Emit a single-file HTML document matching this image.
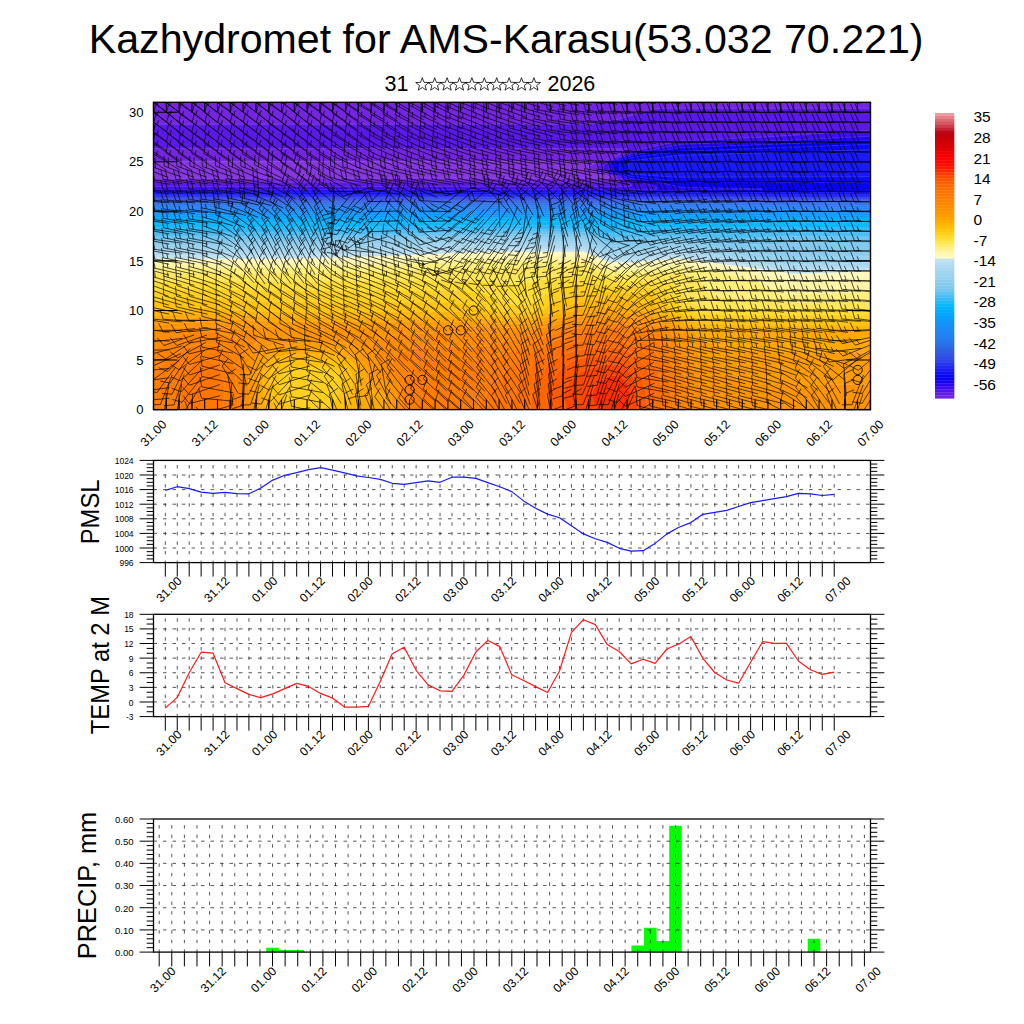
<!DOCTYPE html><html><head><meta charset="utf-8"><style>html,body{margin:0;padding:0;background:#fff;width:1024px;height:1024px;overflow:hidden}svg{display:block}</style></head><body>
<svg width="1024" height="1024" viewBox="0 0 1024 1024">
<rect width="1024" height="1024" fill="#fff"/>
<text x="88.8" y="52.8" font-family="Liberation Sans, sans-serif" font-size="41.5" fill="#000" textLength="834.7" lengthAdjust="spacingAndGlyphs">Kazhydromet for AMS-Karasu(53.032 70.221)</text>
<text x="384.6" y="91.2" font-family="Liberation Sans, sans-serif" font-size="21.5" fill="#000">31</text>
<text x="547.5" y="91.2" font-family="Liberation Sans, sans-serif" font-size="21.5" fill="#000">2026</text>
<polygon points="422.3,77.7 424.0,82.3 428.9,82.5 425.1,85.5 426.4,90.2 422.3,87.5 418.2,90.2 419.5,85.5 415.7,82.5 420.6,82.3" fill="none" stroke="#000" stroke-width="0.8"/>
<polygon points="434.7,77.7 436.4,82.3 441.3,82.5 437.5,85.5 438.8,90.2 434.7,87.5 430.6,90.2 431.9,85.5 428.1,82.5 433.0,82.3" fill="none" stroke="#000" stroke-width="0.8"/>
<polygon points="447.1,77.7 448.8,82.3 453.7,82.5 449.9,85.5 451.2,90.2 447.1,87.5 443.0,90.2 444.3,85.5 440.5,82.5 445.4,82.3" fill="none" stroke="#000" stroke-width="0.8"/>
<polygon points="459.5,77.7 461.2,82.3 466.1,82.5 462.3,85.5 463.6,90.2 459.5,87.5 455.4,90.2 456.7,85.5 452.9,82.5 457.8,82.3" fill="none" stroke="#000" stroke-width="0.8"/>
<polygon points="471.9,77.7 473.6,82.3 478.5,82.5 474.7,85.5 476.0,90.2 471.9,87.5 467.8,90.2 469.1,85.5 465.3,82.5 470.2,82.3" fill="none" stroke="#000" stroke-width="0.8"/>
<polygon points="484.3,77.7 486.0,82.3 490.9,82.5 487.1,85.5 488.4,90.2 484.3,87.5 480.2,90.2 481.5,85.5 477.7,82.5 482.6,82.3" fill="none" stroke="#000" stroke-width="0.8"/>
<polygon points="496.7,77.7 498.4,82.3 503.3,82.5 499.5,85.5 500.8,90.2 496.7,87.5 492.6,90.2 493.9,85.5 490.1,82.5 495.0,82.3" fill="none" stroke="#000" stroke-width="0.8"/>
<polygon points="509.1,77.7 510.8,82.3 515.7,82.5 511.9,85.5 513.2,90.2 509.1,87.5 505.0,90.2 506.3,85.5 502.5,82.5 507.4,82.3" fill="none" stroke="#000" stroke-width="0.8"/>
<polygon points="521.5,77.7 523.2,82.3 528.1,82.5 524.3,85.5 525.6,90.2 521.5,87.5 517.4,90.2 518.7,85.5 514.9,82.5 519.8,82.3" fill="none" stroke="#000" stroke-width="0.8"/>
<polygon points="533.9,77.7 535.6,82.3 540.5,82.5 536.7,85.5 538.0,90.2 533.9,87.5 529.8,90.2 531.1,85.5 527.3,82.5 532.2,82.3" fill="none" stroke="#000" stroke-width="0.8"/>
<svg x="153.5" y="102.3" width="717.0" height="307.3" viewBox="0 0 1434 615" preserveAspectRatio="none"><rect width="1434" height="615" fill="#8a3ae0"/><path fill="#8737e0" fill-rule="evenodd" stroke="#fff" stroke-opacity="0.22" stroke-width="1.2" d="M0 0 0 614 1433 614 1433 0z"/><path fill="#7425e1" fill-rule="evenodd" stroke="#fff" stroke-opacity="0.22" stroke-width="1.2" d="M0 0 0 118 887 118 887 120 870 128 869 131 908 147 911 150 908 152 0 152 0 614 1433 614 1433 0z"/><path fill="#5b19e7" fill-rule="evenodd" stroke="#fff" stroke-opacity="0.22" stroke-width="1.2" d="M1433 12 1013 12 984 18 919 37 875 44 0 44 0 92 949 93 935 103 887 127 889 135 921 149 932 158 931 160 0 160 0 614 1433 614z"/><path fill="#3e0eed" fill-rule="evenodd" stroke="#fff" stroke-opacity="0.22" stroke-width="1.2" d="M1433 56 1234 69 1058 77 997 89 949 101 924 112 899 126 900 135 902 137 945 157 957 166 951 169 0 169 0 614 1433 614z"/><path fill="#2306f2" fill-rule="evenodd" stroke="#fff" stroke-opacity="0.22" stroke-width="1.2" d="M1433 68 1227 78 1058 84 956 103 932 112 911 123 911 137 921 143 950 155 1000 167 1007 171 1005 175 0 175 0 614 1433 614z"/><path fill="#0801f7" fill-rule="evenodd" stroke="#fff" stroke-opacity="0.22" stroke-width="1.2" d="M1433 77 1052 91 960 106 938 113 921 123 921 136 924 140 934 145 954 152 1011 160 1055 170 1217 173 1217 175 1095 175 1029 178 0 178 0 614 1433 614z"/><path fill="#0a0af8" fill-rule="evenodd" stroke="#fff" stroke-opacity="0.22" stroke-width="1.2" d="M1433 180 0 181 0 614 1433 614zM1433 84 1049 98 960 110 948 113 933 121 933 139 939 143 954 148 1049 159 1433 161z"/><path fill="#191af7" fill-rule="evenodd" stroke="#fff" stroke-opacity="0.22" stroke-width="1.2" d="M0 184 0 614 1433 614 1433 184zM1433 95 1050 106 953 117 949 119 949 140 959 144 1045 150 1433 149z"/><path fill="#232df1" fill-rule="evenodd" stroke="#fff" stroke-opacity="0.22" stroke-width="1.2" d="M0 187 0 614 1433 614 1433 188z"/><path fill="#2c41ea" fill-rule="evenodd" stroke="#fff" stroke-opacity="0.22" stroke-width="1.2" d="M0 190 0 614 1433 614 1433 191z"/><path fill="#304fe6" fill-rule="evenodd" stroke="#fff" stroke-opacity="0.22" stroke-width="1.2" d="M0 193 0 614 1433 614 1433 194z"/><path fill="#3059e2" fill-rule="evenodd" stroke="#fff" stroke-opacity="0.22" stroke-width="1.2" d="M0 196 0 614 1433 614 1433 196z"/><path fill="#2f64e3" fill-rule="evenodd" stroke="#fff" stroke-opacity="0.22" stroke-width="1.2" d="M0 199 0 614 1433 614 1433 199z"/><path fill="#2b70eb" fill-rule="evenodd" stroke="#fff" stroke-opacity="0.22" stroke-width="1.2" d="M0 202 0 614 1433 614 1433 202z"/><path fill="#277af1" fill-rule="evenodd" stroke="#fff" stroke-opacity="0.22" stroke-width="1.2" d="M0 206 0 614 1433 614 1433 206z"/><path fill="#2281f3" fill-rule="evenodd" stroke="#fff" stroke-opacity="0.22" stroke-width="1.2" d="M0 210 0 614 1433 614 1433 210z"/><path fill="#1d88f5" fill-rule="evenodd" stroke="#fff" stroke-opacity="0.22" stroke-width="1.2" d="M0 214 0 614 1433 614 1433 214z"/><path fill="#188ff8" fill-rule="evenodd" stroke="#fff" stroke-opacity="0.22" stroke-width="1.2" d="M0 218 0 614 1433 614 1433 218z"/><path fill="#0e96fb" fill-rule="evenodd" stroke="#fff" stroke-opacity="0.22" stroke-width="1.2" d="M0 222 0 614 1433 614 1433 222z"/><path fill="#049dfe" fill-rule="evenodd" stroke="#fff" stroke-opacity="0.22" stroke-width="1.2" d="M0 227 0 614 1433 614 1433 227z"/><path fill="#00a7ff" fill-rule="evenodd" stroke="#fff" stroke-opacity="0.22" stroke-width="1.2" d="M0 231 0 614 1433 614 1433 231z"/><path fill="#00b1ff" fill-rule="evenodd" stroke="#fff" stroke-opacity="0.22" stroke-width="1.2" d="M0 235 0 614 1433 614 1433 235 869 235 708 233 561 235z"/><path fill="#0db8fd" fill-rule="evenodd" stroke="#fff" stroke-opacity="0.22" stroke-width="1.2" d="M0 241 0 614 1433 614 1433 241 878 241 865 239 734 238 486 241z"/><path fill="#2fb8f8" fill-rule="evenodd" stroke="#fff" stroke-opacity="0.22" stroke-width="1.2" d="M0 251 0 614 1433 614 1433 251 887 251 863 247 669 246 351 251z"/><path fill="#4dbef4" fill-rule="evenodd" stroke="#fff" stroke-opacity="0.22" stroke-width="1.2" d="M0 260 0 614 1433 614 1433 260 1223 260 1179 262 1082 262 1034 260 994 262 907 262 882 259 862 254 669 253 313 260z"/><path fill="#6bc4f1" fill-rule="evenodd" stroke="#fff" stroke-opacity="0.22" stroke-width="1.2" d="M0 268 0 614 1433 614 1433 269 1266 268 1199 272 1122 272 1059 268 1026 268 977 271 911 271 883 266 862 260 699 258 495 264 255 268z"/><path fill="#83c9ee" fill-rule="evenodd" stroke="#fff" stroke-opacity="0.22" stroke-width="1.2" d="M0 275 0 614 1433 614 1433 283 1275 280 1240 284 1197 285 1129 282 1051 275 946 281 911 280 866 267 853 265 732 264 275 275z"/><path fill="#8cccee" fill-rule="evenodd" stroke="#fff" stroke-opacity="0.22" stroke-width="1.2" d="M0 281 0 614 1433 614 1433 297 1227 297 1157 292 1051 281 961 288 911 287 860 270 675 269 481 276 261 281z"/><path fill="#95d0ef" fill-rule="evenodd" stroke="#fff" stroke-opacity="0.22" stroke-width="1.2" d="M0 286 0 614 1433 614 1433 308 1280 311 1051 286 1036 286 958 294 909 292 859 274 679 273 464 281 258 286z"/><path fill="#9ed3ef" fill-rule="evenodd" stroke="#fff" stroke-opacity="0.22" stroke-width="1.2" d="M0 291 0 614 1433 614 1433 316 1274 319 1051 291 1036 291 953 300 911 298 861 279 688 277 485 285 256 291z"/><path fill="#a7d7f0" fill-rule="evenodd" stroke="#fff" stroke-opacity="0.22" stroke-width="1.2" d="M0 296 0 614 1433 614 1433 321 1273 325 1052 296 1035 296 955 305 911 303 860 283 677 282 479 290 254 296z"/><path fill="#b1daf0" fill-rule="evenodd" stroke="#fff" stroke-opacity="0.22" stroke-width="1.2" d="M0 301 0 614 1433 614 1433 327 1278 331 1050 301 957 310 910 308 865 290 856 288 684 287 487 295 265 301z"/><path fill="#c2e2f1" fill-rule="evenodd" stroke="#fff" stroke-opacity="0.22" stroke-width="1.2" d="M0 306 0 614 1433 614 1433 332 1275 336 1046 306 961 315 916 314 904 311 861 294 696 292 472 301 245 307z"/><path fill="#fff9bf" fill-rule="evenodd" stroke="#fff" stroke-opacity="0.22" stroke-width="1.2" d="M0 313 0 614 1433 614 1433 339 1275 343 1241 337 1048 312 954 321 911 319 860 299 672 299 479 307 254 313z"/><path fill="#fff5a4" fill-rule="evenodd" stroke="#fff" stroke-opacity="0.22" stroke-width="1.2" d="M0 322 0 614 1433 614 1433 351 1277 359 1241 349 1191 340 1046 321 952 330 917 328 901 324 860 308 680 308 487 316 265 322z"/><path fill="#fff07e" fill-rule="evenodd" stroke="#fff" stroke-opacity="0.22" stroke-width="1.2" d="M0 331 0 614 1433 614 1433 379 1276 385 1248 379 1230 373 1216 365 1206 356 1136 342 1047 330 957 338 911 336 861 317 681 317 487 325 265 331z"/><path fill="#ffe759" fill-rule="evenodd" stroke="#fff" stroke-opacity="0.22" stroke-width="1.2" d="M1433 399 1279 401 1141 391 1122 388 1111 384 1109 381 1110 378 1102 374 1093 356 1079 348 1050 341 990 343 958 346 911 344 860 326 728 331 669 331 471 338 250 343 0 342 0 614 1433 614z"/><path fill="#ffdd34" fill-rule="evenodd" stroke="#fff" stroke-opacity="0.22" stroke-width="1.2" d="M1433 416 1263 417 1155 415 1107 412 1088 407 1069 396 1060 387 1052 373 1045 367 1034 362 995 357 939 358 910 356 890 350 862 345 803 350 740 363 713 363 645 356 512 356 246 360 167 358 0 359 0 614 1433 614z"/><path fill="#ffd11e" fill-rule="evenodd" stroke="#fff" stroke-opacity="0.22" stroke-width="1.2" d="M1433 426 1162 426 1102 424 1084 421 1068 416 1044 398 1024 380 1011 374 986 370 909 368 897 365 875 363 839 366 808 373 793 379 769 395 755 402 734 406 713 403 661 383 618 377 198 376 114 373 0 376 0 614 1433 614z"/><path fill="#ffc40d" fill-rule="evenodd" stroke="#fff" stroke-opacity="0.22" stroke-width="1.2" d="M1433 436 1173 436 1097 433 1075 428 1044 417 1017 397 997 387 982 384 894 378 870 379 837 385 814 394 774 416 740 421 719 421 681 417 635 404 589 400 241 400 137 393 67 393 0 398 0 614 1433 614zM252 549 261 538 273 533 288 531 345 531 356 533 367 538 376 550 377 561 373 577 367 590 360 600 351 608 342 612 328 614 292 613 280 610 273 606 261 592 251 567z"/><path fill="#ffb704" fill-rule="evenodd" stroke="#fff" stroke-opacity="0.22" stroke-width="1.2" d="M1433 446 1184 446 1102 443 1089 441 1062 433 1019 417 992 403 961 398 907 394 877 395 856 398 832 405 806 417 771 425 737 429 700 428 642 421 594 419 281 420 176 417 131 412 73 412 28 417 0 418 0 614 241 614 232 572 231 555 234 540 238 533 252 522 266 518 289 516 346 516 363 518 380 524 390 533 396 546 397 564 394 584 386 614 1433 614z"/><path fill="#ffaa00" fill-rule="evenodd" stroke="#fff" stroke-opacity="0.22" stroke-width="1.2" d="M1433 456 1195 456 1108 453 1080 448 1019 425 997 419 948 412 911 409 869 411 778 431 741 436 701 436 613 429 297 430 207 428 135 423 69 423 0 427 0 614 225 614 219 568 219 547 221 537 226 526 241 513 254 508 273 505 342 504 372 507 388 513 403 526 410 542 412 554 412 582 405 614 1433 614z"/><path fill="#ff9d00" fill-rule="evenodd" stroke="#fff" stroke-opacity="0.22" stroke-width="1.2" d="M1433 501 1234 500 1169 495 1146 491 1104 479 1088 468 1077 456 1014 432 983 425 918 420 885 420 849 423 772 439 740 443 687 443 633 439 237 439 112 431 65 432 0 437 0 614 213 614 209 572 209 541 212 528 217 518 227 507 242 499 259 495 285 493 366 494 383 497 402 506 416 522 432 564 439 571 453 577 462 586 466 598 465 608 462 614 1433 614z"/><path fill="#ff9500" fill-rule="evenodd" stroke="#fff" stroke-opacity="0.22" stroke-width="1.2" d="M1433 565 1247 564 1210 561 1174 554 1135 538 1098 513 1083 498 1051 455 998 436 942 429 862 429 832 433 763 447 712 451 632 448 261 450 204 447 126 440 78 440 0 446 0 614 203 614 199 565 199 540 201 527 210 506 223 493 237 486 252 482 284 479 372 480 389 483 411 493 424 507 444 546 466 567 470 573 477 592 476 614 1433 614z"/><path fill="#ff8d00" fill-rule="evenodd" stroke="#fff" stroke-opacity="0.22" stroke-width="1.2" d="M0 456 0 614 193 614 189 538 194 507 199 493 210 472 210 466 206 460 200 456 109 448 57 450zM1135 614 1115 599 1100 582 1087 556 1070 514 1032 457 1022 452 987 442 935 436 881 435 839 439 766 453 701 461 586 460 503 464 476 467 455 472 445 479 443 485 448 516 455 530 475 558 484 579 487 595 485 614z"/><path fill="#ff8500" fill-rule="evenodd" stroke="#fff" stroke-opacity="0.22" stroke-width="1.2" d="M0 492 0 614 182 614 178 547 178 500 176 490 166 476 152 468 129 461 116 459 88 459 75 461 48 469zM1061 544 1051 516 1045 505 1022 471 1008 456 981 449 942 444 904 442 867 443 839 446 788 455 738 471 670 486 638 489 569 488 517 493 489 502 478 513 478 526 492 567 496 585 496 614 1078 614z"/><path fill="#ff7e00" fill-rule="evenodd" stroke="#fff" stroke-opacity="0.22" stroke-width="1.2" d="M156 507 149 499 140 493 124 487 113 485 90 485 76 488 62 493 37 507 25 516 0 548 0 614 169 614 164 537 161 517zM1057 614 1050 571 1042 540 1033 515 1021 496 1011 483 990 464 973 456 925 450 869 450 825 455 756 480 695 506 665 515 632 517 577 512 539 515 526 519 514 526 507 536 505 547 511 591 510 614z"/><path fill="#ff7700" fill-rule="evenodd" stroke="#fff" stroke-opacity="0.22" stroke-width="1.2" d="M82 522 69 534 58 557 55 574 53 614 140 614 141 563 138 547 132 533 124 524 109 517 95 517zM1038 604 1032 565 1022 531 1014 513 995 490 976 477 946 464 913 458 879 458 847 463 803 477 757 498 729 515 705 538 672 574 658 594 647 614 1038 614z"/><path fill="#ff7000" fill-rule="evenodd" stroke="#fff" stroke-opacity="0.22" stroke-width="1.2" d="M1021 603 1018 577 1009 542 996 515 983 502 964 489 938 478 915 474 879 474 846 479 822 486 790 500 766 515 746 537 735 554 724 578 715 614 1021 614z"/><path fill="#ff6500" fill-rule="evenodd" stroke="#fff" stroke-opacity="0.22" stroke-width="1.2" d="M1003 589 999 565 992 544 982 526 965 508 949 498 927 491 873 491 845 496 817 506 799 516 784 530 770 549 761 568 755 591 754 614 1003 614z"/><path fill="#ff5a00" fill-rule="evenodd" stroke="#fff" stroke-opacity="0.22" stroke-width="1.2" d="M984 574 978 554 970 538 963 528 946 513 924 506 897 506 865 510 848 514 834 520 819 530 805 544 798 554 790 572 787 585 787 610 788 614 985 614 986 588z"/><path fill="#ff4700" fill-rule="evenodd" stroke="#fff" stroke-opacity="0.22" stroke-width="1.2" d="M962 556 956 545 944 532 926 524 908 524 897 526 858 538 843 547 832 558 825 570 821 586 821 595 825 611 827 614 968 614 970 600 969 581z"/><path fill="#ff3000" fill-rule="evenodd" stroke="#fff" stroke-opacity="0.22" stroke-width="1.2" d="M882 571 877 583 877 592 880 601 889 614 951 614 954 600 953 580 947 563 935 550 927 547 916 547 907 550 892 560z"/></svg><clipPath id="clipTop"><rect x="153.5" y="102.3" width="717.0" height="307.3"/></clipPath><g clip-path="url(#clipTop)"><path d="M169.5 409.6L137.5 409.6M137.5 409.6L133.8 400.3M169.4 398.3L137.6 401.1M137.6 401.1L133.0 392.2M169.4 387.6L137.6 391.9M137.6 391.9L132.7 383.2M169.4 377.8L137.6 381.9M137.6 381.9L132.7 373.2M169.4 368.4L137.6 371.5M137.6 371.5L132.9 362.7M169.5 359.1L137.5 360.9M137.5 360.9L133.3 351.9M169.5 349.8L137.5 350.5M137.5 350.5L133.5 341.3M169.5 341.1L137.5 339.3M137.5 339.3L134.3 329.8M169.4 332.2L137.6 328.4M137.6 328.4L135.0 318.7M169.3 323.2L137.7 317.6M137.7 317.6L135.7 307.8M169.1 314.2L137.9 306.8M137.9 306.8L136.4 296.9M168.8 305.2L138.2 295.9M138.2 295.9L137.3 286.0M168.5 296.3L138.5 285.0M138.5 285.0L138.3 275.0M168.7 285.8L138.3 275.7M138.3 275.7L137.7 265.7M142.6 277.1L142.3 272.1M168.9 275.1L138.1 266.5M138.1 266.5L137.0 256.6M142.4 267.7L141.9 262.8M169.1 264.3L137.9 257.5M137.9 257.5L136.2 247.6M142.3 258.4L141.4 253.5M169.2 254.2L137.8 247.7M137.8 247.7L136.1 237.9M142.2 248.7L141.3 243.7M169.2 244.1L137.8 238.1M137.8 238.1L135.8 228.3M142.2 238.9L141.2 234.0M169.3 233.9L137.7 228.4M137.7 228.4L135.6 218.7M142.2 229.2L141.1 224.3M169.4 223.4L137.6 219.1M137.6 219.1L135.2 209.4M142.1 219.7L140.9 214.9M169.4 213.1L137.6 209.6M137.6 209.6L134.9 199.9M142.1 210.1L140.7 205.3M169.4 202.9L137.6 199.9M137.6 199.9L134.7 190.3M142.1 200.3L139.2 190.8M169.4 193.6L137.6 189.4M137.6 189.4L135.1 179.7M142.1 190.0L139.6 180.3M169.3 184.2L137.7 179.0M137.7 179.0L135.5 169.3M142.2 179.7L140.0 170.0M168.4 177.5L138.6 165.9M138.6 165.9L138.5 155.9M142.8 167.5L142.7 157.5M166.9 170.5L140.1 153.1M140.1 153.1L142.0 143.3M143.8 155.5L144.8 150.6M166.9 160.6L140.1 143.1M140.1 143.1L142.0 133.3M143.9 145.6L144.8 140.7M166.8 150.9L140.2 133.0M140.2 133.0L142.3 123.3M143.9 135.5L145.0 130.7M166.6 141.3L140.4 122.8M140.4 122.8L142.7 113.1M144.1 125.4L145.2 120.5M166.5 131.5L140.5 112.8M140.5 112.8L142.9 103.1M144.2 115.4L145.4 110.5M166.3 121.7L140.7 102.7M140.7 102.7L143.2 93.0M144.3 105.4L145.5 100.5M166.3 111.9L140.7 92.7M140.7 92.7L143.3 83.0M144.3 95.4L145.6 90.5M166.1 393.6L166.5 425.6M166.5 425.6L157.2 429.4M169.0 383.9L163.6 415.5M163.6 415.5L153.9 417.6M172.2 374.9L160.4 404.6M160.4 404.6L150.4 404.7M175.8 367.0L156.8 392.7M156.8 392.7L147.1 390.2M179.1 360.4L153.5 379.5M153.5 379.5L144.9 374.3M181.0 353.7L151.6 366.4M151.6 366.4L144.5 359.3M181.8 346.0L150.8 354.2M150.8 354.2L144.8 346.2M182.2 338.4L150.4 342.1M150.4 342.1L145.6 333.3M182.3 330.3L150.3 330.3M150.3 330.3L146.6 321.0M182.2 322.0L150.4 318.8M150.4 318.8L147.6 309.2M181.9 313.8L150.7 307.1M150.7 307.1L149.0 297.2M181.7 305.1L150.9 296.1M150.9 296.1L150.0 286.1M181.3 296.1L151.3 285.1M151.3 285.1L150.9 275.2M181.6 285.4L151.0 276.1M151.0 276.1L150.1 266.2M155.3 277.4L154.8 272.4M181.9 274.4L150.7 267.3M150.7 267.3L149.1 257.4M155.1 268.3L154.3 263.3M182.1 263.3L150.5 258.5M150.5 258.5L148.2 248.7M154.9 259.2L153.8 254.3M182.2 253.2L150.5 248.8M150.5 248.8L148.0 239.1M154.9 249.4L153.7 244.6M182.2 243.2L150.5 238.9M150.5 238.9L148.0 229.2M154.9 239.5L153.7 234.7M182.1 233.5L150.5 228.9M150.5 228.9L148.1 219.2M154.9 229.5L153.7 224.7M182.2 223.4L150.4 219.2M150.4 219.2L147.9 209.5M154.9 219.7L153.7 214.9M182.2 213.2L150.4 209.5M150.4 209.5L147.8 199.8M154.9 210.0L153.6 205.2M182.2 202.9L150.4 200.0M150.4 200.0L147.5 190.4M154.9 200.4L152.0 190.8M182.2 193.3L150.4 189.7M150.4 189.7L147.7 180.1M154.9 190.2L152.2 180.6M182.2 183.6L150.4 179.6M150.4 179.6L147.9 169.9M154.9 180.2L152.3 170.5M181.4 176.9L151.2 166.5M151.2 166.5L150.7 156.5M155.4 167.9L154.9 158.0M180.0 170.1L152.6 153.4M152.6 153.4L154.3 143.6M156.5 155.8L157.3 150.9M179.7 160.6L152.9 143.1M152.9 143.1L154.9 133.3M156.7 145.6L157.7 140.7M179.3 151.3L153.3 132.6M153.3 132.6L155.6 122.9M157.0 135.3L158.1 130.4M178.9 141.9L153.7 122.2M153.7 122.2L156.4 112.6M157.2 125.0L158.6 120.2M178.8 132.1L153.8 112.2M153.8 112.2L156.6 102.6M157.3 115.0L158.7 110.2M178.8 122.2L153.8 102.3M153.8 102.3L156.6 92.7M157.3 105.1L158.7 100.3M178.9 112.1L153.7 92.5M153.7 92.5L156.4 82.9M157.2 95.2L158.6 90.4M178.9 393.6L179.3 425.6M179.3 425.6L170.1 429.4M181.8 383.9L176.4 415.5M176.4 415.5L166.7 417.6M184.2 374.6L174.0 404.9M174.0 404.9L164.0 405.6M186.2 365.5L172.0 394.2M172.0 394.2L162.0 393.4M188.1 356.7L170.1 383.1M170.1 383.1L160.3 381.0M190.3 348.6L167.9 371.5M167.9 371.5L158.7 367.7M192.5 341.3L165.7 358.9M165.7 358.9L157.5 353.3M194.2 334.9L164.0 345.5M164.0 345.5L157.4 338.0M195.0 328.6L163.2 332.0M163.2 332.0L158.5 323.1M195.1 321.6L163.2 319.2M163.2 319.2L160.1 309.7M194.6 314.6L163.6 306.4M163.6 306.4L162.4 296.4M194.3 305.5L163.9 295.6M163.9 295.6L163.2 285.6M194.1 296.3L164.1 285.0M164.1 285.0L163.9 275.0M194.4 285.4L163.8 276.1M163.8 276.1L162.9 266.1M168.1 277.4L167.7 272.4M194.7 274.6L163.6 267.0M163.6 267.0L162.1 257.1M167.9 268.1L167.2 263.2M194.8 264.0L163.4 257.9M163.4 257.9L161.5 248.0M167.8 258.7L166.9 253.8M194.8 254.2L163.4 247.8M163.4 247.8L161.6 238.0M167.8 248.7L166.9 243.8M194.7 244.4L163.5 237.7M163.5 237.7L161.8 227.9M167.9 238.7L167.0 233.7M194.7 234.6L163.5 227.7M163.5 227.7L161.8 217.9M167.9 228.7L167.0 223.8M194.8 224.2L163.4 218.3M163.4 218.3L161.4 208.5M167.8 219.1L166.8 214.2M194.9 213.7L163.3 209.0M163.3 209.0L160.9 199.3M167.7 209.7L166.5 204.8M195.0 203.0L163.2 199.8M163.2 199.8L160.4 190.2M167.7 200.3L164.9 190.7M195.0 193.3L163.2 189.7M163.2 189.7L160.5 180.1M167.7 190.2L165.0 180.6M195.0 183.8L163.3 179.4M163.3 179.4L160.8 169.7M167.7 180.0L165.3 170.3M194.1 177.4L164.2 166.0M164.2 166.0L164.0 156.0M168.4 167.6L168.2 157.6M192.3 170.8L165.9 152.8M165.9 152.8L168.0 143.0M169.6 155.3L170.7 150.4M192.0 161.3L166.2 142.4M166.2 142.4L168.6 132.7M169.8 145.1L171.1 140.2M191.8 151.7L166.4 132.2M166.4 132.2L169.1 122.6M170.0 134.9L171.3 130.1M191.7 142.0L166.5 122.1M166.5 122.1L169.4 112.5M170.1 124.9L171.5 120.1M191.8 131.8L166.4 112.4M166.4 112.4L169.0 102.8M170.0 115.2L171.3 110.3M192.0 121.7L166.2 102.7M166.2 102.7L168.7 93.1M169.8 105.4L171.1 100.6M192.1 111.7L166.1 92.9M166.1 92.9L168.5 83.2M169.8 95.6L171.0 90.7M192.6 393.6L191.3 425.6M191.3 425.6L181.9 429.0M200.5 386.2L183.3 413.2M183.3 413.2L173.5 411.4M201.8 377.2L182.0 402.3M182.0 402.3L172.4 399.5M202.6 368.0L181.2 391.8M181.2 391.8L171.8 388.3M203.5 359.0L180.3 380.9M180.3 380.9L171.2 376.8M204.7 350.4L179.1 369.7M179.1 369.7L170.6 364.5M205.9 342.4L177.9 357.9M177.9 357.9L170.1 351.6M207.0 335.0L176.8 345.5M176.8 345.5L170.2 337.9M207.7 327.9L176.1 332.7M176.1 332.7L171.0 324.1M207.9 320.5L175.9 320.2M175.9 320.2L172.3 310.9M207.5 314.2L176.3 306.8M176.3 306.8L174.8 296.9M207.3 304.9L176.5 296.2M176.5 296.2L175.4 286.3M207.1 295.8L176.8 285.5M176.8 285.5L176.2 275.5M207.3 285.2L176.5 276.3M176.5 276.3L175.5 266.3M180.9 277.5L180.4 272.6M207.4 274.7L176.4 266.9M176.4 266.9L175.0 257.0M180.8 268.0L180.1 263.1M207.6 264.2L176.3 257.6M176.3 257.6L174.5 247.8M180.7 258.5L179.8 253.6M207.6 254.2L176.2 247.8M176.2 247.8L174.4 237.9M180.6 248.7L179.7 243.8M207.6 244.0L176.2 238.1M176.2 238.1L174.2 228.3M180.6 239.0L179.6 234.1M207.7 233.7L176.1 228.6M176.1 228.6L173.9 218.9M180.6 229.3L179.5 224.5M207.8 223.1L176.0 219.4M176.0 219.4L173.4 209.8M180.5 219.9L179.2 215.1M207.9 212.5L176.0 210.1M176.0 210.1L172.9 200.6M180.4 210.5L178.9 205.7M207.9 202.2L175.9 200.7M175.9 200.7L172.6 191.2M180.4 200.9L177.1 191.4M207.9 192.9L176.0 190.1M176.0 190.1L173.0 180.6M180.5 190.5L177.5 181.0M207.8 183.7L176.0 179.6M176.0 179.6L173.5 169.9M180.5 180.1L178.0 170.5M206.9 177.3L176.9 166.1M176.9 166.1L176.6 156.1M181.1 167.7L180.9 157.7M205.3 170.5L178.5 153.1M178.5 153.1L180.4 143.3M182.3 155.5L183.2 150.6M205.2 160.7L178.6 143.0M178.6 143.0L180.6 133.2M182.3 145.5L183.3 140.6M205.2 150.9L178.7 133.0M178.7 133.0L180.8 123.2M182.4 135.5L183.4 130.6M205.0 141.2L178.8 122.9M178.8 122.9L181.0 113.1M182.5 125.5L183.6 120.6M205.0 131.3L178.8 113.0M178.8 113.0L181.0 103.2M182.5 115.6L183.6 110.7M204.9 121.5L178.9 102.9M178.9 102.9L181.2 93.2M182.6 105.5L183.7 100.7M204.8 111.8L179.1 92.8M179.1 92.8L181.6 83.1M182.7 95.4L183.9 90.6M220.7 409.1L188.7 410.1M188.7 410.1L184.7 401.0M220.2 395.7L189.2 403.6M189.2 403.6L183.3 395.6M219.8 384.6L189.6 395.0M189.6 395.0L183.0 387.4M219.8 374.5L189.6 385.2M189.6 385.2L183.0 377.8M219.9 364.9L189.5 375.0M189.5 375.0L183.0 367.4M220.1 355.5L189.4 364.5M189.4 364.5L183.2 356.7M220.3 346.3L189.2 353.9M189.2 353.9L183.3 345.8M220.5 337.4L189.0 343.1M189.0 343.1L183.6 334.6M220.6 328.7L188.8 331.9M188.8 331.9L184.1 323.1M220.7 320.3L188.7 320.4M188.7 320.4L184.9 311.2M220.4 313.6L189.0 307.3M189.0 307.3L187.2 297.5M220.1 304.8L189.3 296.3M189.3 296.3L188.1 286.4M219.8 296.1L189.7 285.2M189.7 285.2L189.3 275.2M219.9 285.7L189.5 275.8M189.5 275.8L188.8 265.8M193.8 277.2L193.4 272.2M220.1 275.1L189.3 266.5M189.3 266.5L188.2 256.6M193.6 267.7L193.1 262.8M220.3 264.4L189.1 257.4M189.1 257.4L187.5 247.6M193.5 258.4L192.7 253.5M220.4 254.1L189.0 247.9M189.0 247.9L187.1 238.1M193.4 248.8L192.5 243.9M220.5 243.8L189.0 238.3M189.0 238.3L186.8 228.6M193.4 239.1L192.3 234.2M220.5 233.7L188.9 228.6M188.9 228.6L186.7 218.9M193.4 229.3L192.2 224.5M220.6 223.5L188.9 219.0M188.9 219.0L186.5 209.3M193.3 219.7L192.1 214.8M220.6 213.4L188.8 209.3M188.8 209.3L186.3 199.6M193.3 209.9L192.0 205.0M220.6 203.3L188.8 199.6M188.8 199.6L186.2 189.9M193.3 200.1L190.6 190.5M220.5 193.9L188.9 189.1M188.9 189.1L186.6 179.4M193.3 189.8L191.0 180.1M220.5 184.4L189.0 178.8M189.0 178.8L186.9 169.0M193.4 179.6L191.3 169.8M219.6 177.6L189.9 165.8M189.9 165.8L189.8 155.8M194.0 167.4L194.0 157.4M218.1 170.6L191.4 153.0M191.4 153.0L193.4 143.2M195.1 155.4L196.1 150.5M217.9 160.9L191.5 142.8M191.5 142.8L193.6 133.1M195.2 145.4L196.3 140.5M217.7 151.3L191.7 132.6M191.7 132.6L194.1 122.9M195.4 135.2L196.6 130.4M217.3 141.9L192.1 122.2M192.1 122.2L194.8 112.6M195.6 125.0L197.0 120.2M217.2 132.1L192.2 112.1M192.2 112.1L195.1 102.5M195.8 114.9L197.2 110.1M217.1 122.4L192.3 102.1M192.3 102.1L195.3 92.5M195.8 104.9L197.3 100.1M217.1 112.4L192.3 92.2M192.3 92.2L195.3 82.6M195.8 95.0L197.3 90.2M232.8 404.8L202.3 414.4M202.3 414.4L195.9 406.7M233.4 401.2L201.6 398.2M201.6 398.2L198.7 388.6M233.2 392.8L201.8 386.8M201.8 386.8L199.9 377.0M233.1 383.3L201.9 376.4M201.9 376.4L200.2 366.6M233.0 373.8L202.0 366.1M202.0 366.1L200.6 356.2M233.1 363.6L201.9 356.5M201.9 356.5L200.3 346.6M233.2 353.2L201.8 347.1M201.8 347.1L199.9 337.2M233.3 343.0L201.8 337.4M201.8 337.4L199.7 327.6M233.2 333.4L201.8 327.2M201.8 327.2L199.9 317.4M233.0 324.3L202.0 316.4M202.0 316.4L200.7 306.5M232.4 316.3L202.6 304.7M202.6 304.7L202.5 294.7M232.1 307.0L202.9 294.1M202.9 294.1L203.2 284.1M231.9 297.6L203.1 283.7M203.1 283.7L203.8 273.7M232.1 287.4L203.0 274.1M203.0 274.1L203.4 264.1M207.1 276.0L207.3 271.0M232.3 277.0L202.8 264.6M202.8 264.6L202.9 254.6M206.9 266.3L207.0 261.3M232.4 266.7L202.6 255.1M202.6 255.1L202.5 245.1M206.8 256.7L206.7 251.7M232.5 256.6L202.5 245.4M202.5 245.4L202.3 235.4M206.7 247.0L206.6 242.0M232.5 246.6L202.5 235.6M202.5 235.6L202.2 225.6M206.7 237.1L206.6 232.1M232.5 236.7L202.5 225.6M202.5 225.6L202.2 215.6M206.7 227.2L206.6 222.2M232.9 225.7L202.1 216.8M202.1 216.8L201.1 206.9M206.5 218.1L205.9 213.1M233.2 214.7L201.9 208.0M201.9 208.0L200.1 198.2M206.3 209.0L205.4 204.0M233.4 203.7L201.7 199.2M201.7 199.2L199.3 189.5M206.1 199.8L203.7 190.1M233.4 193.6L201.7 189.4M201.7 189.4L199.1 179.8M206.1 190.0L203.6 180.3M233.4 183.6L201.6 179.6M201.6 179.6L199.1 170.0M206.1 180.2L203.5 170.5M232.7 176.9L202.4 166.5M202.4 166.5L201.8 156.5M206.6 168.0L206.1 158.0M231.2 170.1L203.9 153.5M203.9 153.5L205.5 143.6M207.7 155.8L208.5 150.9M230.9 160.7L204.2 143.1M204.2 143.1L206.1 133.3M207.9 145.5L208.9 140.6M230.5 151.2L204.5 132.7M204.5 132.7L206.8 122.9M208.2 135.3L209.3 130.4M230.3 141.7L204.8 122.4M204.8 122.4L207.4 112.7M208.3 125.1L209.7 120.3M230.3 131.7L204.7 112.5M204.7 112.5L207.3 102.9M208.3 115.2L209.6 110.4M230.5 121.6L204.6 102.8M204.6 102.8L207.0 93.1M208.2 105.5L209.4 100.6M230.6 111.5L204.4 93.1M204.4 93.1L206.7 83.4M208.1 95.7L209.2 90.8M233.5 393.9L227.2 425.3M227.2 425.3L217.3 427.1M231.6 383.7L229.1 415.6M229.1 415.6L219.5 418.7M233.0 405.5L227.6 374.0M227.6 374.0L236.1 368.7M238.4 393.7L222.2 366.0M222.2 366.0L228.4 358.1M241.9 381.0L218.8 358.9M218.8 358.9L222.5 349.6M243.4 369.3L217.3 350.8M217.3 350.8L219.6 341.0M244.2 358.1L216.4 342.2M216.4 342.2L217.8 332.3M244.7 347.3L216.0 333.1M216.0 333.1L216.8 323.1M244.8 337.1L215.8 323.5M215.8 323.5L216.4 313.5M244.8 327.2L215.9 313.5M215.9 313.5L216.5 303.5M244.8 317.4L215.9 303.6M215.9 303.6L216.5 293.6M244.8 307.5L215.9 293.7M215.9 293.7L216.5 283.7M244.8 297.5L215.9 283.8M215.9 283.8L216.5 273.8M244.5 288.1L216.1 273.3M216.1 273.3L217.1 263.4M220.1 275.4L220.6 270.4M244.0 279.2L216.7 262.5M216.7 262.5L218.3 252.6M220.5 264.8L221.3 259.9M243.1 270.6L217.6 251.3M217.6 251.3L220.2 241.6M221.1 254.0L222.4 249.1M243.1 260.6L217.5 241.4M217.5 241.4L220.1 231.7M221.1 244.1L222.4 239.3M243.2 250.6L217.4 231.6M217.4 231.6L219.9 221.9M221.1 234.3L222.3 229.4M243.4 240.4L217.3 221.9M217.3 221.9L219.5 212.2M220.9 224.5L222.1 219.7M244.9 227.7L215.7 214.8M215.7 214.8L216.0 204.8M219.8 216.6L220.0 211.6M245.8 215.4L214.8 207.3M214.8 207.3L213.6 197.4M219.2 208.4L218.6 203.5M246.1 203.8L214.5 199.1M214.5 199.1L212.1 189.4M218.9 199.7L216.6 190.0M246.2 193.7L214.5 189.3M214.5 189.3L212.1 179.6M218.9 189.9L216.5 180.2M246.2 183.9L214.5 179.3M214.5 179.3L212.1 169.6M218.9 180.0L216.6 170.2M245.2 177.5L215.4 165.9M215.4 165.9L215.3 155.9M219.6 167.5L219.5 157.5M243.5 170.8L217.1 152.8M217.1 152.8L219.2 143.0M220.8 155.3L221.9 150.4M243.3 161.3L217.4 142.5M217.4 142.5L219.8 132.8M221.0 145.1L222.2 140.3M243.1 151.6L217.5 132.3M217.5 132.3L220.1 122.7M221.1 135.0L222.4 130.2M243.0 141.8L217.6 122.3M217.6 122.3L220.3 112.7M221.2 125.0L222.5 120.2M243.1 131.7L217.5 112.5M217.5 112.5L220.1 102.9M221.1 115.2L222.4 110.4M243.2 121.8L217.5 102.7M217.5 102.7L220.0 93.0M221.1 105.3L222.4 100.5M243.1 112.0L217.6 92.6M217.6 92.6L220.2 83.0M221.2 95.4L222.5 90.5M244.1 393.6L242.1 425.6M242.1 425.6L232.6 428.7M244.5 383.7L241.8 415.6M241.8 415.6L232.2 418.6M244.4 373.8L241.9 405.7M241.9 405.7L232.3 408.7M243.5 363.9L242.8 395.9M242.8 395.9L233.4 399.4M246.3 385.6L240.0 354.3M240.0 354.3L248.3 348.8M251.6 373.6L234.6 346.5M234.6 346.5L240.5 338.4M254.8 361.0L231.4 339.2M231.4 339.2L235.0 329.9M255.7 350.1L230.5 330.4M230.5 330.4L233.3 320.7M256.1 339.6L230.1 321.0M230.1 321.0L232.5 311.2M256.2 329.6L230.0 311.2M230.0 311.2L232.3 301.5M256.7 319.0L229.6 301.9M229.6 301.9L231.4 292.1M256.8 308.9L229.5 292.2M229.5 292.2L231.2 282.3M256.8 299.0L229.5 282.3M229.5 282.3L231.2 272.4M255.6 290.7L230.6 270.7M230.6 270.7L233.5 261.1M234.2 273.5L235.6 268.7M253.9 282.7L232.4 259.0M232.4 259.0L236.8 250.0M235.4 262.3L237.6 257.8M251.7 274.4L234.6 247.4M234.6 247.4L240.4 239.3M237.0 251.2L239.9 247.1M252.1 264.2L234.1 237.8M234.1 237.8L239.7 229.5M236.7 241.5L239.4 237.3M252.7 253.9L233.6 228.2M233.6 228.2L238.8 219.7M236.3 231.9L238.9 227.6M253.2 243.6L233.0 218.8M233.0 218.8L237.8 210.0M235.9 222.3L238.3 217.9M256.1 230.6L230.2 211.9M230.2 211.9L232.6 202.2M233.8 214.5L235.0 209.7M258.0 217.3L228.3 205.4M228.3 205.4L228.2 195.4M232.4 207.1L232.4 202.1M258.7 205.1L227.5 197.8M227.5 197.8L226.0 187.9M231.9 198.8L230.4 188.9M258.7 195.0L227.5 188.1M227.5 188.1L225.9 178.2M231.9 189.0L230.2 179.2M258.8 184.8L227.4 178.4M227.4 178.4L225.6 168.6M231.9 179.3L230.0 169.5M257.9 177.9L228.4 165.4M228.4 165.4L228.6 155.4M232.5 167.2L232.7 157.2M256.4 170.7L229.8 152.8M229.8 152.8L231.9 143.1M233.6 155.4L234.6 150.5M256.4 160.9L229.9 142.9M229.9 142.9L232.0 133.1M233.6 145.4L234.7 140.5M256.3 151.1L230.0 132.8M230.0 132.8L232.2 123.1M233.7 135.4L234.8 130.5M256.1 141.4L230.1 122.7M230.1 122.7L232.5 113.0M233.8 125.3L235.0 120.5M256.0 131.6L230.2 112.7M230.2 112.7L232.7 103.0M233.8 115.3L235.1 110.5M255.9 121.8L230.3 102.6M230.3 102.6L232.9 92.9M233.9 105.3L235.2 100.5M255.8 112.0L230.4 92.6M230.4 92.6L233.1 82.9M234.0 95.3L235.3 90.5M257.1 393.6L254.8 425.6M254.8 425.6L245.2 428.6M259.4 384.1L252.5 415.3M252.5 415.3L242.6 417.0M261.4 374.7L250.4 404.8M250.4 404.8L240.4 405.1M262.9 365.5L248.9 394.2M248.9 394.2L239.0 393.6M263.5 355.9L248.3 384.0M248.3 384.0L238.4 382.9M262.1 345.3L249.8 374.8M249.8 374.8L239.8 374.7M268.3 360.3L243.6 339.9M243.6 339.9L246.6 330.4M268.6 349.9L243.2 330.5M243.2 330.5L245.9 320.9M268.5 340.2L243.4 320.4M243.4 320.4L246.2 310.8M268.2 330.6L243.6 310.2M243.6 310.2L246.7 300.6M268.6 320.2L243.2 300.7M243.2 300.7L245.9 291.1M268.8 310.1L243.1 291.0M243.1 291.0L245.6 281.3M269.0 299.9L242.9 281.3M242.9 281.3L245.2 271.6M267.2 292.1L244.6 269.4M244.6 269.4L248.5 260.2M247.8 272.6L249.8 268.0M265.0 284.0L246.8 257.7M246.8 257.7L252.3 249.3M249.4 261.4L252.1 257.2M263.0 275.3L248.9 246.5M248.9 246.5L255.5 239.1M250.9 250.6L254.2 246.9M263.6 265.0L248.2 237.0M248.2 237.0L254.6 229.2M250.4 240.9L253.6 237.0M264.1 254.8L247.8 227.3M247.8 227.3L253.8 219.4M250.1 231.2L253.1 227.2M264.4 244.7L247.4 217.6M247.4 217.6L253.3 209.5M249.8 221.4L252.8 217.4M267.1 232.7L244.7 209.8M244.7 209.8L248.7 200.7M247.9 213.1L249.9 208.5M270.1 218.8L241.8 203.9M241.8 203.9L242.8 193.9M245.8 206.0L246.3 201.0M271.4 205.6L240.5 197.3M240.5 197.3L239.3 187.4M244.8 198.5L243.6 188.5M271.6 194.9L240.3 188.1M240.3 188.1L238.6 178.3M244.7 189.1L243.0 179.2M271.7 184.1L240.1 179.1M240.1 179.1L237.9 169.4M244.6 179.8L242.3 170.1M271.0 177.1L240.9 166.3M240.9 166.3L240.5 156.3M245.1 167.8L244.7 157.8M269.7 170.0L242.2 153.6M242.2 153.6L243.7 143.7M246.0 155.9L246.8 150.9M269.4 160.4L242.4 143.3M242.4 143.3L244.2 133.5M246.2 145.7L247.1 140.8M269.1 151.0L242.8 132.9M242.8 132.9L244.9 123.1M246.5 135.4L247.6 130.5M268.7 141.7L243.1 122.4M243.1 122.4L245.7 112.8M246.7 125.1L248.0 120.3M268.6 131.9L243.3 112.3M243.3 112.3L246.0 102.7M246.8 115.1L248.2 110.3M268.6 122.0L243.3 102.4M243.3 102.4L246.0 92.8M246.8 105.2L248.2 100.3M268.6 112.0L243.2 92.6M243.2 92.6L245.9 82.9M246.8 95.3L248.1 90.5M270.3 393.7L267.1 425.5M267.1 425.5L257.5 428.3M273.4 384.4L264.1 415.0M264.1 415.0L254.1 415.9M276.1 375.6L261.4 404.0M261.4 404.0L251.4 403.1M278.1 366.9L259.4 392.9M259.4 392.9L249.7 390.5M279.4 358.0L258.1 381.9M258.1 381.9L248.7 378.5M280.9 349.6L256.6 370.5M256.6 370.5L247.7 365.9M284.5 347.1L253.0 353.1M253.0 353.1L247.6 344.7M283.9 345.3L253.6 335.1M253.6 335.1L253.0 325.1M282.0 339.3L255.5 321.3M255.5 321.3L257.6 311.5M281.3 330.3L256.2 310.5M256.2 310.5L259.0 300.9M281.5 320.1L256.0 300.8M256.0 300.8L258.6 291.2M281.7 309.9L255.8 291.2M255.8 291.2L258.2 281.5M282.0 299.6L255.5 281.7M255.5 281.7L257.6 271.9M280.5 291.6L257.0 269.8M257.0 269.8L260.6 260.5M260.3 272.9L262.1 268.2M278.3 283.6L259.2 258.0M259.2 258.0L264.4 249.4M261.9 261.6L264.5 257.3M276.0 275.2L261.5 246.6M261.5 246.6L268.0 239.1M263.5 250.7L266.8 246.9M276.0 265.2L261.5 236.7M261.5 236.7L268.0 229.2M263.5 240.8L266.8 237.0M276.0 255.4L261.5 226.8M261.5 226.8L268.1 219.3M263.5 230.8L266.8 227.1M276.0 245.4L261.5 216.9M261.5 216.9L268.1 209.4M263.5 220.9L266.8 217.1M278.3 234.1L259.2 208.4M259.2 208.4L264.4 199.9M261.9 212.0L264.5 207.8M281.2 221.4L256.3 201.3M256.3 201.3L259.1 191.7M259.8 204.1L261.2 199.4M283.3 208.1L254.2 194.8M254.2 194.8L254.6 184.8M258.3 196.6L258.7 186.7M283.7 197.1L253.7 185.9M253.7 185.9L253.5 175.9M258.0 187.5L257.7 177.5M284.0 186.3L253.4 176.9M253.4 176.9L252.5 167.0M257.7 178.3L256.8 168.3M283.1 178.7L254.3 164.7M254.3 164.7L255.0 154.8M258.4 166.7L259.0 156.7M282.0 170.8L255.5 152.8M255.5 152.8L257.6 143.0M259.2 155.3L260.3 150.4M281.6 161.4L255.9 142.4M255.9 142.4L258.3 132.7M259.5 145.0L260.7 140.2M281.3 151.8L256.1 132.1M256.1 132.1L258.9 122.5M259.7 134.9L261.1 130.1M281.2 142.1L256.3 122.0M256.3 122.0L259.2 112.4M259.8 124.8L261.3 120.0M281.3 132.0L256.2 112.2M256.2 112.2L258.9 102.6M259.7 115.0L261.1 110.2M281.5 121.9L256.0 102.5M256.0 102.5L258.6 92.9M259.6 105.3L260.9 100.4M281.6 111.8L255.9 92.8M255.9 92.8L258.4 83.1M259.5 95.5L260.7 90.6M286.9 394.5L276.2 424.7M276.2 424.7L266.2 425.1M290.4 386.4L272.6 413.0M272.6 413.0L262.9 411.0M292.5 378.1L270.6 401.4M270.6 401.4L261.2 397.8M293.9 369.7L269.2 390.1M269.2 390.1L260.4 385.3M294.9 361.1L268.2 378.8M268.2 378.8L259.9 373.1M295.9 352.9L267.2 367.2M267.2 367.2L259.7 360.5M297.2 346.7L265.9 353.6M265.9 353.6L260.2 345.3M297.4 342.2L265.7 338.2M265.7 338.2L263.1 328.5M294.9 339.0L268.1 321.6M268.1 321.6L270.1 311.8M294.3 330.0L268.8 310.7M268.8 310.7L271.4 301.1M294.6 319.7L268.5 301.3M268.5 301.3L270.7 291.5M294.9 309.4L268.2 291.8M268.2 291.8L270.1 282.0M295.1 299.1L268.0 282.2M268.0 282.2L269.7 272.3M293.5 291.4L269.6 270.1M269.6 270.1L272.9 260.7M272.9 273.1L274.6 268.4M291.1 283.6L271.9 258.0M271.9 258.0L277.1 249.5M274.6 261.6L277.2 257.3M288.7 275.2L274.4 246.6M274.4 246.6L281.0 239.1M276.4 250.6L279.7 246.9M288.6 265.3L274.5 236.6M274.5 236.6L281.1 229.2M276.5 240.7L279.8 236.9M288.7 255.4L274.4 226.8M274.4 226.8L281.0 219.3M276.4 230.8L279.7 227.0M288.9 245.4L274.2 217.0M274.2 217.0L280.7 209.4M276.3 221.0L279.5 217.2M290.9 234.3L272.2 208.3M272.2 208.3L277.6 199.8M274.8 211.9L277.5 207.7M293.1 222.4L270.0 200.3M270.0 200.3L273.7 191.0M273.2 203.4L275.1 198.7M294.9 210.2L268.1 192.7M268.1 192.7L270.1 182.9M271.9 195.2L273.8 185.3M295.6 199.1L267.4 183.9M267.4 183.9L268.5 174.0M271.4 186.1L272.5 176.1M296.1 188.2L267.0 175.0M267.0 175.0L267.4 165.0M271.1 176.9L271.5 166.9M295.5 179.5L267.6 163.9M267.6 163.9L268.8 153.9M271.5 166.1L272.8 156.1M294.9 170.5L268.1 153.0M268.1 153.0L270.1 143.2M271.9 155.5L272.9 150.6M294.8 160.8L268.3 142.9M268.3 142.9L270.3 133.2M272.0 145.5L273.0 140.6M294.8 151.0L268.3 132.9M268.3 132.9L270.4 123.2M272.0 135.5L273.1 130.6M294.7 141.2L268.4 122.9M268.4 122.9L270.6 113.2M272.1 125.5L273.2 120.6M294.7 131.2L268.4 113.1M268.4 113.1L270.5 103.3M272.1 115.6L273.1 110.7M294.7 121.4L268.4 103.1M268.4 103.1L270.6 93.3M272.1 105.6L273.2 100.8M294.5 111.7L268.6 92.9M268.6 92.9L270.9 83.2M272.2 95.6L273.4 90.7M310.2 407.9L278.4 411.3M278.4 411.3L273.7 402.5M309.7 395.2L279.0 404.2M279.0 404.2L272.8 396.3M309.5 384.7L279.2 394.9M279.2 394.9L272.7 387.3M309.6 375.1L279.1 384.7M279.1 384.7L272.7 376.9M309.9 366.1L278.8 373.8M278.8 373.8L272.9 365.7M310.0 356.9L278.6 363.1M278.6 363.1L273.2 354.8M310.3 348.6L278.4 351.6M278.4 351.6L273.8 342.7M310.3 341.4L278.4 339.0M278.4 339.0L275.3 329.5M308.8 337.2L279.9 323.4M279.9 323.4L280.5 313.5M308.2 328.4L280.5 312.3M280.5 312.3L282.0 302.4M308.3 318.4L280.4 302.6M280.4 302.6L281.7 292.7M308.2 308.5L280.4 292.6M280.4 292.6L281.8 282.7M308.2 298.7L280.5 282.6M280.5 282.6L281.9 272.7M306.5 291.2L282.2 270.3M282.2 270.3L285.4 260.8M285.6 273.2L287.2 268.5M304.2 283.4L284.5 258.2M284.5 258.2L289.5 249.6M287.3 261.8L289.8 257.4M302.0 274.9L286.7 246.9M286.7 246.9L293.0 239.1M288.8 250.8L292.0 246.9M302.0 265.1L286.7 236.9M286.7 236.9L293.1 229.2M288.9 240.9L292.0 237.0M301.9 255.2L286.7 227.0M286.7 227.0L293.1 219.3M288.9 231.0L292.1 227.1M301.8 245.3L286.9 217.0M286.9 217.0L293.3 209.4M289.0 221.0L292.2 217.2M302.9 234.7L285.7 207.8M285.7 207.8L291.5 199.6M288.2 211.6L291.1 207.5M304.1 224.0L284.6 198.7M284.6 198.7L289.7 190.0M287.3 202.2L289.9 197.9M305.2 213.2L283.4 189.7M283.4 189.7L287.7 180.7M286.5 193.0L290.8 183.9M306.4 202.0L282.2 181.0M282.2 181.0L285.5 171.6M285.6 184.0L288.9 174.5M307.5 190.7L281.2 172.5M281.2 172.5L283.4 162.8M284.9 175.1L287.1 165.3M307.6 180.7L281.1 162.7M281.1 162.7L283.2 152.9M284.8 165.2L286.9 155.5M307.7 170.6L281.0 153.0M281.0 153.0L282.9 143.2M284.7 155.5L285.7 150.6M307.6 160.8L281.1 142.9M281.1 142.9L283.2 133.1M284.8 145.4L285.9 140.5M307.4 151.2L281.3 132.7M281.3 132.7L283.6 122.9M285.0 135.3L286.1 130.4M307.0 141.8L281.6 122.3M281.6 122.3L284.3 112.7M285.2 125.0L286.5 120.2M306.9 132.1L281.8 112.2M281.8 112.2L284.6 102.6M285.3 115.0L286.7 110.2M306.7 122.3L281.9 102.1M281.9 102.1L284.9 92.5M285.4 104.9L286.9 100.2M306.7 112.5L282.0 92.1M282.0 92.1L285.0 82.6M285.5 95.0L287.0 90.2M322.8 413.0L291.5 406.2M291.5 406.2L289.8 396.4M322.9 402.7L291.4 396.7M291.4 396.7L289.5 386.9M322.9 392.6L291.4 386.9M291.4 386.9L289.3 377.2M322.9 382.7L291.4 377.0M291.4 377.0L289.4 367.2M322.9 372.9L291.4 367.0M291.4 367.0L289.4 357.2M323.0 362.4L291.3 357.6M291.3 357.6L289.0 347.9M323.0 352.2L291.3 348.1M291.3 348.1L288.7 338.4M322.9 343.1L291.4 337.3M291.4 337.3L289.4 327.5M321.8 336.6L292.5 324.0M292.5 324.0L292.7 314.0M320.9 328.5L293.4 312.2M293.4 312.2L294.9 302.4M320.8 318.8L293.5 302.1M293.5 302.1L295.2 292.2M320.7 309.1L293.6 292.0M293.6 292.0L295.4 282.2M320.6 299.2L293.6 282.1M293.6 282.1L295.5 272.2M319.1 291.3L295.2 270.1M295.2 270.1L298.5 260.7M298.5 273.1L300.2 268.4M317.1 283.3L297.2 258.3M297.2 258.3L302.1 249.6M300.0 261.8L302.4 257.5M315.1 274.8L299.2 247.0M299.2 247.0L305.4 239.2M301.4 250.9L304.5 247.0M314.8 265.1L299.5 236.9M299.5 236.9L305.9 229.2M301.7 240.9L304.8 237.0M314.3 255.4L300.0 226.8M300.0 226.8L306.7 219.3M302.0 230.8L305.3 227.0M313.7 245.8L300.6 216.6M300.6 216.6L307.6 209.4M302.5 220.7L305.9 217.1M314.3 235.6L300.0 207.0M300.0 207.0L306.6 199.4M302.0 211.0L305.3 207.2M315.1 225.2L299.2 197.5M299.2 197.5L305.4 189.6M301.4 201.4L304.5 197.4M316.0 214.8L298.3 188.1M298.3 188.1L304.0 179.8M300.8 191.8L306.5 183.6M317.8 203.4L296.4 179.6M296.4 179.6L300.8 170.6M299.5 183.0L303.8 174.0M319.5 191.8L294.8 171.4M294.8 171.4L297.8 161.9M298.3 174.3L301.3 164.8M320.2 180.9L294.1 162.4M294.1 162.4L296.4 152.7M297.8 165.0L300.1 155.3M320.7 170.2L293.5 153.3M293.5 153.3L295.3 143.5M297.4 155.7L298.2 150.8M320.5 160.7L293.8 143.0M293.8 143.0L295.9 133.2M297.6 145.5L298.6 140.6M320.1 151.3L294.2 132.6M294.2 132.6L296.6 122.9M297.8 135.2L299.0 130.4M319.8 141.8L294.5 122.3M294.5 122.3L297.2 112.6M298.0 125.0L299.4 120.2M319.9 131.8L294.4 112.4M294.4 112.4L297.1 102.8M298.0 115.1L299.3 110.3M320.0 121.8L294.3 102.7M294.3 102.7L296.8 93.0M297.9 105.4L299.2 100.5M320.2 111.6L294.1 93.0M294.1 93.0L296.5 83.3M297.8 95.6L299.0 90.7M331.5 420.7L308.4 398.5M308.4 398.5L312.1 389.2M331.8 410.4L308.1 388.9M308.1 388.9L311.6 379.6M332.4 399.8L307.4 379.8M307.4 379.8L310.3 370.2M333.2 388.8L306.7 370.9M306.7 370.9L308.8 361.1M333.9 377.8L306.0 362.1M306.0 362.1L307.2 352.2M334.6 366.4L305.3 353.7M305.3 353.7L305.5 343.7M335.0 355.5L304.9 344.7M304.9 344.7L304.5 334.7M335.0 345.7L304.9 334.7M304.9 334.7L304.6 324.7M334.4 337.2L305.5 323.4M305.5 323.4L306.2 313.4M333.9 328.2L306.0 312.5M306.0 312.5L307.3 302.6M334.0 318.1L305.9 302.8M305.9 302.8L307.1 292.9M334.2 307.9L305.7 293.2M305.7 293.2L306.7 283.2M334.3 297.7L305.6 283.6M305.6 283.6L306.3 273.7M333.5 289.2L306.4 272.2M306.4 272.2L308.1 262.4M310.2 274.6L311.1 269.7M332.1 281.2L307.7 260.5M307.7 260.5L310.9 251.0M311.2 263.4L312.7 258.6M330.3 273.1L309.6 248.7M309.6 248.7L314.2 239.9M312.5 252.1L314.8 247.7M328.8 264.3L311.1 237.7M311.1 237.7L316.7 229.4M313.6 241.4L316.4 237.3M326.7 255.6L313.2 226.6M313.2 226.6L320.0 219.3M315.1 230.7L318.5 227.0M324.4 246.5L315.5 215.8M315.5 215.8L323.4 209.6M316.8 220.1L320.7 217.0M325.6 236.2L314.3 206.3M314.3 206.3L321.7 199.5M315.9 210.5L319.6 207.1M327.0 225.7L312.9 197.0M312.9 197.0L319.5 189.5M314.8 201.0L318.2 197.3M328.5 215.0L311.4 187.9M311.4 187.9L317.2 179.8M313.8 191.7L319.6 183.6M332.1 201.9L307.8 181.1M307.8 181.1L310.9 171.7M311.2 184.1L314.3 174.6M333.6 189.9L306.3 173.3M306.3 173.3L307.9 163.4M310.1 175.6L311.8 165.7M333.6 180.0L306.3 163.4M306.3 163.4L307.9 153.5M310.1 165.7L311.7 155.8M333.6 170.1L306.3 153.5M306.3 153.5L307.9 143.6M310.1 155.8L310.9 150.9M333.3 160.7L306.6 143.0M306.6 143.0L308.6 133.2M310.4 145.5L311.4 140.6M333.0 151.2L306.9 132.7M306.9 132.7L309.1 123.0M310.5 135.3L311.7 130.5M332.9 141.5L307.0 122.6M307.0 122.6L309.5 112.9M310.7 125.3L311.9 120.4M333.0 131.4L306.9 112.8M306.9 112.8L309.3 103.1M310.6 115.4L311.8 110.6M333.0 121.4L306.9 103.0M306.9 103.0L309.2 93.2M310.6 105.6L311.7 100.7M333.0 111.6L306.9 93.0M306.9 93.0L309.3 83.3M310.6 95.6L311.8 90.7M336.1 425.2L329.4 394.0M329.4 394.0L337.7 388.3M338.7 414.5L326.8 384.8M326.8 384.8L334.0 377.9M341.2 403.4L324.3 376.2M324.3 376.2L330.3 368.1M343.1 392.1L322.4 367.7M322.4 367.7L327.0 358.8M344.5 380.8L321.0 359.1M321.0 359.1L324.5 349.7M345.7 369.5L319.8 350.6M319.8 350.6L322.3 340.9M346.3 358.6L319.2 341.6M319.2 341.6L320.9 331.8M346.7 348.1L318.8 332.3M318.8 332.3L320.1 322.4M346.8 337.9L318.7 322.7M318.7 322.7L319.7 312.8M346.9 327.8L318.6 313.0M318.6 313.0L319.5 303.0M347.1 317.5L318.4 303.4M318.4 303.4L319.1 293.5M347.3 307.3L318.2 293.8M318.2 293.8L318.8 283.8M347.3 297.3L318.2 284.0M318.2 284.0L318.6 274.0M346.7 288.6L318.8 272.8M318.8 272.8L320.1 262.9M322.7 275.1L323.4 270.1M345.8 280.1L319.7 261.5M319.7 261.5L322.1 251.8M323.4 264.1L324.6 259.3M344.6 271.6L320.9 250.2M320.9 250.2L324.3 240.8M324.2 253.2L325.9 248.5M343.0 263.3L322.5 238.7M322.5 238.7L327.2 229.9M325.4 242.2L327.7 237.8M337.6 256.3L327.9 225.8M327.9 225.8L335.6 219.5M329.3 230.1L333.1 226.9M335.0 215.3L330.5 247.0M330.5 247.0L320.8 249.4M331.1 242.6L326.3 243.7M334.7 205.4L330.8 237.1M330.8 237.1L321.1 239.7M331.3 232.7L326.5 233.9M334.5 195.4L331.0 227.2M331.0 227.2L321.3 229.9M331.5 222.8L326.6 224.1M334.3 185.5L331.2 217.4M331.2 217.4L321.6 220.2M331.6 212.9L322.0 215.7M346.5 199.7L319.0 183.3M319.0 183.3L320.6 173.4M322.9 185.6L324.4 175.7M347.0 188.9L318.5 174.3M318.5 174.3L319.4 164.3M322.5 176.3L323.4 166.4M346.7 179.6L318.8 163.8M318.8 163.8L320.1 153.9M322.7 166.0L324.0 156.1M346.5 170.0L319.0 153.6M319.0 153.6L320.5 143.7M322.9 155.9L323.6 151.0M346.3 160.3L319.2 143.4M319.2 143.4L320.9 133.6M323.0 145.8L323.8 140.9M346.2 150.6L319.3 133.3M319.3 133.3L321.2 123.4M323.1 135.7L324.0 130.8M345.9 141.1L319.6 123.0M319.6 123.0L321.7 113.2M323.3 125.5L324.3 120.7M345.9 131.3L319.6 113.0M319.6 113.0L321.8 103.2M323.3 115.6L324.4 110.7M345.7 121.5L319.8 102.9M319.8 102.9L322.1 93.2M323.4 105.5L324.6 100.6M345.6 111.8L319.9 92.8M319.9 92.8L322.4 83.1M323.5 95.5L324.8 90.6M346.8 425.6L344.3 393.6M344.3 393.6L353.2 389.2M349.2 415.3L341.9 384.1M341.9 384.1L350.0 378.3M351.2 404.8L339.9 374.8M339.9 374.8L347.3 368.0M352.4 394.3L338.7 365.4M338.7 365.4L345.5 358.0M354.2 383.4L336.9 356.5M336.9 356.5L342.8 348.3M356.3 371.9L334.8 348.2M334.8 348.2L339.2 339.2M357.6 360.7L333.5 339.6M333.5 339.6L336.8 330.1M358.7 349.4L332.4 331.0M332.4 331.0L334.7 321.3M359.5 338.1L331.6 322.5M331.6 322.5L332.9 312.6M360.0 327.3L331.1 313.5M331.1 313.5L331.8 303.5M360.1 317.2L331.0 303.8M331.0 303.8L331.5 293.8M360.2 307.1L331.0 294.0M331.0 294.0L331.3 284.0M360.2 297.0L330.9 284.3M330.9 284.3L331.2 274.3M360.0 287.6L331.1 273.8M331.1 273.8L331.7 263.9M335.2 275.8L335.5 270.8M359.8 278.1L331.3 263.5M331.3 263.5L332.2 253.6M335.3 265.6L335.8 260.6M359.6 268.5L331.5 253.3M331.5 253.3L332.6 243.4M335.4 255.4L336.0 250.5M359.9 258.0L331.2 244.0M331.2 244.0L331.8 234.0M335.2 246.0L335.6 241.0M354.5 227.8L336.6 254.4M336.6 254.4L326.9 252.3M339.1 250.6L334.3 249.6M353.4 217.2L337.8 245.1M337.8 245.1L327.8 243.9M339.9 241.2L335.0 240.6M354.2 207.8L336.9 234.7M336.9 234.7L327.1 232.9M339.4 230.9L334.5 230.0M355.1 198.5L336.0 224.2M336.0 224.2L326.4 221.7M338.7 220.6L333.9 219.3M355.9 189.2L335.2 213.6M335.2 213.6L325.7 210.5M338.1 210.2L328.6 207.0M361.6 191.4L329.6 191.7M329.6 191.7L325.7 182.4M334.1 191.6L330.2 182.4M360.9 186.1L330.2 177.1M330.2 177.1L329.2 167.2M334.5 178.4L333.5 168.4M360.5 177.3L330.6 166.1M330.6 166.1L330.3 156.1M334.8 167.7L334.5 157.7M360.1 168.4L331.0 155.1M331.0 155.1L331.5 145.1M335.1 157.0L335.3 152.0M359.8 159.1L331.3 144.6M331.3 144.6L332.1 134.7M335.3 146.7L335.7 141.7M359.4 149.9L331.7 134.0M331.7 134.0L333.0 124.1M335.6 136.2L336.3 131.3M358.9 140.8L332.2 123.3M332.2 123.3L334.1 113.5M335.9 125.7L336.9 120.8M358.8 131.1L332.3 113.1M332.3 113.1L334.5 103.3M336.0 115.7L337.1 110.8M358.7 121.3L332.4 103.1M332.4 103.1L334.6 93.3M336.1 105.6L337.2 100.8M358.7 111.4L332.4 93.2M332.4 93.2L334.6 83.4M336.1 95.8L337.2 90.9M361.5 425.3L355.2 393.9M355.2 393.9L363.6 388.4M361.6 415.4L355.1 384.0M355.1 384.0L363.4 378.5M360.9 405.6L355.9 374.0M355.9 374.0L364.4 368.8M359.4 363.9L357.3 395.8M357.3 395.8L347.8 399.0M361.4 385.7L355.3 354.2M355.3 354.2L363.7 348.8M367.6 373.1L349.1 347.0M349.1 347.0L354.5 338.6M370.0 361.1L346.7 339.1M346.7 339.1L350.4 329.8M371.2 349.8L345.5 330.7M345.5 330.7L348.0 321.0M372.2 338.3L344.5 322.3M344.5 322.3L345.9 312.4M372.9 327.0L343.8 313.8M343.8 313.8L344.2 303.8M373.0 316.8L343.7 304.1M343.7 304.1L343.9 294.1M373.2 306.5L343.5 294.6M343.5 294.6L343.5 284.6M373.4 296.1L343.3 285.2M343.3 285.2L342.9 275.2M373.5 286.0L343.2 275.5M343.2 275.5L342.7 265.5M347.5 277.0L347.2 272.0M373.5 275.9L343.2 265.7M343.2 265.7L342.6 255.8M347.5 267.2L347.1 262.2M373.5 266.0L343.2 255.8M343.2 255.8L342.6 245.9M347.4 257.3L347.1 252.3M374.3 252.5L342.4 249.5M342.4 249.5L339.5 239.9M346.9 249.9L345.5 245.1M371.3 231.6L345.4 250.5M345.4 250.5L336.9 245.3M349.1 247.9L344.8 245.2M368.9 219.1L347.8 243.2M347.8 243.2L338.4 240.0M350.8 239.8L346.1 238.2M369.3 209.6L347.4 232.9M347.4 232.9L338.1 229.3M350.5 229.6L345.8 227.8M369.6 200.0L347.1 222.7M347.1 222.7L337.9 218.8M350.3 219.5L345.6 217.6M369.8 190.3L346.9 212.6M346.9 212.6L337.7 208.6M350.1 209.4L341.0 205.4M373.6 186.7L343.1 196.3M343.1 196.3L336.7 188.6M347.4 195.0L341.0 187.2M374.1 184.3L342.6 178.9M342.6 178.9L340.5 169.1M347.0 179.7L344.9 169.9M373.6 176.5L343.1 166.9M343.1 166.9L342.3 156.9M347.4 168.2L346.6 158.3M372.8 168.7L344.0 154.8M344.0 154.8L344.6 144.8M348.0 156.8L348.3 151.8M372.3 159.7L344.4 144.0M344.4 144.0L345.7 134.1M348.3 146.2L349.0 141.3M371.8 150.6L344.9 133.3M344.9 133.3L346.8 123.5M348.7 135.7L349.6 130.8M371.4 141.3L345.3 122.8M345.3 122.8L347.6 113.0M349.0 125.4L350.1 120.5M371.5 131.3L345.3 112.9M345.3 112.9L347.5 103.2M348.9 115.5L350.1 110.6M371.5 121.3L345.2 103.2M345.2 103.2L347.3 93.4M348.9 105.7L350.0 100.8M371.6 111.3L345.1 93.3M345.1 93.3L347.2 83.6M348.8 95.9L349.9 91.0M377.4 424.3L364.9 394.9M364.9 394.9L372.0 387.8M376.0 414.9L366.4 384.4M366.4 384.4L374.1 378.1M373.1 405.7L369.2 373.9M369.2 373.9L378.0 369.0M374.8 364.3L367.5 395.4M367.5 395.4L357.6 397.0M374.9 385.5L367.5 354.4M367.5 354.4L375.6 348.6M380.8 372.8L361.5 347.3M361.5 347.3L366.6 338.7M382.2 361.7L360.1 338.5M360.1 338.5L364.2 329.4M383.1 350.9L359.2 329.5M359.2 329.5L362.6 320.1M384.0 339.8L358.3 320.8M358.3 320.8L360.8 311.1M384.9 328.6L357.4 312.1M357.4 312.1L359.0 302.3M385.3 318.0L357.1 302.9M357.1 302.9L358.1 293.0M385.6 307.4L356.7 293.7M356.7 293.7L357.2 283.8M385.9 296.8L356.4 284.5M356.4 284.5L356.5 274.5M386.1 286.5L356.2 275.0M356.2 275.0L356.1 265.0M360.4 276.6L360.4 271.6M386.2 276.4L356.2 265.2M356.2 265.2L355.9 255.2M360.4 266.8L360.2 261.8M386.2 266.4L356.1 255.4M356.1 255.4L355.8 245.4M360.4 257.0L360.2 252.0M386.6 255.1L355.7 246.9M355.7 246.9L354.4 237.0M360.0 248.1L359.4 243.1M386.7 237.2L355.6 244.9M355.6 244.9L349.8 236.8M360.0 243.8L357.1 239.8M381.7 219.1L360.6 243.2M360.6 243.2L351.2 239.9M363.6 239.8L358.9 238.2M381.8 209.3L360.5 233.2M360.5 233.2L351.1 229.8M363.5 229.8L358.8 228.1M382.0 199.5L360.4 223.1M360.4 223.1L351.0 219.6M363.4 219.8L358.7 218.1M382.2 189.9L360.1 213.0M360.1 213.0L350.8 209.3M363.2 209.7L353.9 206.0M387.1 189.9L355.2 193.1M355.2 193.1L350.6 184.3M359.7 192.7L355.1 183.8M386.9 184.3L355.4 178.9M355.4 178.9L353.2 169.2M359.8 179.7L357.7 169.9M386.5 176.4L355.9 167.0M355.9 167.0L355.0 157.1M360.2 168.3L359.3 158.4M385.8 168.2L356.5 155.3M356.5 155.3L356.8 145.3M360.6 157.1L360.8 152.1M385.5 158.9L356.8 144.8M356.8 144.8L357.6 134.8M360.8 146.8L361.2 141.8M385.3 149.5L357.1 134.4M357.1 134.4L358.1 124.5M361.0 136.5L361.6 131.5M385.0 140.0L357.3 124.0M357.3 124.0L358.7 114.1M361.2 126.3L361.9 121.3M385.0 130.1L357.3 114.2M357.3 114.2L358.6 104.3M361.2 116.4L361.9 111.5M385.0 120.3L357.4 104.1M357.4 104.1L358.8 94.2M361.2 106.4L362.0 101.5M384.8 110.6L357.5 94.0M357.5 94.0L359.1 84.1M361.3 96.3L362.2 91.4M393.2 422.6L374.7 396.6M374.7 396.6L380.1 388.1M392.7 413.1L375.2 386.3M375.2 386.3L380.9 378.1M391.2 404.0L376.7 375.5M376.7 375.5L383.2 368.0M386.6 395.6L381.3 364.1M381.3 364.1L389.8 358.8M392.6 383.4L375.3 356.5M375.3 356.5L381.1 348.3M394.4 372.1L373.5 347.9M373.5 347.9L378.0 339.0M395.2 361.6L372.8 338.7M372.8 338.7L376.8 329.5M396.0 350.7L371.9 329.7M371.9 329.7L375.2 320.3M396.9 339.7L371.0 320.9M371.0 320.9L373.4 311.2M397.7 328.5L370.2 312.2M370.2 312.2L371.7 302.3M398.1 317.9L369.8 303.1M369.8 303.1L370.8 293.1M398.4 307.4L369.5 293.7M369.5 293.7L370.1 283.7M398.6 297.0L369.3 284.3M369.3 284.3L369.6 274.3M398.8 286.7L369.1 274.8M369.1 274.8L369.1 264.8M373.3 276.4L373.3 271.4M399.0 276.3L368.9 265.4M368.9 265.4L368.6 255.4M373.2 266.9L373.0 261.9M399.2 265.7L368.7 256.1M368.7 256.1L367.9 246.2M373.0 257.5L372.6 252.5M399.3 255.6L368.6 246.4M368.6 246.4L367.7 236.4M373.0 247.7L372.5 242.7M399.4 245.5L368.6 236.7M368.6 236.7L367.5 226.8M372.9 237.9L372.4 233.0M400.0 230.6L368.0 231.8M368.0 231.8L363.9 222.6M372.5 231.6L370.4 227.0M400.0 220.7L368.0 221.8M368.0 221.8L363.9 212.7M372.5 221.7L370.4 217.1M400.0 211.0L368.0 211.7M368.0 211.7L364.0 202.5M372.5 211.6L370.5 207.0M400.0 201.3L368.0 201.5M368.0 201.5L364.2 192.3M372.5 201.5L368.7 192.2M399.7 194.5L368.2 188.6M368.2 188.6L366.3 178.8M372.7 189.4L370.7 179.6M399.7 184.6L368.3 178.6M368.3 178.6L366.3 168.8M372.7 179.4L370.8 169.6M399.3 176.2L368.6 167.2M368.6 167.2L367.6 157.2M372.9 168.5L371.9 158.5M398.9 167.6L369.1 155.9M369.1 155.9L369.0 145.9M373.3 157.6L373.2 152.6M398.6 158.3L369.3 145.4M369.3 145.4L369.6 135.4M373.4 147.2L373.6 142.2M398.3 149.1L369.7 134.8M369.7 134.8L370.5 124.8M373.7 136.8L374.1 131.8M397.8 140.1L370.1 124.0M370.1 124.0L371.5 114.1M374.0 126.3L374.7 121.3M397.6 130.5L370.3 113.7M370.3 113.7L372.0 103.9M374.2 116.1L375.0 111.2M397.4 121.0L370.6 103.5M370.6 103.5L372.5 93.7M374.3 105.9L375.3 101.0M397.2 111.3L370.7 93.3M370.7 93.3L372.8 83.5M374.4 95.8L375.5 91.0M407.7 421.3L385.9 397.9M385.9 397.9L390.1 388.8M407.4 411.7L386.2 387.7M386.2 387.7L390.6 378.8M407.0 402.1L386.6 377.5M386.6 377.5L391.3 368.7M406.5 392.6L387.0 367.2M387.0 367.2L392.1 358.6M407.2 382.1L386.4 357.8M386.4 357.8L391.0 348.9M407.7 371.7L385.9 348.3M385.9 348.3L390.1 339.3M408.1 361.4L385.4 338.8M385.4 338.8L389.3 329.6M408.8 350.8L384.8 329.6M384.8 329.6L388.1 320.2M409.3 340.2L384.2 320.4M384.2 320.4L387.1 310.8M409.7 329.8L383.8 311.0M383.8 311.0L386.3 301.3M410.0 319.5L383.5 301.5M383.5 301.5L385.6 291.7M410.3 309.1L383.2 292.0M383.2 292.0L385.0 282.2M410.7 298.6L382.9 282.7M382.9 282.7L384.2 272.8M411.2 287.7L382.4 273.8M382.4 273.8L383.0 263.8M386.4 275.7L386.7 270.7M411.7 276.6L381.8 265.0M381.8 265.0L381.7 255.0M386.0 266.7L386.0 261.7M412.1 265.5L381.4 256.3M381.4 256.3L380.5 246.4M385.8 257.6L385.3 252.6M411.7 256.7L381.8 245.3M381.8 245.3L381.6 235.3M386.0 246.9L385.9 241.9M410.8 248.7L382.7 233.5M382.7 233.5L383.8 223.5M386.6 235.6L387.2 230.6M408.8 241.7L384.7 220.7M384.7 220.7L387.9 211.2M388.1 223.6L389.7 218.9M408.4 232.3L385.2 210.2M385.2 210.2L388.8 200.9M388.4 213.3L390.3 208.7M407.9 222.8L385.6 199.9M385.6 199.9L389.6 190.7M388.7 203.1L390.7 198.5M407.6 213.2L385.9 189.7M385.9 189.7L390.2 180.6M389.0 193.0L393.2 183.9M411.6 197.6L382.0 185.4M382.0 185.4L382.0 175.4M386.1 187.1L386.2 177.1M412.5 184.5L381.0 178.7M381.0 178.7L379.0 168.9M385.5 179.5L383.4 169.7M412.3 175.7L381.3 167.7M381.3 167.7L380.0 157.8M385.6 168.8L384.3 158.9M411.9 167.0L381.7 156.5M381.7 156.5L381.2 146.5M385.9 158.0L385.7 153.0M411.5 158.1L382.0 145.7M382.0 145.7L382.1 135.7M386.2 147.4L386.2 142.4M411.1 149.1L382.5 134.8M382.5 134.8L383.3 124.8M386.5 136.8L386.9 131.8M410.6 140.1L383.0 123.9M383.0 123.9L384.4 114.0M386.9 126.2L387.6 121.3M410.5 130.4L383.1 113.9M383.1 113.9L384.6 104.0M386.9 116.2L387.7 111.3M410.5 120.4L383.1 104.0M383.1 104.0L384.6 94.1M386.9 106.3L387.7 101.4M410.6 110.4L383.0 94.2M383.0 94.2L384.5 84.3M386.9 96.5L387.6 91.5M420.5 421.3L398.7 397.9M398.7 397.9L402.9 388.8M420.8 381.3L398.3 358.6M398.3 358.6L402.3 349.4M421.0 371.3L398.2 348.8M398.2 348.8L402.0 339.6M421.0 361.3L398.1 338.9M398.1 338.9L402.0 329.7M421.2 351.2L397.9 329.2M397.9 329.2L401.5 319.9M421.4 341.1L397.7 319.5M397.7 319.5L401.2 310.1M421.6 330.9L397.5 309.8M397.5 309.8L400.8 300.4M422.2 320.3L396.9 300.7M396.9 300.7L399.7 291.0M422.9 309.4L396.3 291.7M396.3 291.7L398.3 281.9M423.5 298.5L395.6 282.8M395.6 282.8L396.9 272.9M424.2 287.1L394.9 274.4M394.9 274.4L395.2 264.4M399.0 276.2L399.2 271.2M424.8 275.8L394.4 265.9M394.4 265.9L393.7 255.9M398.6 267.3L398.3 262.3M425.1 264.6L394.0 257.2M394.0 257.2L392.5 247.3M398.4 258.3L397.6 253.3M424.4 257.0L394.8 245.0M394.8 245.0L394.8 235.0M398.9 246.7L398.9 241.7M423.2 249.5L396.0 232.7M396.0 232.7L397.7 222.8M399.8 235.0L400.6 230.1M421.8 241.5L397.3 220.9M397.3 220.9L400.4 211.4M400.8 223.8L402.3 219.0M421.6 231.8L397.6 210.7M397.6 210.7L400.9 201.2M400.9 213.6L402.6 208.9M421.4 222.1L397.7 200.6M397.7 200.6L401.2 191.2M401.1 203.6L402.8 198.9M421.3 212.3L397.9 190.5M397.9 190.5L401.5 181.2M401.2 193.6L404.7 184.3M424.1 198.3L395.1 184.7M395.1 184.7L395.6 174.8M399.2 186.7L399.7 176.7M425.4 183.8L393.7 179.4M393.7 179.4L391.3 169.8M398.2 180.1L395.7 170.4M425.2 175.2L394.0 168.2M394.0 168.2L392.3 158.4M398.3 169.2L396.7 159.3M424.8 166.6L394.3 157.0M394.3 157.0L393.5 147.0M398.6 158.3L398.2 153.3M424.5 157.7L394.7 146.0M394.7 146.0L394.6 136.0M398.9 147.6L398.8 142.6M424.1 148.7L395.1 135.2M395.1 135.2L395.6 125.2M399.1 137.1L399.4 132.1M423.7 139.5L395.4 124.6M395.4 124.6L396.4 114.6M399.4 126.7L399.9 121.7M423.7 129.5L395.4 114.7M395.4 114.7L396.4 104.8M399.4 116.8L399.9 111.8M423.7 119.7L395.4 104.8M395.4 104.8L396.4 94.8M399.4 106.9L399.9 101.9M423.6 109.9L395.5 94.7M395.5 94.7L396.6 84.7M399.5 96.8L400.0 91.8M434.0 420.6L410.7 398.6M410.7 398.6L414.4 389.3M434.2 410.5L410.6 388.9M410.6 388.9L414.1 379.5M434.3 400.4L410.4 379.1M410.4 379.1L413.8 369.7M434.3 380.7L410.5 359.2M410.5 359.2L413.9 349.8M434.0 371.0L410.7 349.1M410.7 349.1L414.4 339.7M433.8 361.4L411.0 338.9M411.0 338.9L414.8 329.6M433.9 351.3L410.9 329.1M410.9 329.1L414.6 319.8M434.1 341.2L410.6 319.4M410.6 319.4L414.2 310.1M434.5 330.9L410.3 309.9M410.3 309.9L413.5 300.4M435.1 320.2L409.6 300.8M409.6 300.8L412.3 291.1M435.7 309.5L409.1 291.6M409.1 291.6L411.1 281.9M436.1 298.9L408.7 282.4M408.7 282.4L410.3 272.5M436.8 287.7L408.0 273.7M408.0 273.7L408.7 263.8M412.0 275.7L412.4 270.7M437.6 275.8L407.2 265.8M407.2 265.8L406.5 255.9M411.4 267.2L411.1 262.3M438.2 263.0L406.5 258.9M406.5 258.9L404.0 249.2M411.0 259.4L409.7 254.6M437.7 255.5L407.0 246.5M407.0 246.5L406.0 236.6M411.3 247.8L410.8 242.8M436.6 248.4L408.1 233.8M408.1 233.8L409.1 223.8M412.1 235.8L412.6 230.8M435.0 241.0L409.8 221.3M409.8 221.3L412.5 211.7M413.3 224.1L414.7 219.3M434.8 231.3L410.0 211.2M410.0 211.2L412.9 201.6M413.4 214.0L414.9 209.2M434.5 221.8L410.2 200.9M410.2 200.9L413.4 191.5M413.6 203.9L415.2 199.1M434.1 212.3L410.6 190.6M410.6 190.6L414.2 181.2M413.9 193.6L417.5 184.3M437.3 197.4L407.5 185.6M407.5 185.6L407.4 175.6M411.7 187.3L411.6 177.3M438.0 184.9L406.7 178.3M406.7 178.3L405.0 168.4M411.1 179.2L409.4 169.3M437.7 176.1L407.0 167.3M407.0 167.3L406.0 157.3M411.3 168.5L410.3 158.6M437.5 167.1L407.3 156.4M407.3 156.4L406.8 146.5M411.5 157.9L411.3 152.9M437.2 157.8L407.5 145.9M407.5 145.9L407.5 135.9M411.7 147.6L411.7 142.6M437.0 148.4L407.7 135.5M407.7 135.5L408.1 125.5M411.9 137.3L412.0 132.3M436.7 139.2L408.0 124.9M408.0 124.9L408.8 114.9M412.1 126.9L412.5 121.9M436.6 129.5L408.2 114.8M408.2 114.8L409.1 104.8M412.2 116.9L412.6 111.9M436.4 119.9L408.3 104.5M408.3 104.5L409.5 94.6M412.3 106.7L412.9 101.7M436.2 110.3L408.5 94.3M408.5 94.3L410.0 84.4M412.4 96.5L413.1 91.6M447.0 420.4L423.4 398.8M423.4 398.8L426.8 389.4M447.0 410.5L423.3 388.9M423.3 388.9L426.8 379.5M446.9 400.7L423.5 378.9M423.5 378.9L427.0 369.5M446.7 390.9L423.6 368.8M423.6 368.8L427.3 359.5M446.4 381.4L424.0 358.5M424.0 358.5L428.0 349.4M446.2 371.7L424.2 348.4M424.2 348.4L428.4 339.3M446.1 361.8L424.3 338.4M424.3 338.4L428.5 329.3M446.4 351.6L424.0 328.8M424.0 328.8L427.9 319.6M446.7 341.4L423.6 319.2M423.6 319.2L427.3 310.0M447.0 331.2L423.4 309.6M423.4 309.6L426.8 300.2M447.4 320.8L422.9 300.2M422.9 300.2L426.0 290.7M447.7 310.5L422.6 290.7M422.6 290.7L425.4 281.1M448.0 300.2L422.3 281.1M422.3 281.1L424.8 271.4M448.9 288.9L421.4 272.6M421.4 272.6L422.9 262.7M425.3 274.9L426.1 269.9M450.8 274.5L419.6 267.2M419.6 267.2L418.1 257.3M424.0 268.2L423.2 263.2M450.5 256.3L419.9 265.5M419.9 265.5L413.6 257.7M424.2 264.2L421.0 260.3M450.5 246.5L419.8 255.5M419.8 255.5L413.6 247.7M424.1 254.2L421.0 250.3M450.7 237.1L419.7 245.0M419.7 245.0L413.8 237.0M424.0 243.9L421.1 239.9M451.1 230.1L419.2 232.2M419.2 232.2L414.9 223.2M423.7 231.9L421.5 227.4M451.2 220.8L419.2 221.7M419.2 221.7L415.2 212.6M423.7 221.6L421.7 217.0M451.2 211.6L419.2 211.1M419.2 211.1L415.6 201.8M423.7 211.2L421.9 206.5M451.2 202.3L419.2 200.6M419.2 200.6L415.9 191.1M423.7 200.8L420.4 191.4M450.9 194.3L419.4 188.8M419.4 188.8L417.3 179.0M423.8 189.5L421.8 179.8M450.9 184.3L419.4 178.9M419.4 178.9L417.3 169.1M423.8 179.6L421.7 169.9M450.8 175.0L419.5 168.3M419.5 168.3L417.8 158.5M423.9 169.3L422.2 159.4M450.7 165.8L419.7 157.8M419.7 157.8L418.4 147.9M424.0 158.9L423.4 153.9M450.5 156.5L419.9 147.2M419.9 147.2L419.0 137.2M424.2 148.5L423.7 143.5M450.2 147.4L420.2 136.5M420.2 136.5L419.8 126.5M424.4 138.0L424.2 133.0M449.8 138.5L420.5 125.6M420.5 125.6L420.8 115.6M424.7 127.4L424.8 122.4M449.6 129.0L420.7 115.3M420.7 115.3L421.3 105.3M424.8 117.2L425.1 112.2M449.5 119.4L420.9 105.0M420.9 105.0L421.7 95.1M424.9 107.1L425.3 102.1M449.4 109.6L421.0 95.0M421.0 95.0L421.9 85.0M425.0 97.0L425.4 92.0M460.2 420.0L435.8 399.2M435.8 399.2L439.0 389.7M460.0 410.2L435.9 389.1M435.9 389.1L439.2 379.7M459.9 400.4L436.0 379.1M436.0 379.1L439.4 369.7M459.9 390.5L436.0 369.2M436.0 369.2L439.4 359.8M459.8 380.7L436.1 359.2M436.1 359.2L439.6 349.8M459.8 370.8L436.2 349.2M436.2 349.2L439.7 339.9M459.7 361.0L436.3 339.2M436.3 339.2L439.8 329.9M459.8 351.0L436.1 329.5M436.1 329.5L439.6 320.1M459.8 331.2L436.2 309.6M436.2 309.6L439.7 300.2M460.0 321.0L436.0 299.9M436.0 299.9L439.3 290.5M460.3 310.8L435.7 290.4M435.7 290.4L438.7 280.8M460.7 300.3L435.2 281.0M435.2 281.0L437.9 271.3M461.6 289.1L434.4 272.4M434.4 272.4L436.0 262.5M438.2 274.7L439.0 269.8M463.2 265.9L432.8 275.8M432.8 275.8L426.3 268.1M437.0 274.4L433.8 270.6M459.6 250.0L436.3 271.9M436.3 271.9L427.2 267.7M439.6 268.8L435.1 266.7M459.6 240.0L436.3 262.0M436.3 262.0L427.3 257.8M439.6 258.9L435.1 256.8M459.7 230.2L436.3 252.0M436.3 252.0L427.2 247.7M439.6 248.9L435.0 246.8M459.8 220.4L436.2 242.0M436.2 242.0L427.2 237.7M439.5 238.9L435.0 236.8M460.2 211.0L435.7 231.6M435.7 231.6L426.9 226.9M439.2 228.7L434.8 226.3M460.5 201.4L435.4 221.3M435.4 221.3L426.7 216.3M439.0 218.5L434.6 216.0M460.7 191.8L435.2 211.1M435.2 211.1L426.6 206.0M438.8 208.4L430.2 203.2M463.9 190.3L432.0 192.7M432.0 192.7L427.6 183.7M436.5 192.4L432.1 183.4M463.8 184.1L432.2 179.1M432.2 179.1L430.0 169.3M436.6 179.8L434.4 170.0M463.6 175.0L432.3 168.3M432.3 168.3L430.6 158.5M436.7 169.3L435.0 159.4M463.4 166.1L432.6 157.4M432.6 157.4L431.5 147.5M436.9 158.7L436.4 153.7M463.1 157.2L432.9 146.6M432.9 146.6L432.4 136.6M437.1 148.1L436.9 143.1M462.7 148.2L433.2 135.7M433.2 135.7L433.4 125.7M437.4 137.5L437.5 132.5M462.4 139.0L433.6 125.1M433.6 125.1L434.2 115.1M437.6 127.1L437.9 122.1M462.3 129.2L433.6 115.1M433.6 115.1L434.4 105.1M437.7 117.0L438.0 112.1M462.3 119.3L433.6 105.1M433.6 105.1L434.4 95.1M437.7 107.1L438.1 102.1M462.3 109.4L433.7 95.2M433.7 95.2L434.5 85.2M437.7 97.2L438.1 92.2M472.9 420.1L448.7 399.1M448.7 399.1L451.9 389.7M472.9 410.2L448.7 389.2M448.7 389.2L451.9 379.8M473.0 400.1L448.6 379.4M448.6 379.4L451.7 369.9M473.1 390.1L448.5 369.7M448.5 369.7L451.5 360.1M472.9 380.4L448.7 359.5M448.7 359.5L451.9 350.0M472.5 370.9L449.0 349.2M449.0 349.2L452.6 339.8M472.1 361.5L449.5 338.8M449.5 338.8L453.4 329.6M471.9 351.8L449.7 328.7M449.7 328.7L453.8 319.5M471.7 332.1L449.9 308.6M449.9 308.6L454.2 299.6M472.1 321.8L449.5 299.1M449.5 299.1L453.4 289.9M472.6 311.4L449.0 289.7M449.0 289.7L452.5 280.4M473.0 301.0L448.6 280.3M448.6 280.3L451.7 270.8M473.0 291.0L448.5 270.4M448.5 270.4L451.6 260.9M452.0 273.3L453.5 268.6M471.2 258.6L450.4 283.0M450.4 283.0L440.9 279.8M453.3 279.6L448.6 278.0M471.3 248.9L450.2 272.9M450.2 272.9L440.8 269.6M453.2 269.5L448.5 267.9M471.9 239.4L449.7 262.6M449.7 262.6L440.4 258.8M452.8 259.3L448.2 257.4M472.2 229.9L449.3 252.3M449.3 252.3L440.2 248.2M452.6 249.1L448.0 247.1M472.5 220.3L449.1 242.1M449.1 242.1L440.0 237.9M452.4 239.0L447.8 236.9M472.6 210.5L448.9 232.0M448.9 232.0L439.9 227.7M452.3 229.0L447.8 226.8M472.8 200.7L448.8 222.0M448.8 222.0L439.9 217.5M452.2 219.0L447.7 216.8M472.9 191.0L448.6 211.8M448.6 211.8L439.8 207.2M452.0 208.9L443.2 204.3M476.2 187.2L445.4 195.8M445.4 195.8L439.3 187.9M449.7 194.6L443.6 186.7M476.5 184.4L445.0 178.8M445.0 178.8L443.0 169.0M449.5 179.6L447.4 169.8M476.4 175.4L445.2 168.0M445.2 168.0L443.7 158.1M449.6 169.0L448.1 159.2M476.1 166.3L445.4 157.3M445.4 157.3L444.4 147.4M449.7 158.6L449.2 153.6M476.0 156.9L445.6 146.8M445.6 146.8L445.0 136.8M449.9 148.2L449.6 143.3M475.8 147.4L445.7 136.5M445.7 136.5L445.4 126.5M450.0 138.0L449.8 133.0M475.7 137.8L445.9 126.3M445.9 126.3L445.7 116.3M450.1 127.9L450.0 122.9M475.7 127.9L445.9 116.3M445.9 116.3L445.8 106.3M450.1 118.0L450.0 113.0M475.6 118.2L446.0 106.2M446.0 106.2L446.0 96.2M450.1 107.9L450.1 102.9M475.5 108.7L446.1 95.9M446.1 95.9L446.4 85.9M450.2 97.7L450.4 92.7M484.5 421.3L462.6 397.9M462.6 397.9L466.8 388.9M484.7 411.2L462.4 388.2M462.4 388.2L466.5 379.1M484.8 401.2L462.3 378.4M462.3 378.4L466.3 369.2M484.8 391.3L462.4 368.5M462.4 368.5L466.3 359.3M484.5 381.7L462.7 358.2M462.7 358.2L466.9 349.2M484.2 372.1L463.0 348.0M463.0 348.0L467.5 339.1M483.9 362.4L463.3 337.9M463.3 337.9L468.0 329.0M484.0 352.4L463.2 328.0M463.2 328.0L467.8 319.2M484.1 342.3L463.0 318.3M463.0 318.3L467.5 309.3M484.4 332.2L462.8 308.6M462.8 308.6L467.1 299.5M485.2 311.6L462.0 289.6M462.0 289.6L465.6 280.3M485.4 301.4L461.7 279.9M461.7 279.9L465.2 270.5M484.3 292.6L462.9 268.8M462.9 268.8L467.3 259.8M465.9 272.2L468.1 267.7M482.6 257.6L464.6 284.1M464.6 284.1L454.8 282.0M467.1 280.3L462.2 279.3M483.6 248.4L463.6 273.4M463.6 273.4L454.0 270.5M466.4 269.9L461.6 268.4M483.8 238.6L463.4 263.3M463.4 263.3L453.9 260.3M466.3 259.9L461.5 258.4M483.8 228.8L463.3 253.4M463.3 253.4L453.8 250.3M466.2 249.9L461.5 248.4M483.9 219.0L463.2 243.4M463.2 243.4L453.7 240.2M466.2 239.9L461.4 238.4M484.2 209.3L463.0 233.2M463.0 233.2L453.6 229.9M466.0 229.9L461.3 228.2M484.8 199.9L462.4 222.8M462.4 222.8L453.2 219.0M465.6 219.6L460.9 217.7M485.6 190.9L461.5 211.9M461.5 211.9L452.6 207.4M464.9 209.0L456.0 204.5M489.6 190.6L457.6 192.4M457.6 192.4L453.3 183.4M462.1 192.2L457.8 183.1M489.3 184.8L457.9 178.4M457.9 178.4L456.1 168.6M462.3 179.3L460.5 169.5M489.2 175.3L458.0 168.1M458.0 168.1L456.4 158.2M462.4 169.1L460.8 159.3M489.1 165.6L458.0 158.0M458.0 158.0L456.6 148.1M462.4 159.0L461.7 154.1M489.0 156.1L458.2 147.7M458.2 147.7L457.0 137.7M462.5 148.8L461.9 143.9M488.9 146.7L458.3 137.2M458.3 137.2L457.5 127.3M462.6 138.6L462.2 133.6M488.7 137.4L458.5 126.6M458.5 126.6L458.1 116.6M462.8 128.2L462.6 123.2M488.5 128.0L458.7 116.3M458.7 116.3L458.6 106.3M462.9 117.9L462.8 112.9M488.3 118.6L458.9 105.8M458.9 105.8L459.2 95.8M463.0 107.6L463.2 102.6M488.1 109.1L459.1 95.5M459.1 95.5L459.7 85.5M463.2 97.4L463.5 92.4M496.7 421.9L476.1 397.3M476.1 397.3L480.8 388.5M496.5 412.1L476.2 387.3M476.2 387.3L481.0 378.5M496.3 402.3L476.4 377.2M476.4 377.2L481.4 368.5M496.1 392.5L476.6 367.2M476.6 367.2L481.7 358.6M496.1 382.7L476.7 357.2M476.7 357.2L481.9 348.6M496.1 372.7L476.7 347.3M476.7 347.3L481.8 338.7M496.3 362.7L476.5 337.5M476.5 337.5L481.5 328.9M496.4 352.7L476.4 327.7M476.4 327.7L481.2 319.0M496.5 342.7L476.3 317.9M476.3 317.9L481.1 309.1M496.4 332.9L476.4 307.9M476.4 307.9L481.3 299.2M496.5 322.8L476.2 298.1M476.2 298.1L481.0 289.3M496.7 312.8L476.1 288.3M476.1 288.3L480.8 279.5M496.9 302.7L475.9 278.6M475.9 278.6L480.5 269.7M494.7 294.4L478.0 267.1M478.0 267.1L484.0 259.0M480.4 270.9L483.4 266.9M494.4 257.0L478.4 284.7M478.4 284.7L468.5 283.3M480.6 280.8L475.7 280.1M496.2 248.3L476.6 273.6M476.6 273.6L467.0 270.8M479.4 270.0L474.5 268.6M496.3 238.4L476.5 263.6M476.5 263.6L466.9 260.8M479.3 260.0L474.5 258.7M496.5 228.6L476.3 253.5M476.3 253.5L466.8 250.6M479.2 250.0L474.4 248.6M496.8 219.0L476.0 243.3M476.0 243.3L466.5 240.1M478.9 239.9L474.2 238.3M497.0 209.3L475.8 233.2M475.8 233.2L466.4 229.9M478.8 229.9L474.1 228.2M497.2 199.5L475.6 223.2M475.6 223.2L466.2 219.7M478.7 219.8L474.0 218.1M502.4 202.1L470.4 200.7M470.4 200.7L467.1 191.3M474.9 200.9L471.6 191.5M501.9 195.5L470.9 187.5M470.9 187.5L469.6 177.6M475.3 188.6L473.9 178.7M501.9 185.4L470.8 177.9M470.8 177.9L469.4 168.0M475.2 178.9L473.7 169.0M502.0 175.3L470.8 168.0M470.8 168.0L469.3 158.1M475.2 169.1L473.7 159.2M502.0 165.5L470.8 158.1M470.8 158.1L469.3 148.2M475.2 159.1L474.5 154.2M501.8 156.2L471.0 147.5M471.0 147.5L469.9 137.6M475.3 148.7L474.8 143.8M501.5 147.1L471.2 136.8M471.2 136.8L470.7 126.8M475.5 138.3L475.2 133.3M501.3 137.9L471.5 126.1M471.5 126.1L471.5 116.1M475.7 127.8L475.7 122.8M501.1 128.3L471.6 115.9M471.6 115.9L471.8 105.9M475.8 117.7L475.9 112.7M501.1 118.5L471.7 105.9M471.7 105.9L471.9 95.9M475.8 107.7L475.9 102.7M501.1 108.6L471.7 96.0M471.7 96.0L471.9 86.0M475.8 97.8L475.9 92.8M507.0 423.6L491.4 395.6M491.4 395.6L497.6 387.8M506.8 413.7L491.5 385.6M491.5 385.6L497.9 377.9M506.8 403.8L491.6 375.7M491.6 375.7L497.9 368.0M507.0 393.8L491.4 365.9M491.4 365.9L497.7 358.1M507.4 383.7L491.0 356.2M491.0 356.2L497.0 348.2M507.8 373.5L490.6 346.6M490.6 346.6L496.3 338.4M508.1 363.4L490.3 336.8M490.3 336.8L495.9 328.6M508.0 353.6L490.4 326.9M490.4 326.9L496.1 318.6M507.8 343.8L490.6 316.8M490.6 316.8L496.3 308.7M507.7 334.0L490.7 306.8M490.7 306.8L496.6 298.7M508.0 323.8L490.4 297.1M490.4 297.1L496.0 288.9M508.5 313.6L489.9 287.6M489.9 287.6L495.2 279.1M509.1 303.2L489.3 278.1M489.3 278.1L494.2 269.4M506.5 295.0L491.9 266.5M491.9 266.5L498.5 258.9M494.0 270.5L497.3 266.7M505.6 256.1L492.8 285.5M492.8 285.5L482.8 285.2M494.6 281.4L489.6 281.2M508.4 247.8L490.0 274.0M490.0 274.0L480.3 271.7M492.6 270.3L487.7 269.2M508.6 238.1L489.8 263.9M489.8 263.9L480.1 261.5M492.4 260.3L487.6 259.1M508.9 228.3L489.5 253.8M489.5 253.8L479.9 251.2M492.2 250.2L487.4 248.9M509.1 218.6L489.3 243.8M489.3 243.8L479.7 241.0M492.1 240.2L487.3 238.8M508.1 208.0L490.3 234.5M490.3 234.5L480.5 232.5M492.8 230.8L487.9 229.8M499.9 227.3L498.5 195.4M498.5 195.4L507.6 191.2M498.7 199.9L503.2 197.8M509.8 213.4L488.6 189.4M488.6 189.4L493.1 180.5M491.6 192.8L496.0 183.9M513.9 197.7L484.4 185.3M484.4 185.3L484.6 175.3M488.6 187.1L488.7 177.1M514.9 184.8L483.5 178.4M483.5 178.4L481.7 168.6M487.9 179.3L486.1 169.5M514.9 174.9L483.5 168.5M483.5 168.5L481.7 158.7M487.9 169.4L486.1 159.6M514.9 165.1L483.5 158.5M483.5 158.5L481.8 148.7M487.9 159.4L487.1 154.5M514.7 155.9L483.7 147.8M483.7 147.8L482.4 137.9M488.1 149.0L487.4 144.0M514.5 146.6L483.9 137.3M483.9 137.3L483.0 127.3M488.2 138.6L487.8 133.6M514.4 137.1L484.0 126.9M484.0 126.9L483.4 117.0M488.3 128.4L488.0 123.4M514.4 127.2L484.0 117.0M484.0 117.0L483.4 107.1M488.3 118.5L488.0 113.5M514.4 117.3L484.0 107.1M484.0 107.1L483.4 97.1M488.3 108.6L488.0 103.6M514.3 107.5L484.1 97.1M484.1 97.1L483.6 87.1M488.3 98.5L488.1 93.5M518.6 424.2L505.4 395.0M505.4 395.0L512.4 387.8M519.3 413.9L504.7 385.5M504.7 385.5L511.2 377.9M520.2 403.5L503.8 376.1M503.8 376.1L509.8 368.1M520.8 393.2L503.2 366.5M503.2 366.5L508.9 358.3M521.2 383.0L502.8 356.8M502.8 356.8L508.3 348.5M521.1 373.2L502.9 346.8M502.9 346.8L508.5 338.5M520.7 363.6L503.3 336.7M503.3 336.7L509.0 328.5M520.1 354.0L503.9 326.4M503.9 326.4L510.0 318.5M520.0 344.1L504.0 316.4M504.0 316.4L510.1 308.6M520.5 334.0L503.5 306.8M503.5 306.8L509.4 298.7M521.5 323.3L502.5 297.6M502.5 297.6L507.7 289.1M522.4 312.7L501.6 288.4M501.6 288.4L506.2 279.5M522.8 302.4L501.2 278.9M501.2 278.9L505.4 269.8M519.2 295.0L504.8 266.5M504.8 266.5L511.3 258.9M506.8 270.5L510.1 266.7M517.3 255.7L506.7 285.9M506.7 285.9L496.7 286.4M508.2 281.7L503.2 281.9M521.5 248.1L502.5 273.8M502.5 273.8L492.8 271.3M505.2 270.1L500.3 268.9M521.9 238.4L502.1 263.5M502.1 263.5L492.5 260.7M504.9 260.0L500.1 258.6M521.8 228.4L502.2 253.7M502.2 253.7L492.6 251.0M505.0 250.2L500.1 248.8M521.3 218.1L502.7 244.2M502.7 244.2L493.0 241.9M505.3 240.5L500.5 239.4M517.7 206.3L506.3 236.2M506.3 236.2L496.3 236.4M507.9 232.0L502.9 232.1M520.3 225.0L503.7 197.7M503.7 197.7L509.7 189.7M506.0 201.5L509.0 197.5M522.4 213.6L501.6 189.3M501.6 189.3L506.2 180.4M504.5 192.7L509.1 183.8M525.4 200.2L498.6 182.8M498.6 182.8L500.4 173.0M502.3 185.3L504.2 175.5M527.3 186.1L496.7 177.1M496.7 177.1L495.7 167.1M501.0 178.4L500.0 168.4M527.4 176.0L496.6 167.4M496.6 167.4L495.5 157.4M500.9 168.6L499.8 158.7M527.5 165.7L496.5 157.9M496.5 157.9L495.1 148.0M500.8 159.0L500.2 154.0M527.4 156.2L496.6 147.6M496.6 147.6L495.5 137.6M500.9 148.8L500.4 143.8M527.3 146.6L496.7 137.3M496.7 137.3L495.8 127.4M501.0 138.6L500.5 133.7M527.2 137.0L496.8 127.1M496.8 127.1L496.1 117.1M501.1 128.5L500.7 123.5M527.2 127.3L496.8 117.0M496.8 117.0L496.3 107.0M501.1 118.4L500.8 113.4M527.0 117.7L497.0 106.8M497.0 106.8L496.6 96.8M501.2 108.3L501.0 103.3M526.9 108.2L497.1 96.4M497.1 96.4L497.0 86.4M501.3 98.1L501.3 93.1M531.1 424.3L518.5 394.9M518.5 394.9L525.6 387.8M531.1 414.4L518.5 385.0M518.5 385.0L525.6 377.9M530.4 404.8L519.2 374.8M519.2 374.8L526.5 368.0M529.3 395.2L520.3 364.5M520.3 364.5L528.2 358.3M528.9 385.4L520.8 354.5M520.8 354.5L528.8 348.5M528.8 375.5L520.8 344.5M520.8 344.5L528.8 338.6M529.4 365.5L520.2 334.8M520.2 334.8L528.0 328.5M529.8 355.4L519.8 325.0M519.8 325.0L527.4 318.6M530.4 345.3L519.2 315.3M519.2 315.3L526.5 308.5M530.8 335.2L518.8 305.5M518.8 305.5L526.0 298.6M531.3 325.1L518.3 295.9M518.3 295.9L525.2 288.7M531.3 315.2L518.3 285.9M518.3 285.9L525.3 278.7M531.0 305.4L518.6 275.9M518.6 275.9L525.7 268.8M526.4 296.7L523.2 264.8M523.2 264.8L532.0 260.2M523.6 269.3L528.1 267.0M530.6 255.9L519.0 285.7M519.0 285.7L509.0 285.8M520.6 281.5L515.6 281.6M533.8 247.7L515.8 274.1M515.8 274.1L506.0 272.0M518.3 270.4L513.4 269.3M532.8 237.1L516.8 264.9M516.8 264.9L506.9 263.5M519.1 261.0L514.1 260.3M531.8 226.7L517.8 255.5M517.8 255.5L507.9 254.8M519.8 251.4L514.8 251.1M531.2 216.5L518.4 245.8M518.4 245.8L508.4 245.6M520.2 241.7L515.2 241.6M527.0 205.4L522.6 237.1M522.6 237.1L512.9 239.5M523.2 232.6L518.3 233.9M529.6 226.6L520.0 196.1M520.0 196.1L527.8 189.7M521.4 200.4L525.2 197.2M533.1 215.1L516.5 187.7M516.5 187.7L522.5 179.7M518.9 191.6L524.9 183.6M537.7 201.0L511.9 182.0M511.9 182.0L514.5 172.3M515.6 184.7L518.1 175.0M540.1 186.3L509.5 176.9M509.5 176.9L508.6 167.0M513.8 178.2L512.9 168.3M540.4 175.5L509.3 167.9M509.3 167.9L507.8 158.0M513.6 169.0L512.2 159.1M540.5 164.6L509.1 158.9M509.1 158.9L507.0 149.1M513.5 159.7L512.5 154.8M540.5 154.9L509.1 148.8M509.1 148.8L507.2 139.0M513.5 149.6L512.6 144.7M540.4 145.5L509.2 138.5M509.2 138.5L507.6 128.6M513.6 139.4L512.8 134.5M540.3 136.1L509.3 128.0M509.3 128.0L508.1 118.0M513.7 129.1L513.1 124.1M540.2 126.6L509.4 117.7M509.4 117.7L508.4 107.8M513.8 118.9L513.2 114.0M540.1 116.9L509.5 107.5M509.5 107.5L508.7 97.6M513.8 108.8L513.4 103.9M540.1 107.1L509.5 97.5M509.5 97.5L508.8 87.5M513.8 98.8L513.4 93.9M542.4 424.9L532.8 394.3M532.8 394.3L540.5 388.0M541.2 415.3L534.0 384.1M534.0 384.1L542.2 378.4M540.1 405.6L535.2 374.0M535.2 374.0L543.7 368.8M539.4 395.8L535.9 364.0M535.9 364.0L544.7 359.2M540.6 385.7L534.6 354.2M534.6 354.2L543.0 348.8M542.3 375.3L532.9 344.7M532.9 344.7L540.7 338.4M543.9 364.8L531.3 335.4M531.3 335.4L538.4 328.3M543.9 354.9L531.3 325.5M531.3 325.5L538.3 318.4M543.4 345.2L531.9 315.4M531.9 315.4L539.2 308.5M542.2 335.7L533.0 305.1M533.0 305.1L540.8 298.8M542.3 325.8L532.9 295.2M532.9 295.2L540.7 288.9M542.7 315.7L532.6 285.4M532.6 285.4L540.2 278.9M543.6 305.5L531.6 275.8M531.6 275.8L538.9 268.9M541.0 296.4L534.2 265.1M534.2 265.1L542.5 259.5M535.2 269.5L539.3 266.7M538.0 254.8L537.3 286.8M537.3 286.8L527.9 290.4M537.4 282.3L532.7 284.1M540.9 245.2L534.3 276.6M534.3 276.6L524.5 278.3M535.2 272.2L530.3 273.0M540.3 235.2L534.9 266.8M534.9 266.8L525.2 268.9M535.7 262.3L530.8 263.4M540.2 225.3L535.0 256.9M535.0 256.9L525.2 259.1M535.7 252.4L530.9 253.5M540.3 215.4L534.9 246.9M534.9 246.9L525.1 249.0M535.6 242.5L530.7 243.5M537.8 205.3L537.4 237.3M537.4 237.3L528.1 240.9M537.5 232.8L532.8 234.6M540.8 227.0L534.4 195.7M534.4 195.7L542.7 190.1M535.3 200.1L539.5 197.3M543.7 216.2L531.5 186.7M531.5 186.7L538.6 179.6M533.2 190.8L540.3 183.8M550.1 201.5L525.1 181.6M525.1 181.6L527.9 172.0M528.6 184.4L531.4 174.8M553.0 186.0L522.2 177.2M522.2 177.2L521.2 167.2M526.6 178.4L525.5 168.5M553.2 175.2L522.0 168.2M522.0 168.2L520.4 158.3M526.4 169.2L524.8 159.3M553.4 164.6L521.9 159.0M521.9 159.0L519.8 149.2M526.3 159.8L525.2 154.9M553.3 155.2L522.0 148.5M522.0 148.5L520.2 138.7M526.4 149.5L525.5 144.5M553.1 145.8L522.1 138.1M522.1 138.1L520.7 128.2M526.5 139.2L525.8 134.2M553.0 136.3L522.2 127.7M522.2 127.7L521.1 117.8M526.5 128.9L526.0 124.0M553.0 126.5L522.2 117.8M522.2 117.8L521.1 107.8M526.5 119.0L526.0 114.0M553.0 116.5L522.2 107.9M522.2 107.9L521.1 98.0M526.5 109.1L526.0 104.2M553.1 106.5L522.2 98.1M522.2 98.1L521.0 88.2M526.5 99.3L525.9 94.3M553.6 425.3L547.2 393.9M547.2 393.9L555.6 388.4M552.6 415.5L548.2 383.8M548.2 383.8L556.9 378.8M552.2 405.7L548.6 373.9M548.6 373.9L557.4 369.1M552.1 395.8L548.8 363.9M548.8 363.9L557.6 359.3M553.5 385.7L547.3 354.2M547.3 354.2L555.7 348.8M554.3 375.6L546.5 344.5M546.5 344.5L554.6 338.6M554.5 365.6L546.3 334.6M546.3 334.6L554.4 328.7M552.7 356.0L548.1 324.4M548.1 324.4L556.8 319.3M550.9 346.3L549.9 314.3M549.9 314.3L559.1 310.3M549.5 336.4L551.3 304.4M551.3 304.4L560.7 301.2M550.8 326.5L550.0 294.5M550.0 294.5L559.1 290.5M552.6 316.4L548.2 284.7M548.2 284.7L556.9 279.7M554.3 306.2L546.5 275.1M546.5 275.1L554.5 269.2M552.3 296.6L548.5 264.8M548.5 264.8L557.3 260.0M549.1 269.3L553.4 266.9M551.6 254.9L549.3 286.8M549.3 286.8L539.7 289.8M549.6 282.3L544.8 283.8M554.8 245.5L546.0 276.3M546.0 276.3L536.1 277.3M547.2 272.0L542.3 272.5M554.7 235.6L546.2 266.4M546.2 266.4L536.2 267.6M547.4 262.1L542.4 262.7M554.0 225.5L546.8 256.7M546.8 256.7L537.0 258.3M547.8 252.3L542.9 253.1M548.3 247.0L552.6 215.3M552.6 215.3L562.2 212.8M552.0 219.8L556.8 218.5M550.1 237.3L550.7 205.3M550.7 205.3L560.0 201.7M550.6 209.8L555.3 208.0M552.2 227.2L548.6 195.4M548.6 195.4L557.4 190.7M549.1 199.9L553.5 197.5M554.0 217.0L546.9 185.8M546.9 185.8L555.1 180.1M547.9 190.2L556.1 184.5M561.8 202.8L539.0 180.3M539.0 180.3L542.9 171.0M542.2 183.4L546.1 174.2M565.5 186.9L535.3 176.4M535.3 176.4L534.8 166.4M539.5 177.8L539.1 167.8M565.8 176.1L535.0 167.3M535.0 167.3L533.9 157.4M539.3 168.6L538.3 158.6M566.0 165.2L534.8 158.4M534.8 158.4L533.1 148.5M539.2 159.3L538.3 154.4M566.0 155.4L534.8 148.3M534.8 148.3L533.2 138.4M539.2 149.3L538.4 144.4M566.0 145.5L534.8 138.4M534.8 138.4L533.2 128.6M539.2 139.4L538.4 134.5M566.1 135.4L534.8 128.7M534.8 128.7L533.1 118.8M539.2 129.6L538.3 124.7M566.1 125.3L534.7 119.0M534.7 119.0L532.9 109.2M539.1 119.9L538.2 114.9M566.1 115.3L534.7 109.2M534.7 109.2L532.8 99.3M539.1 110.0L538.2 105.1M566.1 105.5L534.7 99.1M534.7 99.1L532.9 89.3M539.1 100.0L538.2 95.1M563.9 425.6L562.5 393.6M562.5 393.6L571.6 389.5M563.8 415.7L562.7 383.7M562.7 383.7L571.8 379.6M563.2 373.8L563.3 405.8M563.3 405.8L554.0 409.5M564.3 363.9L562.2 395.8M562.2 395.8L552.7 399.0M563.9 354.0L562.5 385.9M562.5 385.9L553.1 389.3M562.7 376.0L563.8 344.0M563.8 344.0L573.2 340.6M563.1 366.1L563.4 334.1M563.4 334.1L572.7 330.5M562.1 356.2L564.3 324.2M564.3 324.2L573.8 321.2M564.6 314.4L561.8 346.2M561.8 346.2L552.2 349.1M564.6 304.4L561.8 336.3M561.8 336.3L552.3 339.3M562.5 294.5L564.0 326.5M564.0 326.5L554.9 330.6M565.6 316.4L560.9 284.7M560.9 284.7L569.5 279.7M566.5 306.3L560.0 275.0M560.0 275.0L568.3 269.4M564.5 296.7L561.9 264.8M561.9 264.8L570.9 260.3M562.3 269.3L566.8 267.0M563.9 254.8L562.5 286.8M562.5 286.8L553.1 290.1M562.7 282.3L558.0 284.0M565.4 245.1L561.0 276.8M561.0 276.8L551.3 279.2M561.6 272.3L556.8 273.5M563.5 235.0L562.9 267.0M562.9 267.0L553.6 270.6M563.0 262.5L558.3 264.3M565.4 256.9L561.0 225.2M561.0 225.2L569.7 220.3M561.6 229.7L566.0 227.2M567.8 246.5L558.6 215.8M558.6 215.8L566.5 209.6M559.9 220.1L563.8 217.0M567.9 236.6L558.6 205.9M558.6 205.9L566.3 199.7M559.9 210.3L563.8 207.1M567.3 226.8L559.2 195.9M559.2 195.9L567.2 189.9M560.3 200.2L564.3 197.2M565.0 217.3L561.4 185.5M561.4 185.5L570.2 180.8M561.9 190.0L570.7 185.2M573.1 204.1L553.3 178.9M553.3 178.9L558.3 170.3M556.1 182.5L561.1 173.8M578.3 187.1L548.2 176.1M548.2 176.1L547.8 166.1M552.4 177.7L552.0 167.7M578.7 175.8L547.8 167.6M547.8 167.6L546.5 157.6M552.1 168.7L550.9 158.8M579.0 164.4L547.4 159.2M547.4 159.2L545.2 149.4M551.9 159.9L550.8 155.0M579.0 154.2L547.4 149.5M547.4 149.5L545.0 139.8M551.8 150.2L550.7 145.3M579.1 144.1L547.4 139.8M547.4 139.8L544.9 130.1M551.8 140.4L550.6 135.5M579.1 134.2L547.4 129.8M547.4 129.8L544.9 120.1M551.8 130.5L550.6 125.6M579.0 124.5L547.4 119.7M547.4 119.7L545.1 110.0M551.8 120.4L550.7 115.5M579.0 114.9L547.4 109.5M547.4 109.5L545.3 99.8M551.9 110.3L550.8 105.4M578.9 105.2L547.5 99.4M547.5 99.4L545.5 89.6M551.9 100.2L550.9 95.3M578.8 425.4L573.2 393.8M573.2 393.8L581.7 388.5M574.5 383.8L577.5 415.6M577.5 415.6L568.6 420.2M576.4 373.8L575.6 405.8M575.6 405.8L566.3 409.3M578.3 364.0L573.7 395.7M573.7 395.7L564.0 398.1M578.1 354.1L573.9 385.8M573.9 385.8L564.2 388.3M577.2 344.1L574.8 376.0M574.8 376.0L565.3 379.0M575.8 334.1L576.3 366.1M576.3 366.1L567.0 370.0M575.9 324.2L576.1 356.2M576.1 356.2L566.9 360.0M576.3 314.3L575.7 346.3M575.7 346.3L566.4 349.9M577.4 304.4L574.7 336.3M574.7 336.3L565.1 339.3M577.1 294.5L574.9 326.4M574.9 326.4L565.4 329.5M577.1 284.6L575.0 316.5M575.0 316.5L565.5 319.6M576.8 274.7L575.2 306.6M575.2 306.6L565.8 309.9M578.4 264.9L573.7 296.6M573.7 296.6L563.9 298.9M574.3 292.1L569.5 293.3M579.4 255.2L572.6 286.5M572.6 286.5L562.8 288.2M573.6 282.1L568.7 282.9M580.1 245.4L572.0 276.4M572.0 276.4L562.1 277.7M573.1 272.0L568.2 272.7M576.6 235.0L575.4 267.0M575.4 267.0L566.0 270.4M575.6 262.5L570.9 264.2M579.1 256.8L572.9 225.4M572.9 225.4L581.3 219.9M573.8 229.8L578.0 227.1M581.6 246.2L570.4 216.2M570.4 216.2L577.8 209.4M572.0 220.4L575.7 217.0M580.2 236.7L571.8 205.8M571.8 205.8L579.8 199.8M573.0 210.2L577.0 207.1M578.8 227.1L573.3 195.6M573.3 195.6L581.8 190.3M574.0 200.0L578.3 197.4M579.3 217.1L572.7 185.8M572.7 185.8L581.1 180.2M573.7 190.2L582.0 184.6M588.5 201.5L563.5 181.6M563.5 181.6L566.3 172.0M567.0 184.4L569.9 174.8M591.2 186.8L560.9 176.4M560.9 176.4L560.3 166.5M565.1 177.9L564.6 167.9M591.6 175.4L560.4 168.0M560.4 168.0L558.9 158.1M564.8 169.0L563.3 159.2M591.9 164.1L560.2 159.5M560.2 159.5L557.8 149.8M564.6 160.1L563.5 155.3M591.8 154.3L560.2 149.5M560.2 149.5L557.9 139.7M564.6 150.1L563.5 145.3M591.8 144.6L560.2 139.3M560.2 139.3L558.1 129.5M564.7 140.1L563.6 135.2M591.7 135.0L560.3 129.1M560.3 129.1L558.3 119.3M564.7 129.9L563.7 125.0M591.7 125.2L560.3 119.0M560.3 119.0L558.4 109.2M564.7 119.9L563.8 115.0M591.7 115.3L560.3 109.2M560.3 109.2L558.4 99.4M564.7 110.0L563.8 105.1M591.8 105.1L560.3 99.5M560.3 99.5L558.2 89.7M564.7 100.3L563.7 95.4M591.4 393.8L586.2 425.4M586.2 425.4L576.5 427.6M593.3 384.3L584.3 415.0M584.3 415.0L574.4 416.0M594.7 374.9L583.0 404.7M583.0 404.7L573.0 404.7M595.3 365.2L582.3 394.5M582.3 394.5L572.3 394.1M594.2 354.9L583.4 385.0M583.4 385.0L573.4 385.4M593.0 344.6L584.6 375.5M584.6 375.5L574.7 376.7M592.1 334.5L585.5 365.8M585.5 365.8L575.6 367.5M593.2 324.8L584.5 355.6M584.5 355.6L574.5 356.7M594.6 315.4L583.0 345.2M583.0 345.2L573.0 345.4M596.0 306.1L581.6 334.7M581.6 334.7L571.6 333.8M595.7 296.0L581.9 324.9M581.9 324.9L571.9 324.3M594.8 285.7L582.9 315.4M582.9 315.4L572.9 315.4M593.2 275.2L584.5 306.0M584.5 306.0L574.5 307.1M593.6 265.5L584.1 296.0M584.1 296.0L574.1 296.8M585.4 291.7L580.4 292.1M594.4 255.8L583.2 285.8M583.2 285.8L573.3 286.1M584.8 281.6L579.8 281.7M595.8 246.5L581.9 275.3M581.9 275.3L571.9 274.6M583.8 271.3L578.8 270.9M592.8 235.5L584.8 266.5M584.8 266.5L574.9 267.8M586.0 262.1L581.0 262.8M593.2 256.5L584.5 225.7M584.5 225.7L592.4 219.6M585.7 230.0L589.6 227.0M597.0 244.9L580.6 217.4M580.6 217.4L586.7 209.5M582.9 221.3L585.9 217.3M597.2 234.9L580.4 207.6M580.4 207.6L586.4 199.6M582.8 211.5L585.8 207.4M598.0 224.5L579.7 198.2M579.7 198.2L585.1 189.8M582.3 201.9L585.0 197.7M598.7 214.0L578.9 188.8M578.9 188.8L583.9 180.2M581.7 192.4L586.7 183.7M603.5 197.9L574.2 185.1M574.2 185.1L574.5 175.1M578.3 186.9L578.6 176.9M604.4 185.2L573.2 178.0M573.2 178.0L571.7 168.1M577.6 179.0L576.1 169.1M604.6 174.2L573.0 169.2M573.0 169.2L570.8 159.4M577.5 169.9L575.2 160.1M604.7 163.3L572.9 160.2M572.9 160.2L570.1 150.6M577.4 160.7L574.5 151.1M604.7 153.7L572.9 150.0M572.9 150.0L570.3 140.4M577.4 150.5L574.7 140.9M604.7 144.0L573.0 139.9M573.0 139.9L570.4 130.3M577.4 140.5L574.9 130.8M604.7 134.1L573.0 130.0M573.0 130.0L570.4 120.3M577.4 130.6L574.9 120.9M604.7 123.9L572.9 120.3M572.9 120.3L570.2 110.7M577.4 120.8L574.7 111.2M604.7 113.8L572.9 110.7M572.9 110.7L570.1 101.1M577.4 111.1L574.5 101.5M604.8 103.7L572.9 100.9M572.9 100.9L570.0 91.3M577.4 101.3L574.4 91.7M606.3 394.3L596.9 424.9M596.9 424.9L586.9 425.7M606.5 384.5L596.7 414.9M596.7 414.9L586.7 415.6M606.5 374.5L596.8 405.0M596.8 405.0L586.8 405.8M606.5 364.6L596.7 395.1M596.7 395.1L586.8 395.8M606.1 354.6L597.2 385.3M597.2 385.3L587.3 386.4M606.2 344.7L597.0 375.4M597.0 375.4L587.1 376.3M606.8 335.0L596.5 365.3M596.5 365.3L586.5 365.8M608.0 325.5L595.2 354.9M595.2 354.9L585.2 354.6M608.7 316.0L594.5 344.6M594.5 344.6L584.5 343.9M608.9 306.1L594.4 334.7M594.4 334.7L584.4 333.8M607.5 295.6L595.7 325.3M595.7 325.3L585.7 325.4M606.2 285.2L597.1 315.9M597.1 315.9L587.1 316.9M605.2 275.0L598.1 306.2M598.1 306.2L588.2 307.9M607.0 265.7L596.2 295.8M596.2 295.8L586.2 296.2M597.7 291.6L592.7 291.7M609.5 256.9L593.8 284.8M593.8 284.8L583.8 283.5M596.0 280.8L591.0 280.2M611.8 248.6L591.4 273.3M591.4 273.3L581.9 270.2M594.3 269.8L589.5 268.3M612.5 239.3L590.7 262.7M590.7 262.7L581.4 259.1M593.8 259.4L589.1 257.6M614.0 251.2L589.2 231.0M589.2 231.0L592.2 221.4M592.7 233.8L594.2 229.0M614.1 241.1L589.1 221.2M589.1 221.2L592.0 211.6M592.6 224.0L594.1 219.2M615.1 229.9L588.2 212.6M588.2 212.6L590.0 202.8M592.0 215.0L592.9 210.1M615.8 218.7L587.4 204.0M587.4 204.0L588.4 194.0M591.4 206.0L591.9 201.1M615.8 208.8L587.4 194.0M587.4 194.0L588.4 184.1M591.4 196.1L592.4 186.2M616.8 196.5L586.4 186.5M586.4 186.5L585.7 176.6M590.7 187.9L590.0 178.0M617.2 185.2L586.0 178.0M586.0 178.0L584.5 168.2M590.4 179.0L588.8 169.2M617.4 174.5L585.9 168.9M585.9 168.9L583.8 159.2M590.3 169.7L588.2 159.9M617.5 163.6L585.7 160.0M585.7 160.0L583.0 150.4M590.2 160.5L587.5 150.9M617.5 153.7L585.7 150.0M585.7 150.0L583.1 140.4M590.2 150.5L587.5 140.9M617.5 143.7L585.7 140.2M585.7 140.2L583.0 130.6M590.2 140.7L587.5 131.1M617.5 133.8L585.7 130.3M585.7 130.3L583.0 120.7M590.2 130.8L587.5 121.2M617.5 123.8L585.7 120.5M585.7 120.5L583.0 110.8M590.2 120.9L587.4 111.3M617.5 114.0L585.7 110.4M585.7 110.4L583.0 100.8M590.2 110.9L587.5 101.3M617.5 104.3L585.8 100.3M585.8 100.3L583.2 90.6M590.2 100.8L587.7 91.2M618.8 394.2L610.0 425.0M610.0 425.0L600.1 426.0M619.3 384.5L609.5 414.9M609.5 414.9L599.6 415.7M620.4 374.9L608.4 404.6M608.4 404.6L598.4 404.6M622.0 365.8L606.8 393.9M606.8 393.9L596.9 392.8M623.0 356.4L605.9 383.5M605.9 383.5L596.1 381.7M623.7 347.0L605.2 373.1M605.2 373.1L595.5 370.8M623.8 337.2L605.0 363.1M605.0 363.1L595.3 360.6M623.9 327.3L605.0 353.1M605.0 353.1L595.3 350.7M623.6 317.2L605.2 343.4M605.2 343.4L595.5 341.1M623.5 307.2L605.4 333.6M605.4 333.6L595.6 331.4M623.0 297.0L605.8 324.0M605.8 324.0L596.0 322.1M623.1 287.1L605.8 314.0M605.8 314.0L595.9 312.1M623.5 277.5L605.4 303.8M605.4 303.8L595.6 301.7M625.6 269.3L603.3 292.2M603.3 292.2L594.0 288.4M606.4 289.0L601.8 287.1M627.1 261.1L601.7 280.6M601.7 280.6L593.1 275.5M605.3 277.8L601.0 275.3M628.0 252.4L600.9 269.4M600.9 269.4L592.8 263.6M604.7 267.0L600.6 264.1M629.3 245.1L599.5 256.9M599.5 256.9L592.7 249.6M603.7 255.2L600.3 251.6M629.7 245.9L599.2 236.2M599.2 236.2L598.4 226.2M603.5 237.6L603.1 232.6M628.3 239.1L600.5 223.3M600.5 223.3L601.8 213.4M604.4 225.5L605.1 220.5M628.7 228.5L600.1 214.1M600.1 214.1L601.0 204.1M604.2 216.1L604.6 211.1M628.8 218.3L600.0 204.4M600.0 204.4L600.7 194.4M604.1 206.3L604.4 201.4M629.3 207.3L599.5 195.6M599.5 195.6L599.4 185.6M603.7 197.2L603.6 187.2M629.7 196.2L599.1 186.9M599.1 186.9L598.2 176.9M603.4 188.2L602.5 178.2M630.1 184.8L598.8 178.4M598.8 178.4L597.0 168.5M603.2 179.3L601.4 169.4M630.3 173.7L598.6 169.6M598.6 169.6L596.0 160.0M603.0 170.2L600.5 160.5M630.4 162.5L598.4 161.0M598.4 161.0L595.2 151.6M602.9 161.2L599.6 151.8M630.4 152.6L598.4 151.1M598.4 151.1L595.1 141.7M602.9 151.3L599.6 141.9M630.4 142.8L598.5 141.1M598.5 141.1L595.2 131.6M602.9 141.3L599.7 131.9M630.4 133.2L598.5 130.9M598.5 130.9L595.4 121.4M603.0 131.2L599.9 121.7M630.4 123.5L598.5 120.8M598.5 120.8L595.5 111.2M603.0 121.2L600.0 111.6M630.4 113.7L598.5 110.7M598.5 110.7L595.7 101.1M603.0 111.1L600.1 101.5M630.4 103.8L598.5 100.8M598.5 100.8L595.7 91.2M603.0 101.2L600.1 91.6M633.4 394.8L621.1 424.4M621.1 424.4L611.1 424.2M635.3 385.8L619.2 413.5M619.2 413.5L609.3 412.1M637.0 377.1L617.5 402.4M617.5 402.4L607.8 399.7M638.2 368.2L616.3 391.5M616.3 391.5L606.9 387.9M638.0 358.1L616.5 381.8M616.5 381.8L607.1 378.4M637.3 347.6L617.2 372.5M617.2 372.5L607.6 369.6M636.4 337.0L618.0 363.2M618.0 363.2L608.3 360.9M636.5 327.2L617.9 353.2M617.9 353.2L608.2 350.9M637.0 317.6L617.5 343.0M617.5 343.0L607.8 340.3M637.8 308.4L616.7 332.4M616.7 332.4L607.2 329.1M637.9 298.6L616.5 322.4M616.5 322.4L607.1 318.9M638.0 288.7L616.5 312.4M616.5 312.4L607.1 309.0M637.6 278.4L616.9 302.9M616.9 302.9L607.4 299.8M638.3 269.1L616.2 292.3M616.2 292.3L606.9 288.6M619.3 289.1L614.7 287.2M638.6 259.6L615.8 282.0M615.8 282.0L606.6 278.0M619.0 278.9L614.4 276.9M639.0 250.0L615.5 271.8M615.5 271.8L606.4 267.5M618.8 268.7L614.3 266.6M641.0 242.8L613.5 259.2M613.5 259.2L605.5 253.2M617.4 256.9L613.4 253.9M643.2 240.2L611.3 241.9M611.3 241.9L607.0 232.9M615.7 241.7L613.6 237.2M642.5 235.9L611.9 226.5M611.9 226.5L611.1 216.5M616.2 227.8L615.8 222.8M642.5 226.1L612.0 216.5M612.0 216.5L611.2 206.5M616.3 217.8L615.9 212.8M642.6 215.9L611.9 206.8M611.9 206.8L610.9 196.9M616.2 208.1L615.7 203.1M642.8 205.2L611.7 197.6M611.7 197.6L610.3 187.7M616.1 198.7L614.6 188.8M643.0 194.2L611.5 188.8M611.5 188.8L609.3 179.1M615.9 189.6L613.8 179.8M643.2 183.2L611.3 180.0M611.3 180.0L608.5 170.4M615.8 180.5L613.0 170.9M643.2 172.4L611.2 170.9M611.2 170.9L607.9 161.5M615.7 171.1L612.4 161.7M643.2 161.9L611.2 161.7M611.2 161.7L607.5 152.4M615.7 161.7L612.0 152.4M643.2 152.4L611.2 151.3M611.2 151.3L607.8 141.9M615.7 151.5L612.3 142.1M643.2 143.0L611.3 140.9M611.3 140.9L608.1 131.4M615.8 141.2L612.6 131.7M643.2 133.4L611.3 130.6M611.3 130.6L608.4 121.1M615.8 131.0L612.9 121.5M643.2 123.6L611.3 120.7M611.3 120.7L608.4 111.1M615.8 121.1L612.9 111.5M643.2 113.6L611.3 110.9M611.3 110.9L608.3 101.3M615.8 111.2L612.8 101.7M643.2 103.5L611.3 101.1M611.3 101.1L608.2 91.6M615.8 101.5L612.7 91.9M654.1 402.0L626.0 417.2M626.0 417.2L618.3 410.9M654.6 393.1L625.5 406.3M625.5 406.3L618.2 399.4M654.6 383.2L625.5 396.4M625.5 396.4L618.2 389.5M654.4 372.7L625.7 387.0M625.7 387.0L618.2 380.4M654.0 362.1L626.1 377.8M626.1 377.8L618.3 371.5M653.9 352.0L626.2 368.1M626.2 368.1L618.3 362.0M654.1 342.4L626.0 357.8M626.0 357.8L618.3 351.5M653.7 331.9L626.4 348.5M626.4 348.5L618.3 342.5M653.9 322.3L626.2 338.3M626.2 338.3L618.3 332.2M654.0 312.6L626.1 328.2M626.1 328.2L618.3 322.0M653.6 302.0L626.4 318.9M626.4 318.9L618.4 313.0M652.9 291.1L627.1 310.0M627.1 310.0L618.6 304.8M652.0 280.1L628.0 301.2M628.0 301.2L619.1 296.7M652.4 270.6L627.6 290.8M627.6 290.8L618.9 286.0M631.1 288.0L626.7 285.6M653.1 261.6L627.0 280.1M627.0 280.1L618.6 274.7M630.6 277.5L626.4 274.8M653.9 253.0L626.1 268.8M626.1 268.8L618.3 262.6M630.0 266.6L626.1 263.5M655.4 246.7L624.6 255.3M624.6 255.3L618.5 247.4M629.0 254.1L625.9 250.1M656.0 241.9L624.1 240.3M624.1 240.3L620.8 230.8M628.6 240.5L626.9 235.8M655.2 236.1L624.8 226.2M624.8 226.2L624.1 216.2M629.1 227.6L628.8 222.6M655.5 225.5L624.6 217.0M624.6 217.0L623.5 207.0M629.0 218.2L628.4 213.2M655.7 214.6L624.4 208.1M624.4 208.1L622.6 198.2M628.8 209.0L627.9 204.1M655.9 203.6L624.2 199.3M624.2 199.3L621.7 189.6M628.6 199.9L626.2 190.2M655.9 193.2L624.1 189.8M624.1 189.8L621.4 180.2M628.6 190.3L625.9 180.7M656.0 183.1L624.1 180.1M624.1 180.1L621.3 170.5M628.6 180.5L625.7 170.9M656.0 172.9L624.1 170.4M624.1 170.4L621.1 160.9M628.6 170.8L625.6 161.3M656.0 162.8L624.1 160.8M624.1 160.8L620.9 151.3M628.6 161.1L625.4 151.6M656.0 153.1L624.1 150.6M624.1 150.6L621.1 141.1M628.6 151.0L625.6 141.4M656.0 143.3L624.1 140.6M624.1 140.6L621.1 131.0M628.6 141.0L625.6 131.4M656.0 133.3L624.1 130.8M624.1 130.8L621.1 121.2M628.6 131.1L625.6 121.6M656.0 123.2L624.1 121.1M624.1 121.1L620.9 111.6M628.6 121.4L625.4 111.9M656.0 113.1L624.1 111.3M624.1 111.3L620.9 101.8M628.6 111.6L625.3 102.1M656.0 103.3L624.1 101.3M624.1 101.3L620.9 91.9M628.6 101.6L625.4 92.1M668.3 413.5L637.3 405.7M637.3 405.7L636.0 395.8M668.5 403.0L637.2 396.4M637.2 396.4L635.4 386.5M668.6 392.5L637.1 387.0M637.1 387.0L635.0 377.3M668.7 382.2L637.0 377.5M637.0 377.5L634.7 367.8M668.6 372.4L637.0 367.5M637.0 367.5L634.8 357.7M668.6 362.8L637.1 357.3M637.1 357.3L635.0 347.5M668.6 353.0L637.1 347.2M637.1 347.2L635.1 337.4M641.5 348.0L640.5 343.1M668.8 340.0L636.8 340.4M636.8 340.4L633.0 331.2M641.3 340.3L639.4 335.7M668.6 327.3L637.1 333.3M637.1 333.3L631.7 324.8M641.5 332.4L638.8 328.2M668.0 315.4L637.6 325.4M637.6 325.4L631.2 317.8M641.9 324.0L638.7 320.2M667.6 304.4L638.1 316.6M638.1 316.6L631.0 309.5M642.2 314.9L638.7 311.3M667.2 293.5L638.5 307.6M638.5 307.6L631.0 301.0M642.5 305.6L638.8 302.3M666.8 282.9L638.9 298.4M638.9 298.4L631.1 292.2M642.8 296.2L638.9 293.1M667.1 273.4L638.6 288.0M638.6 288.0L631.0 281.5M642.6 286.0L638.8 282.7M667.3 264.0L638.4 277.6M638.4 277.6L631.0 270.8M642.4 275.7L638.8 272.3M667.5 254.5L638.2 267.3M638.2 267.3L631.0 260.3M642.3 265.5L638.7 262.0M668.1 246.3L637.5 255.7M637.5 255.7L631.2 247.9M641.8 254.4L638.7 250.5M668.6 238.4L637.1 243.8M637.1 243.8L631.8 235.3M641.5 243.0L638.9 238.8M668.8 230.5L636.9 231.8M636.9 231.8L632.7 222.7M641.3 231.6L639.3 227.1M668.8 220.6L636.9 221.9M636.9 221.9L632.7 212.8M641.3 221.7L639.3 217.2M668.8 210.9L636.8 211.8M636.8 211.8L632.8 202.7M641.3 211.7L639.3 207.1M668.8 201.3L636.8 201.6M636.8 201.6L633.0 192.3M641.3 201.5L637.5 192.3M668.8 191.8L636.8 191.2M636.8 191.2L633.3 181.9M641.3 191.3L637.8 182.0M668.8 182.3L636.9 180.9M636.9 180.9L633.5 171.5M641.3 181.1L638.0 171.7M668.8 172.2L636.8 171.2M636.8 171.2L633.4 161.8M641.3 171.4L637.9 162.0M668.8 161.8L636.8 161.7M636.8 161.7L633.1 152.4M641.3 161.7L637.6 152.4M668.8 151.9L636.8 151.9M636.8 151.9L633.1 142.6M641.3 151.9L637.6 142.6M668.8 141.9L636.8 142.0M636.8 142.0L633.1 132.7M641.3 142.0L637.6 132.7M668.8 132.1L636.8 132.0M636.8 132.0L633.1 122.7M641.3 132.0L637.6 122.7M668.8 122.4L636.8 121.9M636.8 121.9L633.2 112.5M641.3 121.9L637.7 112.6M668.8 112.8L636.9 111.6M636.9 111.6L633.4 102.2M641.3 111.8L637.9 102.4M668.8 103.2L636.9 101.4M636.9 101.4L633.7 91.9M641.4 101.6L638.2 92.2M681.2 413.2L650.1 406.0M650.1 406.0L648.5 396.1M681.2 403.3L650.1 396.1M650.1 396.1L648.5 386.2M681.2 393.5L650.1 386.0M650.1 386.0L648.6 376.1M681.1 383.8L650.1 375.9M650.1 375.9L648.8 366.0M681.1 374.1L650.2 365.8M650.2 365.8L649.0 355.9M681.1 364.2L650.2 355.9M650.2 355.9L649.0 346.0M681.1 354.1L650.1 346.1M650.1 346.1L648.8 336.2M654.5 347.3L653.8 342.3M681.6 341.7L649.7 338.7M649.7 338.7L646.9 329.1M654.2 339.1L652.8 334.3M681.6 329.1L649.7 331.5M649.7 331.5L645.3 322.5M654.2 331.1L652.0 326.7M681.3 316.9L650.0 323.8M650.0 323.8L644.4 315.6M654.4 322.9L651.6 318.7M681.1 306.3L650.2 314.7M650.2 314.7L644.2 306.7M654.5 313.5L651.5 309.5M680.9 295.7L650.4 305.4M650.4 305.4L644.0 297.7M654.7 304.0L651.5 300.2M680.7 285.2L650.6 296.1M650.6 296.1L643.9 288.7M654.8 294.6L651.5 290.9M680.7 275.4L650.6 286.1M650.6 286.1L643.9 278.6M654.8 284.6L651.5 280.9M680.7 265.4L650.6 276.3M650.6 276.3L643.9 268.8M654.8 274.7L651.5 271.0M680.6 255.3L650.7 266.5M650.7 266.5L643.9 259.2M654.9 264.9L651.5 261.3M680.9 246.1L650.4 255.9M650.4 255.9L644.0 248.3M654.7 254.5L651.5 250.7M681.1 237.0L650.2 245.2M650.2 245.2L644.2 237.2M654.5 244.0L651.5 240.0M681.3 228.1L649.9 234.3M649.9 234.3L644.5 225.9M654.4 233.4L651.6 229.2M681.5 218.9L649.8 223.6M649.8 223.6L644.7 215.0M654.3 223.0L651.7 218.7M681.6 209.7L649.7 213.0M649.7 213.0L645.1 204.1M654.2 212.5L651.9 208.1M681.6 200.5L649.7 202.4M649.7 202.4L645.4 193.4M654.2 202.1L649.9 193.1M681.6 191.3L649.6 191.8M649.6 191.8L645.8 182.5M654.1 191.7L650.3 182.5M681.6 181.9L649.6 181.3M649.6 181.3L646.1 172.0M654.1 181.4L650.6 172.0M681.6 171.8L649.6 171.6M649.6 171.6L645.9 162.3M654.1 171.6L650.4 162.3M681.6 161.7L649.6 161.8M649.6 161.8L645.9 152.6M654.1 161.8L650.4 152.6M681.6 152.0L649.6 151.7M649.6 151.7L646.0 142.4M654.1 151.8L650.5 142.5M681.6 142.5L649.7 141.4M649.7 141.4L646.2 132.1M654.1 141.6L650.7 132.2M681.6 133.0L649.7 131.1M649.7 131.1L646.5 121.6M654.2 131.3L651.0 121.9M681.6 123.4L649.7 120.8M649.7 120.8L646.7 111.3M654.2 121.2L651.2 111.7M681.6 113.6L649.7 110.8M649.7 110.8L646.8 101.2M654.2 111.2L651.3 101.6M681.6 103.7L649.7 100.9M649.7 100.9L646.8 91.3M654.2 101.3L651.3 91.7M693.9 413.7L663.0 405.5M663.0 405.5L661.8 395.6M693.8 404.1L663.1 395.3M663.1 395.3L662.0 385.3M693.8 394.4L663.1 385.2M663.1 385.2L662.2 375.2M693.8 384.4L663.1 375.3M663.1 375.3L662.2 365.3M693.8 374.3L663.0 365.6M663.0 365.6L662.0 355.7M693.9 364.1L663.0 356.0M663.0 356.0L661.7 346.0M694.0 354.0L662.9 346.2M662.9 346.2L661.5 336.3M667.3 347.3L666.6 342.4M694.3 342.3L662.6 338.1M662.6 338.1L660.1 328.4M667.0 338.7L665.8 333.9M694.4 330.6L662.4 330.0M662.4 330.0L658.9 320.6M666.9 330.1L665.2 325.4M694.4 319.1L662.5 321.7M662.5 321.7L658.0 312.8M667.0 321.3L664.7 316.9M694.3 308.6L662.6 312.4M662.6 312.4L657.7 303.6M667.0 311.8L664.6 307.5M694.2 297.9L662.7 303.3M662.7 303.3L657.4 294.8M667.1 302.5L664.5 298.2M694.0 287.0L662.9 294.3M662.9 294.3L657.1 286.1M667.3 293.3L664.4 289.2M693.9 276.7L663.0 284.8M663.0 284.8L657.0 276.7M667.3 283.6L664.3 279.6M693.8 266.5L663.0 275.2M663.0 275.2L656.9 267.3M667.4 273.9L664.3 270.0M693.8 256.4L663.1 265.4M663.1 265.4L656.9 257.6M667.4 264.2L664.3 260.3M694.0 247.2L662.9 254.8M662.9 254.8L657.1 246.7M667.3 253.7L664.4 249.7M694.2 238.1L662.7 244.1M662.7 244.1L657.3 235.7M667.1 243.2L664.4 239.0M694.3 229.0L662.6 233.4M662.6 233.4L657.6 224.7M667.1 232.7L664.6 228.4M694.4 219.5L662.5 223.0M662.5 223.0L657.8 214.1M667.0 222.5L664.7 218.1M694.4 209.9L662.5 212.8M662.5 212.8L658.0 203.9M667.0 212.4L664.7 207.9M694.4 200.2L662.5 202.7M662.5 202.7L658.0 193.8M667.0 202.3L662.5 193.4M694.4 190.6L662.5 192.4M662.5 192.4L658.2 183.3M667.0 192.1L662.7 183.1M694.4 181.3L662.5 182.0M662.5 182.0L658.5 172.8M666.9 181.9L663.0 172.7M694.4 171.3L662.5 172.0M662.5 172.0L658.5 162.8M666.9 171.9L663.0 162.7M694.4 161.6L662.4 162.0M662.4 162.0L658.6 152.7M666.9 161.9L663.1 152.7M694.4 152.0L662.4 151.7M662.4 151.7L658.8 142.4M666.9 151.7L663.3 142.4M694.4 142.4L662.5 141.5M662.5 141.5L659.0 132.2M667.0 141.6L663.5 132.3M694.4 132.6L662.5 131.5M662.5 131.5L659.0 122.1M667.0 131.7L663.5 122.3M694.4 122.5L662.5 121.8M662.5 121.8L658.9 112.4M666.9 121.9L663.4 112.5M694.4 112.4L662.4 112.1M662.4 112.1L658.8 102.8M666.9 112.1L663.3 102.8M694.4 102.3L662.4 102.3M662.4 102.3L658.7 93.0M666.9 102.3L663.2 93.0M706.6 414.2L675.9 405.0M675.9 405.0L675.0 395.0M706.6 404.2L675.9 395.2M675.9 395.2L674.9 385.3M706.7 394.0L675.8 385.6M675.8 385.6L674.6 375.6M706.8 383.8L675.7 375.9M675.7 375.9L674.4 366.0M706.8 373.6L675.7 366.3M675.7 366.3L674.1 356.4M706.9 363.6L675.6 356.5M675.6 356.5L674.0 346.6M706.8 353.7L675.7 346.5M675.7 346.5L674.1 336.7M680.0 347.6L679.3 342.6M707.1 342.6L675.4 337.8M675.4 337.8L673.1 328.1M679.9 338.5L678.7 333.6M707.2 331.2L675.3 329.3M675.3 329.3L672.1 319.9M679.8 329.6L678.2 324.9M707.2 319.8L675.3 321.0M675.3 321.0L671.2 311.9M679.8 320.8L677.7 316.3M707.2 308.9L675.3 312.0M675.3 312.0L670.7 303.2M679.8 311.6L677.5 307.1M707.0 298.0L675.5 303.1M675.5 303.1L670.3 294.5M679.9 302.4L677.3 298.1M706.9 287.2L675.6 294.1M675.6 294.1L670.0 285.8M680.0 293.1L677.2 289.0M706.8 277.1L675.7 284.4M675.7 284.4L669.9 276.2M680.1 283.4L677.2 279.3M706.8 267.1L675.7 274.5M675.7 274.5L669.9 266.4M680.1 273.5L677.2 269.4M706.8 257.2L675.7 264.6M675.7 264.6L669.9 256.5M680.1 263.6L677.2 259.5M706.9 247.8L675.6 254.2M675.6 254.2L670.1 245.8M680.0 253.3L677.2 249.1M707.0 238.3L675.5 243.9M675.5 243.9L670.2 235.4M679.9 243.1L677.3 238.9M707.0 228.5L675.5 233.8M675.5 233.8L670.2 225.3M679.9 233.1L677.3 228.8M707.1 218.8L675.4 223.7M675.4 223.7L670.3 215.2M679.9 223.0L677.3 218.8M707.1 209.0L675.4 213.7M675.4 213.7L670.4 205.0M679.9 213.0L677.3 208.7M707.1 199.4L675.4 203.4M675.4 203.4L670.5 194.7M679.8 202.9L675.0 194.1M707.2 190.4L675.3 192.7M675.3 192.7L670.9 183.7M679.8 192.3L675.4 183.4M707.2 181.4L675.3 181.8M675.3 181.8L671.4 172.5M679.8 181.7L675.9 172.5M707.2 171.8L675.3 171.6M675.3 171.6L671.6 162.3M679.8 171.6L676.1 162.3M707.2 162.0L675.3 161.5M675.3 161.5L671.7 152.2M679.8 161.6L676.2 152.3M707.2 152.2L675.3 151.5M675.3 151.5L671.7 142.2M679.8 151.6L676.2 142.3M707.2 142.2L675.3 141.7M675.3 141.7L671.6 132.4M679.8 141.8L676.1 132.5M707.2 132.2L675.3 131.9M675.3 131.9L671.6 122.6M679.8 131.9L676.1 122.6M707.2 122.2L675.3 122.0M675.3 122.0L671.6 112.8M679.8 122.1L676.1 112.8M707.2 112.4L675.3 112.0M675.3 112.0L671.6 102.7M679.8 112.1L676.1 102.7M707.2 102.8L675.3 101.8M675.3 101.8L671.8 92.4M679.8 101.9L676.3 92.5M719.6 413.4L688.5 405.8M688.5 405.8L687.0 395.9M719.6 403.3L688.5 396.1M688.5 396.1L686.9 386.2M719.6 393.4L688.5 386.2M688.5 386.2L686.9 376.3M719.6 383.6L688.5 376.1M688.5 376.1L687.0 366.2M719.6 373.8L688.5 366.1M688.5 366.1L687.1 356.2M719.6 363.9L688.5 356.2M688.5 356.2L687.1 346.2M719.6 353.9L688.5 346.3M688.5 346.3L687.1 336.4M692.9 347.4L692.2 342.4M719.8 342.9L688.3 337.5M688.3 337.5L686.2 327.7M692.7 338.3L691.7 333.4M720.0 331.8L688.1 328.8M688.1 328.8L685.2 319.2M692.6 329.2L691.2 324.4M720.1 320.6L688.1 320.2M688.1 320.2L684.4 310.9M692.6 320.2L690.7 315.6M720.0 310.0L688.1 310.9M688.1 310.9L684.1 301.7M692.6 310.8L690.6 306.2M720.0 299.7L688.1 301.4M688.1 301.4L683.8 292.4M692.6 301.2L690.4 296.7M720.0 289.4L688.1 291.9M688.1 291.9L683.7 282.9M692.6 291.5L690.4 287.0M720.0 279.4L688.1 282.0M688.1 282.0L683.6 273.1M692.6 281.7L690.4 277.2M720.0 269.4L688.1 272.3M688.1 272.3L683.5 263.4M692.6 271.9L690.3 267.4M719.9 259.1L688.2 262.7M688.2 262.7L683.4 253.9M692.6 262.2L690.2 257.8M719.9 249.0L688.2 253.0M688.2 253.0L683.3 244.2M692.6 252.4L690.2 248.0M719.9 238.9L688.2 243.3M688.2 243.3L683.2 234.6M692.7 242.7L690.2 238.3M719.9 228.8L688.2 233.5M688.2 233.5L683.2 224.9M692.7 232.9L690.1 228.5M719.9 219.2L688.2 223.3M688.2 223.3L683.3 214.6M692.6 222.7L690.2 218.3M720.0 209.8L688.1 212.9M688.1 212.9L683.5 204.0M692.6 212.4L690.3 208.0M720.0 200.5L688.1 202.4M688.1 202.4L683.8 193.4M692.6 202.1L688.3 193.1M720.1 191.4L688.1 191.6M688.1 191.6L684.3 182.3M692.6 191.6L688.8 182.3M720.0 182.2L688.1 181.0M688.1 181.0L684.7 171.5M692.6 181.1L689.2 171.7M720.0 172.2L688.1 171.2M688.1 171.2L684.6 161.8M692.6 171.3L689.1 162.0M720.1 162.0L688.1 161.6M688.1 161.6L684.4 152.3M692.6 161.6L688.9 152.3M720.1 151.9L688.1 151.9M688.1 151.9L684.3 142.6M692.6 151.9L688.8 142.6M720.1 141.9L688.1 142.0M688.1 142.0L684.3 132.8M692.6 142.0L688.8 132.8M720.1 132.1L688.1 132.0M688.1 132.0L684.3 122.7M692.6 132.0L688.8 122.7M720.1 122.4L688.1 121.9M688.1 121.9L684.5 112.6M692.6 122.0L688.9 112.6M720.0 112.7L688.1 111.8M688.1 111.8L684.6 102.4M692.6 111.9L689.1 102.5M720.0 102.8L688.1 101.8M688.1 101.8L684.6 92.4M692.6 101.9L689.1 92.5M732.3 413.8L701.4 405.4M701.4 405.4L700.2 395.5M732.3 404.0L701.5 395.3M701.5 395.3L700.4 385.4M732.2 394.4L701.5 385.2M701.5 385.2L700.6 375.2M732.1 384.6L701.6 375.1M701.6 375.1L700.8 365.1M732.2 374.4L701.5 365.5M701.5 365.5L700.5 355.5M732.3 364.1L701.4 356.0M701.4 356.0L700.1 346.1M732.5 353.6L701.2 346.6M701.2 346.6L699.6 336.8M705.6 347.6L704.8 342.7M732.6 342.8L701.1 337.6M701.1 337.6L698.9 327.9M705.5 338.3L704.4 333.5M732.7 332.2L701.0 328.4M701.0 328.4L698.3 318.8M705.4 329.0L704.1 324.1M732.8 321.7L700.9 319.1M700.9 319.1L697.9 309.5M705.4 319.5L703.9 314.7M732.8 311.5L700.9 309.4M700.9 309.4L697.7 299.9M705.4 309.7L703.8 305.0M732.8 301.3L700.9 299.8M700.9 299.8L697.6 290.4M705.4 300.0L703.7 295.3M732.9 291.0L700.9 290.3M700.9 290.3L697.3 281.0M705.4 290.4L703.6 285.7M732.9 280.4L700.9 281.0M700.9 281.0L696.9 271.8M705.4 280.9L703.4 276.3M732.8 269.8L700.9 271.8M700.9 271.8L696.6 262.8M705.4 271.6L703.2 267.1M732.8 259.1L701.0 262.7M701.0 262.7L696.2 253.9M705.4 262.2L703.1 257.8M732.7 248.8L701.0 253.2M701.0 253.2L696.0 244.5M705.5 252.6L703.0 248.3M732.7 238.6L701.0 243.5M701.0 243.5L695.9 235.0M705.5 242.9L702.9 238.6M732.7 228.6L701.1 233.7M701.1 233.7L695.9 225.2M705.5 233.0L702.9 228.7M732.7 219.2L701.0 223.3M701.0 223.3L696.1 214.6M705.5 222.7L703.0 218.4M732.8 209.7L700.9 213.0M700.9 213.0L696.3 204.2M705.4 212.5L703.1 208.1M732.8 200.0L700.9 202.8M700.9 202.8L696.4 193.9M705.4 202.4L700.8 193.5M732.8 190.6L700.9 192.4M700.9 192.4L696.6 183.4M705.4 192.2L701.1 183.1M732.8 181.1L700.9 182.1M700.9 182.1L696.8 172.9M705.4 182.0L701.3 172.8M732.8 171.0L700.9 172.4M700.9 172.4L696.7 163.2M705.4 172.2L701.2 163.1M732.8 161.1L700.9 162.4M700.9 162.4L696.7 153.3M705.4 162.3L701.2 153.2M732.8 151.4L700.9 152.4M700.9 152.4L696.8 143.2M705.4 152.2L701.3 143.1M732.9 141.7L700.9 142.2M700.9 142.2L697.0 132.9M705.4 142.1L701.5 132.9M732.9 132.1L700.9 132.0M700.9 132.0L697.1 122.7M705.4 132.0L701.6 122.8M732.9 122.2L700.9 122.0M700.9 122.0L697.2 112.7M705.4 122.1L701.7 112.8M732.9 112.2L700.9 112.2M700.9 112.2L697.1 102.9M705.4 112.2L701.6 102.9M732.9 102.1L700.9 102.5M700.9 102.5L697.0 93.3M705.4 102.4L701.5 93.2M745.1 413.7L714.2 405.5M714.2 405.5L712.9 395.6M745.1 403.8L714.2 395.5M714.2 395.5L713.0 385.6M745.1 393.9L714.2 385.7M714.2 385.7L712.9 375.8M745.2 383.7L714.1 376.0M714.1 376.0L712.8 366.1M745.3 373.3L714.0 366.6M714.0 366.6L712.3 356.7M745.4 363.0L713.9 357.1M713.9 357.1L712.0 347.3M745.4 352.8L713.9 347.4M713.9 347.4L711.8 337.7M718.3 348.2L717.3 343.3M745.5 342.5L713.8 338.0M713.8 338.0L711.4 328.3M718.3 338.6L717.1 333.7M745.6 332.2L713.8 328.4M713.8 328.4L711.1 318.8M718.2 329.0L716.9 324.1M745.6 321.8L713.7 318.9M713.7 318.9L710.8 309.4M718.2 319.3L716.8 314.6M745.6 311.6L713.7 309.4M713.7 309.4L710.6 299.9M718.2 309.7L716.6 304.9M745.6 301.1L713.7 300.0M713.7 300.0L710.3 290.6M718.2 300.1L716.5 295.4M745.7 290.6L713.7 290.7M713.7 290.7L709.9 281.4M718.2 290.7L716.3 286.0M745.6 280.1L713.7 281.3M713.7 281.3L709.6 272.2M718.2 281.2L716.1 276.6M745.6 269.8L713.7 271.9M713.7 271.9L709.4 262.9M718.2 271.6L716.0 267.1M745.6 259.6L713.7 262.2M713.7 262.2L709.2 253.3M718.2 261.8L716.0 257.4M745.6 249.7L713.7 252.3M713.7 252.3L709.2 243.4M718.2 251.9L715.9 247.5M745.6 239.7L713.7 242.5M713.7 242.5L709.2 233.5M718.2 242.1L715.9 237.6M745.6 229.6L713.7 232.7M713.7 232.7L709.1 223.9M718.2 232.3L715.9 227.9M745.6 220.0L713.7 222.5M713.7 222.5L709.2 213.6M718.2 222.2L716.0 217.7M745.6 210.2L713.7 212.5M713.7 212.5L709.3 203.5M718.2 212.2L716.0 207.7M745.6 200.4L713.7 202.5M713.7 202.5L709.4 193.4M718.2 202.2L713.9 193.2M745.6 190.9L713.7 192.1M713.7 192.1L709.6 183.0M718.2 191.9L714.1 182.8M745.7 181.6L713.7 181.6M713.7 181.6L709.9 172.3M718.2 181.6L714.4 172.3M745.7 171.9L713.7 171.5M713.7 171.5L710.1 162.1M718.2 171.5L714.6 162.2M745.7 162.3L713.7 161.3M713.7 161.3L710.2 151.9M718.2 161.4L714.7 152.0M745.6 152.5L713.7 151.2M713.7 151.2L710.3 141.8M718.2 151.4L714.8 142.0M745.6 142.6L713.7 141.3M713.7 141.3L710.3 131.9M718.2 141.5L714.8 132.1M745.7 132.5L713.7 131.6M713.7 131.6L710.2 122.2M718.2 131.7L714.7 122.3M745.7 122.3L713.7 121.9M713.7 121.9L710.0 112.6M718.2 122.0L714.5 112.7M745.7 112.2L713.7 112.2M713.7 112.2L709.9 102.9M718.2 112.2L714.4 102.9M745.7 102.3L713.7 102.3M713.7 102.3L709.9 93.1M718.2 102.3L714.4 93.1M757.8 414.1L727.1 405.1M727.1 405.1L726.2 395.1M757.9 404.0L727.1 395.3M727.1 395.3L726.0 385.4M757.9 393.9L727.0 385.6M727.0 385.6L725.8 375.7M757.9 383.9L727.0 375.8M727.0 375.8L725.7 365.9M758.0 373.9L726.9 366.0M726.9 366.0L725.6 356.1M758.0 363.9L726.9 356.2M726.9 356.2L725.5 346.3M758.0 354.0L726.9 346.3M726.9 346.3L725.5 336.4M731.3 347.4L730.6 342.4M758.1 343.6L726.8 336.8M726.8 336.8L725.1 327.0M731.2 337.8L730.4 332.9M758.2 333.0L726.7 327.6M726.7 327.6L724.6 317.8M731.1 328.4L730.1 323.5M758.4 322.2L726.6 318.6M726.6 318.6L723.9 308.9M731.0 319.1L729.7 314.2M758.4 311.7L726.5 309.2M726.5 309.2L723.5 299.7M731.0 309.6L729.5 304.8M758.4 301.3L726.5 299.8M726.5 299.8L723.2 290.4M731.0 300.0L729.3 295.3M758.5 291.0L726.5 290.3M726.5 290.3L723.0 280.9M731.0 290.4L729.2 285.7M758.5 280.9L726.5 280.6M726.5 280.6L722.8 271.3M731.0 280.6L729.1 276.0M758.5 270.8L726.5 270.8M726.5 270.8L722.7 261.5M731.0 270.8L729.1 266.2M758.5 260.7L726.5 261.1M726.5 261.1L722.6 251.9M731.0 261.0L729.0 256.4M758.5 250.4L726.5 251.6M726.5 251.6L722.4 242.4M731.0 251.4L728.9 246.8M758.4 239.9L726.5 242.2M726.5 242.2L722.1 233.2M731.0 241.9L728.8 237.4M758.4 229.4L726.6 233.0M726.6 233.0L721.8 224.2M731.0 232.5L728.7 228.1M758.4 219.6L726.6 223.0M726.6 223.0L721.8 214.1M731.0 222.5L728.7 218.1M758.4 209.9L726.5 212.8M726.5 212.8L722.0 203.9M731.0 212.4L728.7 207.9M758.4 200.4L726.5 202.4M726.5 202.4L722.2 193.4M731.0 202.1L726.7 193.1M758.5 191.1L726.5 192.0M726.5 192.0L722.5 182.8M731.0 191.8L727.0 182.7M758.5 181.7L726.5 181.5M726.5 181.5L722.8 172.2M731.0 181.5L727.3 172.3M758.5 171.8L726.5 171.5M726.5 171.5L722.8 162.2M731.0 171.6L727.3 162.3M758.5 161.8L726.5 161.7M726.5 161.7L722.7 152.5M731.0 161.8L727.2 152.5M758.5 151.6L726.5 152.1M726.5 152.1L722.6 142.9M731.0 152.0L727.1 142.8M758.5 141.4L726.5 142.5M726.5 142.5L722.4 133.3M731.0 142.3L726.9 133.2M758.5 131.4L726.5 132.7M726.5 132.7L722.4 123.6M731.0 132.5L726.8 123.4M758.5 121.5L726.5 122.8M726.5 122.8L722.4 113.6M731.0 122.6L726.9 113.5M758.5 111.8L726.5 112.7M726.5 112.7L722.5 103.5M731.0 112.5L727.0 103.4M758.5 102.1L726.5 102.5M726.5 102.5L722.6 93.3M731.0 102.4L727.1 93.2M770.8 413.5L739.7 405.7M739.7 405.7L738.3 395.8M770.8 403.5L739.7 395.9M739.7 395.9L738.3 386.0M770.8 393.6L739.7 385.9M739.7 385.9L738.3 376.0M770.7 383.9L739.8 375.8M739.8 375.8L738.5 365.9M770.8 373.9L739.8 366.0M739.8 366.0L738.4 356.1M770.8 363.8L739.7 356.3M739.7 356.3L738.2 346.4M770.9 353.4L739.6 346.8M739.6 346.8L737.9 337.0M744.0 347.7L743.1 342.8M771.1 342.6L739.5 337.8M739.5 337.8L737.1 328.1M743.9 338.5L742.7 333.6M771.2 331.8L739.3 328.8M739.3 328.8L736.5 319.2M743.8 329.2L742.4 324.4M771.3 321.1L739.3 319.7M739.3 319.7L736.0 310.2M743.8 319.9L742.1 315.1M771.3 311.0L739.3 309.9M739.3 309.9L735.8 300.6M743.8 310.1L742.1 305.4M771.3 301.0L739.3 300.1M739.3 300.1L735.8 290.7M743.8 300.2L742.0 295.5M771.3 291.1L739.3 290.2M739.3 290.2L735.8 280.8M743.8 290.3L742.0 285.6M771.3 281.0L739.3 280.4M739.3 280.4L735.7 271.1M743.8 280.5L742.0 275.8M771.3 270.8L739.3 270.9M739.3 270.9L735.5 261.6M743.8 270.9L741.9 266.2M771.3 260.3L739.3 261.5M739.3 261.5L735.2 252.3M743.8 261.3L741.7 256.7M771.2 249.8L739.3 252.2M739.3 252.2L734.9 243.2M743.8 251.9L741.6 247.4M771.2 239.3L739.4 242.9M739.4 242.9L734.6 234.1M743.8 242.4L741.5 238.0M771.1 229.0L739.4 233.3M739.4 233.3L734.5 224.6M743.9 232.7L741.4 228.4M771.2 219.7L739.3 222.8M739.3 222.8L734.7 213.9M743.8 222.4L741.5 217.9M771.2 210.5L739.3 212.2M739.3 212.2L735.1 203.1M743.8 211.9L741.7 207.4M771.3 201.3L739.3 201.6M739.3 201.6L735.4 192.4M743.8 201.5L739.9 192.3M771.3 191.6L739.3 191.4M739.3 191.4L735.6 182.1M743.8 191.4L740.1 182.1M771.3 181.8L739.3 181.4M739.3 181.4L735.6 172.1M743.8 181.5L740.1 172.2M771.3 171.7L739.3 171.7M739.3 171.7L735.5 162.4M743.8 171.7L740.0 162.4M771.3 161.6L739.3 162.0M739.3 162.0L735.4 152.7M743.8 161.9L739.9 152.7M771.3 151.6L739.3 152.1M739.3 152.1L735.4 142.9M743.8 152.0L739.9 142.8M771.3 141.9L739.3 142.0M739.3 142.0L735.5 132.8M743.8 142.0L740.0 132.8M771.3 132.2L739.3 131.8M739.3 131.8L735.6 122.5M743.8 131.9L740.1 122.6M771.3 122.6L739.3 121.7M739.3 121.7L735.8 112.3M743.8 121.8L740.3 112.4M771.3 112.8L739.3 111.6M739.3 111.6L735.9 102.2M743.8 111.8L740.4 102.4M771.3 102.9L739.3 101.7M739.3 101.7L735.9 92.3M743.8 101.9L740.4 92.5M783.6 413.4L752.5 405.8M752.5 405.8L751.1 395.9M783.5 403.8L752.6 395.6M752.6 395.6L751.4 385.6M783.5 394.1L752.7 385.4M752.7 385.4L751.6 375.5M783.5 384.3L752.7 375.4M752.7 375.4L751.6 365.5M783.6 374.0L752.6 365.9M752.6 365.9L751.3 356.0M783.7 363.6L752.5 356.5M752.5 356.5L750.9 346.6M783.8 353.3L752.4 347.0M752.4 347.0L750.5 337.2M756.8 347.9L755.9 343.0M783.9 342.7L752.3 337.7M752.3 337.7L750.0 328.0M756.7 338.4L755.6 333.6M783.9 332.3L752.2 328.3M752.2 328.3L749.6 318.6M756.7 328.9L755.4 324.0M784.0 322.0L752.2 318.7M752.2 318.7L749.4 309.1M756.6 319.2L755.2 314.4M784.0 312.2L752.2 308.8M752.2 308.8L749.4 299.1M756.6 309.2L755.3 304.4M784.0 302.2L752.2 298.9M752.2 298.9L749.4 289.3M756.6 299.4L755.2 294.6M784.0 292.0L752.1 289.3M752.1 289.3L749.2 279.7M756.6 289.6L755.2 284.9M784.0 281.6L752.1 279.8M752.1 279.8L748.9 270.4M756.6 280.1L755.0 275.4M784.1 271.2L752.1 270.4M752.1 270.4L748.6 261.1M756.6 270.5L754.8 265.9M784.1 260.9L752.1 260.9M752.1 260.9L748.3 251.6M756.6 260.9L754.7 256.3M784.1 250.6L752.1 251.4M752.1 251.4L748.1 242.2M756.6 251.3L754.6 246.7M784.1 240.4L752.1 241.7M752.1 241.7L748.0 232.6M756.6 241.6L754.5 237.0M784.0 230.3L752.1 232.0M752.1 232.0L747.8 223.0M756.6 231.8L754.5 227.3M784.1 221.0L752.1 221.5M752.1 221.5L748.2 212.3M756.6 221.5L754.6 216.9M784.1 211.5L752.1 211.2M752.1 211.2L748.4 201.9M756.6 211.2L754.7 206.6M784.1 201.8L752.1 201.0M752.1 201.0L748.6 191.7M756.6 201.2L753.1 191.8M784.1 191.6L752.1 191.4M752.1 191.4L748.4 182.1M756.6 191.4L752.9 182.2M784.1 181.5L752.1 181.7M752.1 181.7L748.3 172.5M756.6 181.7L752.8 172.5M784.1 171.5L752.1 171.9M752.1 171.9L748.2 162.6M756.6 171.8L752.7 162.6M784.1 161.7L752.1 161.8M752.1 161.8L748.3 152.6M756.6 161.8L752.8 152.6M784.1 152.0L752.1 151.7M752.1 151.7L748.4 142.4M756.6 151.8L752.9 142.4M784.1 142.3L752.1 141.6M752.1 141.6L748.5 132.3M756.6 141.7L753.0 132.4M784.1 132.4L752.1 131.7M752.1 131.7L748.5 122.4M756.6 131.8L753.0 122.5M784.1 122.3L752.1 122.0M752.1 122.0L748.4 112.7M756.6 122.0L752.9 112.7M784.1 112.1L752.1 112.4M752.1 112.4L748.2 103.1M756.6 112.3L752.7 103.1M784.1 101.9L752.1 102.7M752.1 102.7L748.1 93.6M756.6 102.6L752.6 93.4M795.2 416.8L766.6 402.4M766.6 402.4L767.4 392.5M795.3 406.6L766.5 392.7M766.5 392.7L767.1 382.7M795.4 396.4L766.3 383.1M766.3 383.1L766.7 373.2M795.6 386.1L766.1 373.6M766.1 373.6L766.3 363.6M796.0 375.1L765.7 364.8M765.7 364.8L765.1 354.9M796.3 364.2L765.4 355.9M765.4 355.9L764.2 345.9M796.5 353.6L765.3 346.6M765.3 346.6L763.6 336.8M769.7 347.6L768.8 342.7M796.6 343.2L765.2 337.2M765.2 337.2L763.2 327.4M769.6 338.1L768.6 333.2M796.7 332.7L765.1 327.9M765.1 327.9L762.8 318.1M769.5 328.6L768.4 323.7M796.8 322.1L765.0 318.7M765.0 318.7L762.2 309.1M769.4 319.2L768.1 314.4M796.8 311.8L764.9 309.2M764.9 309.2L761.9 299.6M769.4 309.5L767.9 304.8M796.9 301.4L764.9 299.7M764.9 299.7L761.6 290.3M769.4 300.0L767.8 295.2M796.9 291.0L764.9 290.3M764.9 290.3L761.4 280.9M769.4 290.4L767.6 285.7M796.9 280.7L764.9 280.7M764.9 280.7L761.1 271.5M769.4 280.7L767.5 276.1M796.9 270.6L764.9 271.0M764.9 271.0L761.0 261.8M769.4 271.0L767.4 266.3M796.9 260.6L764.9 261.2M764.9 261.2L761.0 252.0M769.4 261.1L767.4 256.5M796.9 250.6L764.9 251.4M764.9 251.4L760.9 242.2M769.4 251.3L767.4 246.7M796.9 240.4L764.9 241.8M764.9 241.8L760.8 232.7M769.4 241.6L767.3 237.0M796.8 230.0L764.9 232.3M764.9 232.3L760.5 223.3M769.4 232.0L767.2 227.5M796.8 220.2L764.9 222.3M764.9 222.3L760.6 213.3M769.4 222.0L767.2 217.5M796.8 210.4L764.9 212.3M764.9 212.3L760.6 203.2M769.4 212.0L767.3 207.5M796.9 200.7L764.9 202.1M764.9 202.1L760.7 193.0M769.4 201.9L765.2 192.8M796.9 190.9L764.9 192.1M764.9 192.1L760.8 183.0M769.4 192.0L765.3 182.8M796.9 181.2L764.9 182.0M764.9 182.0L760.9 172.8M769.4 181.9L765.4 172.7M796.9 171.6L764.9 171.8M764.9 171.8L761.1 162.6M769.4 171.8L765.6 162.5M796.9 161.8L764.9 161.7M764.9 161.7L761.2 152.4M769.4 161.7L765.7 152.4M796.9 152.0L764.9 151.8M764.9 151.8L761.2 142.5M769.4 151.8L765.7 142.5M796.9 141.9L764.9 142.0M764.9 142.0L761.1 132.8M769.4 142.0L765.6 132.7M796.9 131.8L764.9 132.3M764.9 132.3L761.0 123.1M769.4 132.2L765.5 123.0M796.9 121.7L764.9 122.5M764.9 122.5L760.9 113.4M769.4 122.4L765.4 113.3M796.9 111.8L764.9 112.6M764.9 112.6L760.9 103.4M769.4 112.5L765.4 103.3M796.9 102.1L764.9 102.5M764.9 102.5L761.0 93.3M769.4 102.4L765.5 93.2M806.6 419.1L780.8 400.1M780.8 400.1L783.2 390.5M807.0 408.5L780.3 390.8M780.3 390.8L782.3 381.0M807.3 398.1L780.0 381.4M780.0 381.4L781.7 371.5M807.5 388.0L779.9 371.8M779.9 371.8L781.3 361.9M808.3 376.5L779.1 363.4M779.1 363.4L779.4 353.4M808.8 365.1L778.5 354.9M778.5 354.9L777.9 344.9M809.2 353.9L778.1 346.3M778.1 346.3L776.7 336.4M782.5 347.4L781.8 342.4M809.4 343.3L778.0 337.2M778.0 337.2L776.1 327.4M782.4 338.0L781.4 333.1M809.5 332.4L777.8 328.2M777.8 328.2L775.3 318.5M782.3 328.8L781.0 324.0M809.6 321.5L777.7 319.3M777.7 319.3L774.6 309.8M782.2 319.6L780.7 314.8M809.7 311.3L777.7 309.7M777.7 309.7L774.4 300.2M782.2 309.9L780.6 305.2M809.7 301.2L777.7 299.9M777.7 299.9L774.3 290.5M782.2 300.1L780.5 295.4M809.7 291.3L777.7 289.9M777.7 289.9L774.4 280.5M782.2 290.1L780.5 285.4M809.7 281.5L777.7 280.0M777.7 280.0L774.4 270.6M782.2 280.2L780.5 275.5M809.7 271.5L777.7 270.1M777.7 270.1L774.3 260.7M782.2 270.3L780.5 265.6M809.7 261.4L777.7 260.4M777.7 260.4L774.2 251.1M782.2 260.6L780.4 255.9M809.7 251.1L777.7 250.9M777.7 250.9L774.0 241.6M782.2 250.9L780.3 246.2M809.7 240.8L777.7 241.4M777.7 241.4L773.8 232.2M782.2 241.3L780.2 236.7M809.7 230.4L777.7 231.9M777.7 231.9L773.5 222.8M782.2 231.7L780.1 227.1M809.7 220.7L777.7 221.8M777.7 221.8L773.6 212.6M782.2 221.6L780.2 217.1M809.7 211.2L777.7 211.5M777.7 211.5L773.8 202.3M782.2 211.5L780.3 206.8M809.7 201.8L777.7 201.1M777.7 201.1L774.1 191.7M782.2 201.2L778.6 191.8M809.7 192.1L777.7 190.9M777.7 190.9L774.3 181.5M782.2 191.1L778.8 181.7M809.7 182.3L777.7 180.9M777.7 180.9L774.4 171.5M782.2 181.1L778.9 171.7M809.7 172.3L777.7 171.1M777.7 171.1L774.3 161.7M782.2 171.2L778.8 161.8M809.7 162.2L777.7 161.4M777.7 161.4L774.2 152.0M782.2 161.5L778.7 152.1M809.7 152.0L777.7 151.7M777.7 151.7L774.0 142.4M782.2 151.8L778.5 142.5M809.7 141.9L777.7 142.0M777.7 142.0L773.9 132.7M782.2 142.0L778.4 132.7M809.7 132.0L777.7 132.0M777.7 132.0L773.9 122.8M782.2 132.0L778.4 122.8M809.7 122.3L777.7 122.0M777.7 122.0L774.0 112.6M782.2 122.0L778.5 112.7M809.7 112.6L777.7 111.8M777.7 111.8L774.2 102.5M782.2 111.9L778.7 102.6M809.7 102.8L777.7 101.8M777.7 101.8L774.2 92.4M782.2 101.9L778.7 92.5M816.6 422.0L796.3 397.2M796.3 397.2L801.1 388.5M817.2 411.6L795.8 387.8M795.8 387.8L800.2 378.8M817.6 401.3L795.4 378.2M795.4 378.2L799.5 369.1M817.9 391.0L795.0 368.7M795.0 368.7L798.8 359.4M819.6 379.1L793.3 360.8M793.3 360.8L795.5 351.1M821.1 366.6L791.9 353.4M791.9 353.4L792.3 343.4M821.9 354.4L791.1 345.9M791.1 345.9L789.9 335.9M795.4 347.1L794.8 342.1M822.2 343.4L790.8 337.0M790.8 337.0L789.0 327.2M795.2 337.9L794.3 333.0M822.3 332.5L790.6 328.1M790.6 328.1L788.2 318.4M795.1 328.7L793.9 323.9M822.4 321.8L790.5 319.0M790.5 319.0L787.6 309.4M795.0 319.4L793.6 314.6M822.4 311.9L790.5 309.1M790.5 309.1L787.6 299.5M795.0 309.5L793.6 304.7M822.4 302.0L790.5 299.1M790.5 299.1L787.6 289.6M795.0 299.5L793.6 294.7M822.4 292.0L790.5 289.3M790.5 289.3L787.6 279.7M795.0 289.7L793.5 284.9M822.5 281.7L790.5 279.7M790.5 279.7L787.4 270.2M795.0 280.0L793.4 275.3M822.5 271.3L790.5 270.3M790.5 270.3L787.0 261.0M795.0 270.5L793.3 265.8M822.5 260.8L790.5 261.0M790.5 261.0L786.7 251.8M795.0 261.0L793.1 256.4M822.5 250.6L790.5 251.4M790.5 251.4L786.5 242.3M795.0 251.3L793.0 246.7M822.5 240.5L790.5 241.7M790.5 241.7L786.4 232.6M795.0 241.5L792.9 237.0M822.5 230.6L790.5 231.8M790.5 231.8L786.4 222.6M795.0 231.6L792.9 227.0M822.5 221.0L790.5 221.5M790.5 221.5L786.6 212.3M795.0 221.4L793.0 216.8M822.5 211.3L790.5 211.3M790.5 211.3L786.7 202.1M795.0 211.3L793.1 206.7M822.5 201.6L790.5 201.3M790.5 201.3L786.8 192.0M795.0 201.3L791.3 192.0M822.5 191.5L790.5 191.6M790.5 191.6L786.7 182.3M795.0 191.6L791.2 182.3M822.5 181.3L790.5 181.9M790.5 181.9L786.5 172.7M795.0 181.8L791.0 172.7M822.5 171.1L790.5 172.3M790.5 172.3L786.4 163.1M795.0 172.1L790.9 163.0M822.5 161.1L790.5 162.5M790.5 162.5L786.4 153.3M795.0 162.3L790.9 153.2M822.5 151.3L790.5 152.4M790.5 152.4L786.4 143.3M795.0 152.3L790.9 143.2M822.5 141.6L790.5 142.3M790.5 142.3L786.5 133.1M795.0 142.2L791.0 133.0M822.5 131.9L790.5 132.2M790.5 132.2L786.7 122.9M795.0 132.1L791.2 122.9M822.5 122.1L790.5 122.1M790.5 122.1L786.7 112.8M795.0 122.1L791.2 112.8M822.5 112.2L790.5 112.3M790.5 112.3L786.7 103.0M795.0 112.3L791.2 103.0M822.5 102.0L790.5 102.6M790.5 102.6L786.6 93.4M795.0 102.5L791.1 93.3M827.3 423.4L811.3 395.8M811.3 395.8L817.4 387.9M828.0 413.1L810.6 386.2M810.6 386.2L816.4 378.1M828.8 402.7L809.8 376.9M809.8 376.9L815.1 368.4M829.6 392.1L808.9 367.7M808.9 367.7L813.6 358.8M831.9 379.7L806.6 360.2M806.6 360.2L809.3 350.5M833.9 366.5L804.6 353.6M804.6 353.6L804.9 343.6M834.9 353.6L803.7 346.6M803.7 346.6L802.0 336.8M808.1 347.6L807.2 342.7M835.1 342.9L803.5 337.5M803.5 337.5L801.4 327.7M808.0 338.3L806.9 333.4M835.2 332.3L803.4 328.3M803.4 328.3L800.9 318.6M807.9 328.9L806.6 324.0M835.2 321.7L803.3 319.1M803.3 319.1L800.4 309.5M807.8 319.4L806.3 314.7M835.2 311.7L803.3 309.3M803.3 309.3L800.3 299.7M807.8 309.6L806.3 304.8M835.3 301.5L803.3 299.6M803.3 299.6L800.1 290.1M807.8 299.9L806.2 295.1M835.3 291.2L803.3 290.1M803.3 290.1L799.9 280.7M807.8 290.3L806.1 285.6M835.3 280.8L803.3 280.7M803.3 280.7L799.6 271.4M807.8 280.7L805.9 276.1M835.3 270.5L803.3 271.1M803.3 271.1L799.4 261.9M807.8 271.0L805.8 266.4M835.3 260.4L803.3 261.4M803.3 261.4L799.3 252.3M807.8 261.3L805.8 256.7M835.3 250.8L803.3 251.2M803.3 251.2L799.4 242.0M807.8 251.2L805.8 246.6M835.3 241.1L803.3 241.0M803.3 241.0L799.6 231.7M807.8 241.0L805.9 236.4M835.3 231.4L803.3 230.9M803.3 230.9L799.7 221.6M807.8 231.0L806.0 226.3M835.3 221.5L803.3 221.0M803.3 221.0L799.7 211.7M807.8 221.1L806.0 216.4M835.3 211.5L803.3 211.2M803.3 211.2L799.6 201.9M807.8 211.3L805.9 206.6M835.3 201.3L803.3 201.5M803.3 201.5L799.5 192.3M807.8 201.5L804.0 192.2M835.3 191.3L803.3 191.7M803.3 191.7L799.4 182.5M807.8 191.7L803.9 182.5M835.3 181.4L803.3 181.8M803.3 181.8L799.4 172.6M807.8 181.7L803.9 172.5M835.3 171.7L803.3 171.7M803.3 171.7L799.6 162.4M807.8 171.7L804.1 162.4M835.3 162.1L803.3 161.5M803.3 161.5L799.7 152.1M807.8 161.6L804.2 152.2M835.3 152.4L803.3 151.3M803.3 151.3L799.9 141.9M807.8 151.5L804.4 142.1M835.3 142.6L803.3 141.3M803.3 141.3L799.9 131.9M807.8 141.5L804.4 132.1M835.3 132.6L803.3 131.5M803.3 131.5L799.8 122.1M807.8 131.7L804.3 122.3M835.3 122.4L803.3 121.8M803.3 121.8L799.7 112.5M807.8 121.9L804.2 112.6M835.3 112.3L803.3 112.1M803.3 112.1L799.6 102.8M807.8 112.2L804.1 102.9M835.3 102.3L803.3 102.3M803.3 102.3L799.5 93.0M807.8 102.3L804.0 93.0M837.4 424.7L826.7 394.5M826.7 394.5L834.2 387.9M838.5 414.4L825.7 385.0M825.7 385.0L832.7 377.9M839.6 403.9L824.5 375.7M824.5 375.7L830.9 368.0M840.7 393.3L823.4 366.4M823.4 366.4L829.2 358.2M844.7 379.9L819.5 360.0M819.5 360.0L822.3 350.4M847.4 364.6L816.8 355.4M816.8 355.4L815.8 345.5M848.0 352.1L816.2 348.2M816.2 348.2L813.6 338.5M820.7 348.7L819.4 343.9M848.0 342.3L816.2 338.1M816.2 338.1L813.7 328.4M820.7 338.7L819.4 333.9M848.0 332.4L816.2 328.2M816.2 328.2L813.7 318.5M820.7 328.8L819.4 324.0M848.0 322.3L816.2 318.5M816.2 318.5L813.6 308.9M820.7 319.0L819.4 314.2M848.0 311.9L816.2 309.0M816.2 309.0L813.3 299.4M820.6 309.4L819.2 304.6M848.1 301.6L816.1 299.5M816.1 299.5L813.0 290.0M820.6 299.8L819.1 295.0M848.1 291.5L816.1 289.8M816.1 289.8L812.9 280.3M820.6 290.0L819.0 285.3M848.1 281.4L816.1 280.0M816.1 280.0L812.8 270.6M820.6 280.2L818.9 275.5M848.1 271.5L816.1 270.2M816.1 270.2L812.7 260.8M820.6 270.4L818.9 265.6M848.1 261.5L816.1 260.3M816.1 260.3L812.7 250.9M820.6 260.5L818.9 255.8M848.1 251.6L816.1 250.3M816.1 250.3L812.7 240.9M820.6 250.5L818.9 245.8M848.1 241.6L816.1 240.5M816.1 240.5L812.7 231.2M820.6 240.7L818.9 236.0M848.1 231.4L816.1 230.9M816.1 230.9L812.5 221.6M820.6 231.0L818.8 226.3M848.1 221.3L816.1 221.3M816.1 221.3L812.3 212.0M820.6 221.3L818.7 216.6M848.1 211.2L816.1 211.5M816.1 211.5L812.2 202.3M820.6 211.5L818.7 206.8M848.1 201.3L816.1 201.6M816.1 201.6L812.3 192.3M820.6 201.5L816.8 192.3M848.1 191.5L816.1 191.5M816.1 191.5L812.3 182.2M820.6 191.5L816.8 182.2M848.1 181.8L816.1 181.4M816.1 181.4L812.5 172.1M820.6 181.4L817.0 172.1M848.1 172.0L816.1 171.4M816.1 171.4L812.5 162.0M820.6 171.5L817.0 162.1M848.1 162.0L816.1 161.5M816.1 161.5L812.5 152.2M820.6 161.6L817.0 152.3M848.1 151.9L816.1 151.8M816.1 151.8L812.4 142.6M820.6 151.8L816.9 142.6M848.1 141.7L816.1 142.2M816.1 142.2L812.2 133.0M820.6 142.1L816.7 132.9M848.1 131.5L816.1 132.5M816.1 132.5L812.1 123.4M820.6 132.4L816.6 123.2M848.1 121.6L816.1 122.7M816.1 122.7L812.0 113.5M820.6 122.5L816.5 113.4M848.1 111.8L816.1 112.6M816.1 112.6L812.1 103.5M820.6 112.5L816.6 103.4M848.1 102.1L816.1 102.5M816.1 102.5L812.2 93.3M820.6 102.4L816.7 93.2M844.9 425.6L844.8 393.6M844.8 393.6L854.1 389.8M845.4 415.7L844.4 383.7M844.4 383.7L853.5 379.6M845.8 405.7L843.9 373.8M843.9 373.8L853.0 369.5M846.3 395.8L843.5 363.9M843.5 363.9L852.4 359.4M857.1 359.7L832.6 380.2M832.6 380.2L823.8 375.5M860.8 358.0L829.0 362.0M829.0 362.0L824.1 353.3M860.8 348.3L829.0 352.0M829.0 352.0L824.2 343.2M833.5 351.5L831.1 347.1M860.9 339.5L828.9 340.9M828.9 340.9L824.8 331.8M833.4 340.7L831.3 336.1M860.9 330.5L828.9 330.1M828.9 330.1L825.3 320.8M833.4 330.2L831.6 325.5M860.9 321.3L828.9 319.5M828.9 319.5L825.7 310.1M833.4 319.8L831.8 315.0M860.9 311.1L828.9 309.8M828.9 309.8L825.5 300.4M833.4 310.0L831.7 305.3M860.9 301.2L828.9 299.9M828.9 299.9L825.5 290.5M833.4 300.1L831.7 295.4M860.9 291.3L828.9 290.0M828.9 290.0L825.5 280.6M833.4 290.2L831.7 285.5M860.9 281.3L828.9 280.2M828.9 280.2L825.5 270.8M833.4 280.3L831.7 275.6M860.9 271.1L828.9 270.5M828.9 270.5L825.3 261.2M833.4 270.6L831.6 265.9M860.9 260.7L828.9 261.1M828.9 261.1L825.1 251.8M833.4 261.0L831.5 256.4M860.9 250.6L828.9 251.4M828.9 251.4L824.9 242.2M833.4 251.3L831.4 246.7M860.9 240.5L828.9 241.7M828.9 241.7L824.8 232.6M833.4 241.5L831.3 237.0M860.9 230.5L828.9 231.9M828.9 231.9L824.8 222.8M833.4 231.7L831.3 227.1M860.9 220.7L828.9 221.8M828.9 221.8L824.8 212.7M833.4 221.7L831.4 217.1M860.9 211.1L828.9 211.6M828.9 211.6L825.0 202.4M833.4 211.6L831.4 206.9M860.9 201.4L828.9 201.5M828.9 201.5L825.1 192.2M833.4 201.5L829.6 192.2M860.9 191.6L828.9 191.4M828.9 191.4L825.2 182.1M833.4 191.4L829.7 182.1M860.9 181.7L828.9 181.6M828.9 181.6L825.2 172.3M833.4 181.6L829.7 172.3M860.9 171.6L828.9 171.8M828.9 171.8L825.1 162.6M833.4 171.8L829.6 162.5M860.9 161.4L828.9 162.1M828.9 162.1L825.0 152.9M833.4 162.0L829.5 152.8M860.9 151.4L828.9 152.3M828.9 152.3L824.9 143.1M833.4 152.2L829.4 143.0M860.9 141.6L828.9 142.3M828.9 142.3L825.0 133.1M833.4 142.2L829.5 133.0M860.9 132.0L828.9 132.1M828.9 132.1L825.1 122.9M833.4 132.1L829.6 122.8M860.9 122.3L828.9 121.9M828.9 121.9L825.3 112.6M833.4 122.0L829.8 112.6M860.9 112.6L828.9 111.8M828.9 111.8L825.4 102.4M833.4 111.9L829.9 102.5M860.9 102.8L828.9 101.8M828.9 101.8L825.4 92.5M833.4 102.0L829.9 92.6M862.8 394.4L852.6 424.8M852.6 424.8L842.6 425.4M863.2 384.7L852.2 414.7M852.2 414.7L842.2 415.1M863.5 374.9L851.9 404.7M851.9 404.7L841.9 404.8M871.3 351.6L844.1 368.4M844.1 368.4L836.0 362.5M872.5 344.1L842.9 356.1M842.9 356.1L835.9 348.9M847.0 354.4L843.6 350.8M873.3 336.7L842.1 343.7M842.1 343.7L836.4 335.4M846.5 342.7L843.6 338.6M873.7 329.4L841.7 331.1M841.7 331.1L837.5 322.1M846.2 330.9L844.1 326.4M873.6 321.7L841.8 319.0M841.8 319.0L838.8 309.5M846.2 319.4L844.8 314.6M873.6 311.9L841.8 309.0M841.8 309.0L838.9 299.4M846.2 309.4L844.8 304.6M873.6 302.0L841.8 299.1M841.8 299.1L838.9 289.5M846.2 299.5L844.8 294.7M873.6 291.9L841.7 289.3M841.7 289.3L838.8 279.8M846.2 289.7L844.7 284.9M873.7 281.6L841.7 279.9M841.7 279.9L838.5 270.4M846.2 280.1L844.6 275.4M873.7 271.2L841.7 270.5M841.7 270.5L838.2 261.1M846.2 270.6L844.4 265.9M873.7 260.8L841.7 261.0M841.7 261.0L837.9 251.7M846.2 260.9L844.3 256.3M873.7 251.0L841.7 251.0M841.7 251.0L837.9 241.8M846.2 251.0L844.3 246.4M873.7 241.2L841.7 240.9M841.7 240.9L838.0 231.6M846.2 241.0L844.4 236.3M873.7 231.6L841.7 230.7M841.7 230.7L838.2 221.4M846.2 230.9L844.5 226.2M873.7 221.9L841.7 220.6M841.7 220.6L838.3 211.2M846.2 220.8L844.5 216.1M873.7 212.0L841.7 210.7M841.7 210.7L838.4 201.2M846.2 210.8L844.5 206.1M873.7 202.0L841.7 200.9M841.7 200.9L838.3 191.5M846.2 201.0L842.8 191.6M873.7 191.8L841.7 191.2M841.7 191.2L838.1 181.9M846.2 191.3L842.6 182.0M873.7 181.7L841.7 181.6M841.7 181.6L838.0 172.3M846.2 181.6L842.5 172.3M873.7 171.6L841.7 171.7M841.7 171.7L837.9 162.5M846.2 171.7L842.4 162.5M873.7 161.8L841.7 161.7M841.7 161.7L838.0 152.5M846.2 161.7L842.5 152.5M873.7 152.1L841.7 151.6M841.7 151.6L838.1 142.3M846.2 151.7L842.6 142.4M873.7 142.4L841.7 141.5M841.7 141.5L838.2 132.1M846.2 141.6L842.7 132.3M873.7 132.6L841.7 131.5M841.7 131.5L838.3 122.1M846.2 131.7L842.8 122.3M873.7 122.5L841.7 121.7M841.7 121.7L838.2 112.4M846.2 121.8L842.7 112.5M873.7 112.3L841.7 112.1M841.7 112.1L838.0 102.8M846.2 112.1L842.5 102.8M873.7 102.1L841.7 102.5M841.7 102.5L837.9 93.2M846.2 102.4L842.4 93.2M879.1 396.1L861.9 423.1M861.9 423.1L852.1 421.3M879.1 386.2L861.9 413.2M861.9 413.2L852.1 411.4M878.9 376.2L862.1 403.4M862.1 403.4L852.2 401.7M878.7 366.1L862.3 393.6M862.3 393.6L852.4 392.1M880.7 357.6L860.3 382.3M860.3 382.3L850.8 379.2M882.8 349.8L858.2 370.3M858.2 370.3L849.4 365.5M884.4 342.2L856.6 358.1M856.6 358.1L848.8 351.9M860.5 355.8L856.6 352.7M885.7 335.2L855.3 345.2M855.3 345.2L848.9 337.5M859.6 343.8L856.3 340.0M886.5 329.1L854.5 331.5M854.5 331.5L850.1 322.5M859.0 331.2L856.8 326.7M886.4 322.3L854.6 318.5M854.6 318.5L852.0 308.8M859.1 319.0L857.8 314.2M886.4 312.0L854.6 308.9M854.6 308.9L851.8 299.3M859.1 309.3L857.6 304.5M886.5 301.7L854.5 299.5M854.5 299.5L851.4 289.9M859.0 299.8L857.5 295.0M886.5 291.3L854.5 290.0M854.5 290.0L851.1 280.6M859.0 290.2L857.3 285.5M886.5 280.9L854.5 280.5M854.5 280.5L850.9 271.2M859.0 280.6L857.2 275.9M886.5 270.7L854.5 270.9M854.5 270.9L850.7 261.6M859.0 270.9L857.1 266.2M886.5 260.7L854.5 261.1M854.5 261.1L850.7 251.9M859.0 261.0L857.1 256.4M886.5 251.0L854.5 251.0M854.5 251.0L850.8 241.7M859.0 251.0L857.1 246.3M886.5 241.2L854.5 240.9M854.5 240.9L850.8 231.6M859.0 241.0L857.2 236.3M886.5 231.2L854.5 231.1M854.5 231.1L850.8 221.8M859.0 231.1L857.1 226.5M886.5 221.1L854.5 221.4M854.5 221.4L850.7 212.2M859.0 221.4L857.1 216.7M886.5 210.9L854.5 211.8M854.5 211.8L850.5 202.6M859.0 211.7L857.0 207.1M886.5 200.8L854.5 202.1M854.5 202.1L850.4 193.0M859.0 201.9L854.9 192.8M886.5 190.9L854.5 192.2M854.5 192.2L850.4 183.1M859.0 192.0L854.9 182.9M886.5 181.1L854.5 182.1M854.5 182.1L850.5 173.0M859.0 182.0L855.0 172.8M886.5 171.4L854.5 171.9M854.5 171.9L850.6 162.7M859.0 171.9L855.1 162.7M886.5 161.7L854.5 161.8M854.5 161.8L850.7 152.6M859.0 161.8L855.2 152.6M886.5 151.9L854.5 151.9M854.5 151.9L850.8 142.6M859.0 151.9L855.3 142.6M886.5 141.8L854.5 142.1M854.5 142.1L850.7 132.8M859.0 142.0L855.2 132.8M886.5 131.7L854.5 132.4M854.5 132.4L850.6 123.2M859.0 132.3L855.1 123.1M886.5 121.6L854.5 122.7M854.5 122.7L850.5 113.5M859.0 122.5L854.9 113.4M886.5 111.6L854.5 112.8M854.5 112.8L850.4 103.7M859.0 112.6L854.9 103.5M886.5 101.8L854.5 102.8M854.5 102.8L850.5 93.6M859.0 102.6L855.0 93.5" stroke="#000" stroke-width="0.75" fill="none" stroke-opacity="0.9"/><circle cx="409.6" cy="399.7" r="4.6" fill="none" stroke="#000" stroke-width="0.9"/><circle cx="409.6" cy="389.8" r="4.6" fill="none" stroke="#000" stroke-width="0.9"/><circle cx="409.6" cy="379.9" r="4.6" fill="none" stroke="#000" stroke-width="0.9"/><circle cx="422.4" cy="379.9" r="4.6" fill="none" stroke="#000" stroke-width="0.9"/><circle cx="448.0" cy="330.3" r="4.6" fill="none" stroke="#000" stroke-width="0.9"/><circle cx="460.8" cy="330.3" r="4.6" fill="none" stroke="#000" stroke-width="0.9"/><circle cx="473.6" cy="310.5" r="4.6" fill="none" stroke="#000" stroke-width="0.9"/><circle cx="857.7" cy="379.9" r="4.6" fill="none" stroke="#000" stroke-width="0.9"/><circle cx="857.7" cy="369.9" r="4.6" fill="none" stroke="#000" stroke-width="0.9"/></g>
<path d="M153.5 409.6v-10M153.5 102.3v10M166.3 409.6v-10M166.3 102.3v10M179.1 409.6v-10M179.1 102.3v10M191.9 409.6v-10M191.9 102.3v10M204.7 409.6v-10M204.7 102.3v10M217.5 409.6v-10M217.5 102.3v10M230.3 409.6v-10M230.3 102.3v10M243.1 409.6v-10M243.1 102.3v10M255.9 409.6v-10M255.9 102.3v10M268.7 409.6v-10M268.7 102.3v10M281.5 409.6v-10M281.5 102.3v10M294.3 409.6v-10M294.3 102.3v10M307.1 409.6v-10M307.1 102.3v10M319.9 409.6v-10M319.9 102.3v10M332.7 409.6v-10M332.7 102.3v10M345.5 409.6v-10M345.5 102.3v10M358.3 409.6v-10M358.3 102.3v10M371.1 409.6v-10M371.1 102.3v10M383.9 409.6v-10M383.9 102.3v10M396.7 409.6v-10M396.7 102.3v10M409.5 409.6v-10M409.5 102.3v10M422.3 409.6v-10M422.3 102.3v10M435.1 409.6v-10M435.1 102.3v10M447.9 409.6v-10M447.9 102.3v10M460.7 409.6v-10M460.7 102.3v10M473.5 409.6v-10M473.5 102.3v10M486.3 409.6v-10M486.3 102.3v10M499.1 409.6v-10M499.1 102.3v10M511.9 409.6v-10M511.9 102.3v10M524.7 409.6v-10M524.7 102.3v10M537.5 409.6v-10M537.5 102.3v10M550.3 409.6v-10M550.3 102.3v10M563.1 409.6v-10M563.1 102.3v10M575.9 409.6v-10M575.9 102.3v10M588.7 409.6v-10M588.7 102.3v10M601.5 409.6v-10M601.5 102.3v10M614.3 409.6v-10M614.3 102.3v10M627.1 409.6v-10M627.1 102.3v10M639.9 409.6v-10M639.9 102.3v10M652.7 409.6v-10M652.7 102.3v10M665.5 409.6v-10M665.5 102.3v10M678.3 409.6v-10M678.3 102.3v10M691.1 409.6v-10M691.1 102.3v10M703.9 409.6v-10M703.9 102.3v10M716.7 409.6v-10M716.7 102.3v10M729.5 409.6v-10M729.5 102.3v10M742.3 409.6v-10M742.3 102.3v10M755.1 409.6v-10M755.1 102.3v10M767.9 409.6v-10M767.9 102.3v10M780.7 409.6v-10M780.7 102.3v10M793.5 409.6v-10M793.5 102.3v10M806.3 409.6v-10M806.3 102.3v10M819.1 409.6v-10M819.1 102.3v10M831.9 409.6v-10M831.9 102.3v10M844.7 409.6v-10M844.7 102.3v10M857.5 409.6v-10M857.5 102.3v10M870.3 409.6v-10M870.3 102.3v10M153.5 409.6h24M870.5 409.6h-24M153.5 360.0h24M870.5 360.0h-24M153.5 310.5h24M870.5 310.5h-24M153.5 260.9h24M870.5 260.9h-24M153.5 211.3h24M870.5 211.3h-24M153.5 161.8h24M870.5 161.8h-24M153.5 112.2h24M870.5 112.2h-24" stroke="#000" stroke-width="1.1" fill="none"/>
<rect x="153.5" y="102.3" width="717.0" height="307.3" fill="none" stroke="#000" stroke-width="1.4"/>
<text x="143.4" y="414.2" font-family="Liberation Sans, sans-serif" font-size="13" text-anchor="end">0</text>
<text x="143.4" y="364.6" font-family="Liberation Sans, sans-serif" font-size="13" text-anchor="end">5</text>
<text x="143.4" y="315.1" font-family="Liberation Sans, sans-serif" font-size="13" text-anchor="end">10</text>
<text x="143.4" y="265.5" font-family="Liberation Sans, sans-serif" font-size="13" text-anchor="end">15</text>
<text x="143.4" y="215.9" font-family="Liberation Sans, sans-serif" font-size="13" text-anchor="end">20</text>
<text x="143.4" y="166.4" font-family="Liberation Sans, sans-serif" font-size="13" text-anchor="end">25</text>
<text x="143.4" y="116.8" font-family="Liberation Sans, sans-serif" font-size="13" text-anchor="end">30</text>
<text x="153.5" y="437.4" font-family="Liberation Sans, sans-serif" font-size="12.4" text-anchor="middle" transform="rotate(-45 153.5 433.2)">31.00</text>
<text x="204.7" y="437.4" font-family="Liberation Sans, sans-serif" font-size="12.4" text-anchor="middle" transform="rotate(-45 204.7 433.2)">31.12</text>
<text x="255.9" y="437.4" font-family="Liberation Sans, sans-serif" font-size="12.4" text-anchor="middle" transform="rotate(-45 255.9 433.2)">01.00</text>
<text x="307.1" y="437.4" font-family="Liberation Sans, sans-serif" font-size="12.4" text-anchor="middle" transform="rotate(-45 307.1 433.2)">01.12</text>
<text x="358.4" y="437.4" font-family="Liberation Sans, sans-serif" font-size="12.4" text-anchor="middle" transform="rotate(-45 358.4 433.2)">02.00</text>
<text x="409.6" y="437.4" font-family="Liberation Sans, sans-serif" font-size="12.4" text-anchor="middle" transform="rotate(-45 409.6 433.2)">02.12</text>
<text x="460.8" y="437.4" font-family="Liberation Sans, sans-serif" font-size="12.4" text-anchor="middle" transform="rotate(-45 460.8 433.2)">03.00</text>
<text x="512.0" y="437.4" font-family="Liberation Sans, sans-serif" font-size="12.4" text-anchor="middle" transform="rotate(-45 512.0 433.2)">03.12</text>
<text x="563.2" y="437.4" font-family="Liberation Sans, sans-serif" font-size="12.4" text-anchor="middle" transform="rotate(-45 563.2 433.2)">04.00</text>
<text x="614.4" y="437.4" font-family="Liberation Sans, sans-serif" font-size="12.4" text-anchor="middle" transform="rotate(-45 614.4 433.2)">04.12</text>
<text x="665.6" y="437.4" font-family="Liberation Sans, sans-serif" font-size="12.4" text-anchor="middle" transform="rotate(-45 665.6 433.2)">05.00</text>
<text x="716.9" y="437.4" font-family="Liberation Sans, sans-serif" font-size="12.4" text-anchor="middle" transform="rotate(-45 716.9 433.2)">05.12</text>
<text x="768.1" y="437.4" font-family="Liberation Sans, sans-serif" font-size="12.4" text-anchor="middle" transform="rotate(-45 768.1 433.2)">06.00</text>
<text x="819.3" y="437.4" font-family="Liberation Sans, sans-serif" font-size="12.4" text-anchor="middle" transform="rotate(-45 819.3 433.2)">06.12</text>
<text x="870.5" y="437.4" font-family="Liberation Sans, sans-serif" font-size="12.4" text-anchor="middle" transform="rotate(-45 870.5 433.2)">07.00</text>
<rect x="935.0" y="113.00" width="19.3" height="3.27" fill="#f09ca4"/>
<rect x="935.0" y="115.97" width="19.3" height="3.27" fill="#e7828a"/>
<rect x="935.0" y="118.94" width="19.3" height="3.27" fill="#de6a73"/>
<rect x="935.0" y="121.92" width="19.3" height="3.27" fill="#d75460"/>
<rect x="935.0" y="124.89" width="19.3" height="3.27" fill="#cf3d4d"/>
<rect x="935.0" y="127.86" width="19.3" height="3.27" fill="#c52232"/>
<rect x="935.0" y="130.83" width="19.3" height="3.27" fill="#bb0717"/>
<rect x="935.0" y="133.80" width="19.3" height="3.27" fill="#be000e"/>
<rect x="935.0" y="136.78" width="19.3" height="3.27" fill="#c5000b"/>
<rect x="935.0" y="139.75" width="19.3" height="3.27" fill="#cd0008"/>
<rect x="935.0" y="142.72" width="19.3" height="3.27" fill="#d40005"/>
<rect x="935.0" y="145.69" width="19.3" height="3.27" fill="#dc0002"/>
<rect x="935.0" y="148.66" width="19.3" height="3.27" fill="#e40000"/>
<rect x="935.0" y="151.63" width="19.3" height="3.27" fill="#ee0000"/>
<rect x="935.0" y="154.61" width="19.3" height="3.27" fill="#f80000"/>
<rect x="935.0" y="157.58" width="19.3" height="3.27" fill="#ff0100"/>
<rect x="935.0" y="160.55" width="19.3" height="3.27" fill="#ff0700"/>
<rect x="935.0" y="163.52" width="19.3" height="3.27" fill="#ff0d00"/>
<rect x="935.0" y="166.49" width="19.3" height="3.27" fill="#ff1800"/>
<rect x="935.0" y="169.47" width="19.3" height="3.27" fill="#ff2900"/>
<rect x="935.0" y="172.44" width="19.3" height="3.27" fill="#ff3900"/>
<rect x="935.0" y="175.41" width="19.3" height="3.27" fill="#ff4800"/>
<rect x="935.0" y="178.38" width="19.3" height="3.27" fill="#ff5500"/>
<rect x="935.0" y="181.35" width="19.3" height="3.27" fill="#ff5f00"/>
<rect x="935.0" y="184.32" width="19.3" height="3.27" fill="#ff6600"/>
<rect x="935.0" y="187.30" width="19.3" height="3.27" fill="#ff6d00"/>
<rect x="935.0" y="190.27" width="19.3" height="3.27" fill="#ff7300"/>
<rect x="935.0" y="193.24" width="19.3" height="3.27" fill="#ff7700"/>
<rect x="935.0" y="196.21" width="19.3" height="3.27" fill="#ff7c00"/>
<rect x="935.0" y="199.18" width="19.3" height="3.27" fill="#ff8100"/>
<rect x="935.0" y="202.16" width="19.3" height="3.27" fill="#ff8600"/>
<rect x="935.0" y="205.13" width="19.3" height="3.27" fill="#ff8c00"/>
<rect x="935.0" y="208.10" width="19.3" height="3.27" fill="#ff9100"/>
<rect x="935.0" y="211.07" width="19.3" height="3.27" fill="#ff9600"/>
<rect x="935.0" y="214.04" width="19.3" height="3.27" fill="#ff9b00"/>
<rect x="935.0" y="217.02" width="19.3" height="3.27" fill="#ffa300"/>
<rect x="935.0" y="219.99" width="19.3" height="3.27" fill="#ffac00"/>
<rect x="935.0" y="222.96" width="19.3" height="3.27" fill="#ffb503"/>
<rect x="935.0" y="225.93" width="19.3" height="3.27" fill="#ffbe09"/>
<rect x="935.0" y="228.90" width="19.3" height="3.27" fill="#ffc70f"/>
<rect x="935.0" y="231.88" width="19.3" height="3.27" fill="#ffcf1b"/>
<rect x="935.0" y="234.85" width="19.3" height="3.27" fill="#ffd829"/>
<rect x="935.0" y="237.82" width="19.3" height="3.27" fill="#ffdf3c"/>
<rect x="935.0" y="240.79" width="19.3" height="3.27" fill="#ffe655"/>
<rect x="935.0" y="243.76" width="19.3" height="3.27" fill="#ffed6e"/>
<rect x="935.0" y="246.73" width="19.3" height="3.27" fill="#fff187"/>
<rect x="935.0" y="249.71" width="19.3" height="3.27" fill="#fff5a1"/>
<rect x="935.0" y="252.68" width="19.3" height="3.27" fill="#fff8b4"/>
<rect x="935.0" y="255.65" width="19.3" height="3.27" fill="#fffac5"/>
<rect x="935.0" y="258.62" width="19.3" height="3.27" fill="#c3e2f1"/>
<rect x="935.0" y="261.59" width="19.3" height="3.27" fill="#b7ddf1"/>
<rect x="935.0" y="264.57" width="19.3" height="3.27" fill="#aed9f0"/>
<rect x="935.0" y="267.54" width="19.3" height="3.27" fill="#a8d7f0"/>
<rect x="935.0" y="270.51" width="19.3" height="3.27" fill="#a1d5ef"/>
<rect x="935.0" y="273.48" width="19.3" height="3.27" fill="#9bd2ef"/>
<rect x="935.0" y="276.45" width="19.3" height="3.27" fill="#95d0ef"/>
<rect x="935.0" y="279.43" width="19.3" height="3.27" fill="#8fceef"/>
<rect x="935.0" y="282.40" width="19.3" height="3.27" fill="#89cbee"/>
<rect x="935.0" y="285.37" width="19.3" height="3.27" fill="#83c9ee"/>
<rect x="935.0" y="288.34" width="19.3" height="3.27" fill="#74c6ef"/>
<rect x="935.0" y="291.31" width="19.3" height="3.27" fill="#60c2f2"/>
<rect x="935.0" y="294.28" width="19.3" height="3.27" fill="#4cbef5"/>
<rect x="935.0" y="297.26" width="19.3" height="3.27" fill="#38baf7"/>
<rect x="935.0" y="300.23" width="19.3" height="3.27" fill="#22b8fa"/>
<rect x="935.0" y="303.20" width="19.3" height="3.27" fill="#0ab8fd"/>
<rect x="935.0" y="306.17" width="19.3" height="3.27" fill="#00b4ff"/>
<rect x="935.0" y="309.14" width="19.3" height="3.27" fill="#00adff"/>
<rect x="935.0" y="312.12" width="19.3" height="3.27" fill="#00a6ff"/>
<rect x="935.0" y="315.09" width="19.3" height="3.27" fill="#019fff"/>
<rect x="935.0" y="318.06" width="19.3" height="3.27" fill="#099afd"/>
<rect x="935.0" y="321.03" width="19.3" height="3.27" fill="#1096fa"/>
<rect x="935.0" y="324.00" width="19.3" height="3.27" fill="#1791f8"/>
<rect x="935.0" y="326.98" width="19.3" height="3.27" fill="#1b8cf7"/>
<rect x="935.0" y="329.95" width="19.3" height="3.27" fill="#1e87f5"/>
<rect x="935.0" y="332.92" width="19.3" height="3.27" fill="#2183f4"/>
<rect x="935.0" y="335.89" width="19.3" height="3.27" fill="#247ef2"/>
<rect x="935.0" y="338.86" width="19.3" height="3.27" fill="#2779f0"/>
<rect x="935.0" y="341.83" width="19.3" height="3.27" fill="#2a72ec"/>
<rect x="935.0" y="344.81" width="19.3" height="3.27" fill="#2d6ae7"/>
<rect x="935.0" y="347.78" width="19.3" height="3.27" fill="#2f62e1"/>
<rect x="935.0" y="350.75" width="19.3" height="3.27" fill="#305be2"/>
<rect x="935.0" y="353.72" width="19.3" height="3.27" fill="#3054e4"/>
<rect x="935.0" y="356.69" width="19.3" height="3.27" fill="#304ce7"/>
<rect x="935.0" y="359.67" width="19.3" height="3.27" fill="#2e43ea"/>
<rect x="935.0" y="362.64" width="19.3" height="3.27" fill="#2736ee"/>
<rect x="935.0" y="365.61" width="19.3" height="3.27" fill="#2029f2"/>
<rect x="935.0" y="368.58" width="19.3" height="3.27" fill="#1a1cf7"/>
<rect x="935.0" y="371.55" width="19.3" height="3.27" fill="#1111f8"/>
<rect x="935.0" y="374.53" width="19.3" height="3.27" fill="#0707f8"/>
<rect x="935.0" y="377.50" width="19.3" height="3.27" fill="#0601f7"/>
<rect x="935.0" y="380.47" width="19.3" height="3.27" fill="#1804f4"/>
<rect x="935.0" y="383.44" width="19.3" height="3.27" fill="#2a07f1"/>
<rect x="935.0" y="386.41" width="19.3" height="3.27" fill="#3d0ded"/>
<rect x="935.0" y="389.38" width="19.3" height="3.27" fill="#5015ea"/>
<rect x="935.0" y="392.36" width="19.3" height="3.27" fill="#621de6"/>
<rect x="935.0" y="395.33" width="19.3" height="3.27" fill="#7425e2"/>
<text x="973.5" y="122.4" font-family="Liberation Sans, sans-serif" font-size="15.5">35</text>
<text x="973.5" y="143.0" font-family="Liberation Sans, sans-serif" font-size="15.5">28</text>
<text x="973.5" y="163.5" font-family="Liberation Sans, sans-serif" font-size="15.5">21</text>
<text x="973.5" y="184.1" font-family="Liberation Sans, sans-serif" font-size="15.5">14</text>
<text x="973.5" y="204.6" font-family="Liberation Sans, sans-serif" font-size="15.5">7</text>
<text x="973.5" y="225.2" font-family="Liberation Sans, sans-serif" font-size="15.5">0</text>
<text x="973.5" y="245.7" font-family="Liberation Sans, sans-serif" font-size="15.5">-7</text>
<text x="973.5" y="266.2" font-family="Liberation Sans, sans-serif" font-size="15.5">-14</text>
<text x="973.5" y="286.8" font-family="Liberation Sans, sans-serif" font-size="15.5">-21</text>
<text x="973.5" y="307.4" font-family="Liberation Sans, sans-serif" font-size="15.5">-28</text>
<text x="973.5" y="327.9" font-family="Liberation Sans, sans-serif" font-size="15.5">-35</text>
<text x="973.5" y="348.5" font-family="Liberation Sans, sans-serif" font-size="15.5">-42</text>
<text x="973.5" y="369.0" font-family="Liberation Sans, sans-serif" font-size="15.5">-49</text>
<text x="973.5" y="389.6" font-family="Liberation Sans, sans-serif" font-size="15.5">-56</text>
<path d="M165.30 460.4V562.6M177.25 460.4V562.6M189.19 460.4V562.6M201.14 460.4V562.6M213.08 460.4V562.6M225.03 460.4V562.6M236.97 460.4V562.6M248.92 460.4V562.6M260.86 460.4V562.6M272.81 460.4V562.6M284.75 460.4V562.6M296.70 460.4V562.6M308.64 460.4V562.6M320.59 460.4V562.6M332.53 460.4V562.6M344.48 460.4V562.6M356.42 460.4V562.6M368.37 460.4V562.6M380.31 460.4V562.6M392.25 460.4V562.6M404.20 460.4V562.6M416.14 460.4V562.6M428.09 460.4V562.6M440.04 460.4V562.6M451.98 460.4V562.6M463.93 460.4V562.6M475.87 460.4V562.6M487.81 460.4V562.6M499.76 460.4V562.6M511.71 460.4V562.6M523.65 460.4V562.6M535.60 460.4V562.6M547.54 460.4V562.6M559.49 460.4V562.6M571.43 460.4V562.6M583.38 460.4V562.6M595.32 460.4V562.6M607.27 460.4V562.6M619.21 460.4V562.6M631.15 460.4V562.6M643.10 460.4V562.6M655.05 460.4V562.6M666.99 460.4V562.6M678.93 460.4V562.6M690.88 460.4V562.6M702.83 460.4V562.6M714.77 460.4V562.6M726.71 460.4V562.6M738.66 460.4V562.6M750.61 460.4V562.6M762.55 460.4V562.6M774.50 460.4V562.6M786.44 460.4V562.6M798.38 460.4V562.6M810.33 460.4V562.6M822.28 460.4V562.6M834.22 460.4V562.6" stroke="#000" stroke-opacity="0.75" stroke-width="0.9" stroke-dasharray="3.4 6.15" stroke-dashoffset="4.90" fill="none"/>
<path d="M153.5 548.00H870.5M153.5 533.40H870.5M153.5 518.80H870.5M153.5 504.20H870.5M153.5 489.60H870.5M153.5 475.00H870.5" stroke="#000" stroke-opacity="0.75" stroke-width="0.9" stroke-dasharray="3.5 6.0" fill="none"/>
<polyline points="165.30,490.40 177.25,486.70 189.19,488.70 201.14,492.10 213.08,493.30 225.03,492.40 236.97,493.60 248.92,493.80 260.86,488.00 272.81,480.10 284.75,475.30 296.70,472.60 308.64,469.60 320.59,467.70 332.53,470.10 344.48,472.80 356.42,475.80 368.37,477.50 380.31,479.40 392.25,483.30 404.20,484.30 416.14,482.60 428.09,480.90 440.04,482.30 451.98,477.20 463.93,477.20 475.87,478.40 487.81,482.60 499.76,486.70 511.71,491.60 523.65,500.90 535.60,508.20 547.54,514.10 559.49,517.70 571.43,525.80 583.38,533.90 595.32,538.70 607.27,542.40 619.21,548.30 631.15,551.20 643.10,550.70 655.05,543.40 666.99,533.90 678.93,527.30 690.88,522.60 702.83,514.30 714.77,512.40 726.71,510.40 738.66,506.50 750.61,502.60 762.55,500.70 774.50,498.70 786.44,496.70 798.38,493.30 810.33,493.80 822.28,495.50 834.22,494.30" fill="none" stroke="#1a1aff" stroke-width="1.2" stroke-linejoin="round"/>
<path d="M153.5 562.60h-13.9M870.5 562.60h13.9M153.5 558.95h-6.8M870.5 558.95h6.8M153.5 555.30h-6.8M870.5 555.30h6.8M153.5 551.65h-6.8M870.5 551.65h6.8M153.5 548.00h-13.9M870.5 548.00h13.9M153.5 544.35h-6.8M870.5 544.35h6.8M153.5 540.70h-6.8M870.5 540.70h6.8M153.5 537.05h-6.8M870.5 537.05h6.8M153.5 533.40h-13.9M870.5 533.40h13.9M153.5 529.75h-6.8M870.5 529.75h6.8M153.5 526.10h-6.8M870.5 526.10h6.8M153.5 522.45h-6.8M870.5 522.45h6.8M153.5 518.80h-13.9M870.5 518.80h13.9M153.5 515.15h-6.8M870.5 515.15h6.8M153.5 511.50h-6.8M870.5 511.50h6.8M153.5 507.85h-6.8M870.5 507.85h6.8M153.5 504.20h-13.9M870.5 504.20h13.9M153.5 500.55h-6.8M870.5 500.55h6.8M153.5 496.90h-6.8M870.5 496.90h6.8M153.5 493.25h-6.8M870.5 493.25h6.8M153.5 489.60h-13.9M870.5 489.60h13.9M153.5 485.95h-6.8M870.5 485.95h6.8M153.5 482.30h-6.8M870.5 482.30h6.8M153.5 478.65h-6.8M870.5 478.65h6.8M153.5 475.00h-13.9M870.5 475.00h13.9M153.5 471.35h-6.8M870.5 471.35h6.8M153.5 467.70h-6.8M870.5 467.70h6.8M153.5 464.05h-6.8M870.5 464.05h6.8M153.5 460.40h-13.9M870.5 460.40h13.9M165.30 562.6V576.6M177.25 562.6V576.6M189.19 562.6V576.6M201.14 562.6V576.6M213.08 562.6V576.6M225.03 562.6V576.6M236.97 562.6V576.6M248.92 562.6V576.6M260.86 562.6V576.6M272.81 562.6V576.6M284.75 562.6V576.6M296.70 562.6V576.6M308.64 562.6V576.6M320.59 562.6V576.6M332.53 562.6V576.6M344.48 562.6V576.6M356.42 562.6V576.6M368.37 562.6V576.6M380.31 562.6V576.6M392.25 562.6V576.6M404.20 562.6V576.6M416.14 562.6V576.6M428.09 562.6V576.6M440.04 562.6V576.6M451.98 562.6V576.6M463.93 562.6V576.6M475.87 562.6V576.6M487.81 562.6V576.6M499.76 562.6V576.6M511.71 562.6V576.6M523.65 562.6V576.6M535.60 562.6V576.6M547.54 562.6V576.6M559.49 562.6V576.6M571.43 562.6V576.6M583.38 562.6V576.6M595.32 562.6V576.6M607.27 562.6V576.6M619.21 562.6V576.6M631.15 562.6V576.6M643.10 562.6V576.6M655.05 562.6V576.6M666.99 562.6V576.6M678.93 562.6V576.6M690.88 562.6V576.6M702.83 562.6V576.6M714.77 562.6V576.6M726.71 562.6V576.6M738.66 562.6V576.6M750.61 562.6V576.6M762.55 562.6V576.6M774.50 562.6V576.6M786.44 562.6V576.6M798.38 562.6V576.6M810.33 562.6V576.6M822.28 562.6V576.6M834.22 562.6V576.6" stroke="#000" stroke-width="1" fill="none"/>
<rect x="153.5" y="460.4" width="717.0" height="102.2" fill="none" stroke="#000" stroke-width="1.3"/>
<text x="133.6" y="566.2" font-family="Liberation Sans, sans-serif" font-size="8.5" text-anchor="end">996</text>
<text x="133.6" y="551.6" font-family="Liberation Sans, sans-serif" font-size="8.5" text-anchor="end">1000</text>
<text x="133.6" y="537.0" font-family="Liberation Sans, sans-serif" font-size="8.5" text-anchor="end">1004</text>
<text x="133.6" y="522.4" font-family="Liberation Sans, sans-serif" font-size="8.5" text-anchor="end">1008</text>
<text x="133.6" y="507.8" font-family="Liberation Sans, sans-serif" font-size="8.5" text-anchor="end">1012</text>
<text x="133.6" y="493.2" font-family="Liberation Sans, sans-serif" font-size="8.5" text-anchor="end">1016</text>
<text x="133.6" y="478.6" font-family="Liberation Sans, sans-serif" font-size="8.5" text-anchor="end">1020</text>
<text x="133.6" y="464.0" font-family="Liberation Sans, sans-serif" font-size="8.5" text-anchor="end">1024</text>
<text x="168.9" y="593.6" font-family="Liberation Sans, sans-serif" font-size="12.1" text-anchor="middle" transform="rotate(-45 168.9 589.4)">31.00</text>
<text x="216.7" y="593.6" font-family="Liberation Sans, sans-serif" font-size="12.1" text-anchor="middle" transform="rotate(-45 216.7 589.4)">31.12</text>
<text x="264.5" y="593.6" font-family="Liberation Sans, sans-serif" font-size="12.1" text-anchor="middle" transform="rotate(-45 264.5 589.4)">01.00</text>
<text x="312.2" y="593.6" font-family="Liberation Sans, sans-serif" font-size="12.1" text-anchor="middle" transform="rotate(-45 312.2 589.4)">01.12</text>
<text x="360.0" y="593.6" font-family="Liberation Sans, sans-serif" font-size="12.1" text-anchor="middle" transform="rotate(-45 360.0 589.4)">02.00</text>
<text x="407.8" y="593.6" font-family="Liberation Sans, sans-serif" font-size="12.1" text-anchor="middle" transform="rotate(-45 407.8 589.4)">02.12</text>
<text x="455.6" y="593.6" font-family="Liberation Sans, sans-serif" font-size="12.1" text-anchor="middle" transform="rotate(-45 455.6 589.4)">03.00</text>
<text x="503.4" y="593.6" font-family="Liberation Sans, sans-serif" font-size="12.1" text-anchor="middle" transform="rotate(-45 503.4 589.4)">03.12</text>
<text x="551.1" y="593.6" font-family="Liberation Sans, sans-serif" font-size="12.1" text-anchor="middle" transform="rotate(-45 551.1 589.4)">04.00</text>
<text x="598.9" y="593.6" font-family="Liberation Sans, sans-serif" font-size="12.1" text-anchor="middle" transform="rotate(-45 598.9 589.4)">04.12</text>
<text x="646.7" y="593.6" font-family="Liberation Sans, sans-serif" font-size="12.1" text-anchor="middle" transform="rotate(-45 646.7 589.4)">05.00</text>
<text x="694.5" y="593.6" font-family="Liberation Sans, sans-serif" font-size="12.1" text-anchor="middle" transform="rotate(-45 694.5 589.4)">05.12</text>
<text x="742.3" y="593.6" font-family="Liberation Sans, sans-serif" font-size="12.1" text-anchor="middle" transform="rotate(-45 742.3 589.4)">06.00</text>
<text x="790.0" y="593.6" font-family="Liberation Sans, sans-serif" font-size="12.1" text-anchor="middle" transform="rotate(-45 790.0 589.4)">06.12</text>
<text x="837.8" y="593.6" font-family="Liberation Sans, sans-serif" font-size="12.1" text-anchor="middle" transform="rotate(-45 837.8 589.4)">07.00</text>
<text x="89.8" y="511.9" font-family="Liberation Sans, sans-serif" font-size="25" text-anchor="middle" transform="rotate(-90 89.8 511.9)" dy="9" textLength="64.8" lengthAdjust="spacingAndGlyphs">PMSL</text>
<path d="M165.30 614.3V716.6M177.25 614.3V716.6M189.19 614.3V716.6M201.14 614.3V716.6M213.08 614.3V716.6M225.03 614.3V716.6M236.97 614.3V716.6M248.92 614.3V716.6M260.86 614.3V716.6M272.81 614.3V716.6M284.75 614.3V716.6M296.70 614.3V716.6M308.64 614.3V716.6M320.59 614.3V716.6M332.53 614.3V716.6M344.48 614.3V716.6M356.42 614.3V716.6M368.37 614.3V716.6M380.31 614.3V716.6M392.25 614.3V716.6M404.20 614.3V716.6M416.14 614.3V716.6M428.09 614.3V716.6M440.04 614.3V716.6M451.98 614.3V716.6M463.93 614.3V716.6M475.87 614.3V716.6M487.81 614.3V716.6M499.76 614.3V716.6M511.71 614.3V716.6M523.65 614.3V716.6M535.60 614.3V716.6M547.54 614.3V716.6M559.49 614.3V716.6M571.43 614.3V716.6M583.38 614.3V716.6M595.32 614.3V716.6M607.27 614.3V716.6M619.21 614.3V716.6M631.15 614.3V716.6M643.10 614.3V716.6M655.05 614.3V716.6M666.99 614.3V716.6M678.93 614.3V716.6M690.88 614.3V716.6M702.83 614.3V716.6M714.77 614.3V716.6M726.71 614.3V716.6M738.66 614.3V716.6M750.61 614.3V716.6M762.55 614.3V716.6M774.50 614.3V716.6M786.44 614.3V716.6M798.38 614.3V716.6M810.33 614.3V716.6M822.28 614.3V716.6M834.22 614.3V716.6" stroke="#000" stroke-opacity="0.75" stroke-width="0.9" stroke-dasharray="3.4 6.15" stroke-dashoffset="5.60" fill="none"/>
<path d="M153.5 701.99H870.5M153.5 687.37H870.5M153.5 672.76H870.5M153.5 658.14H870.5M153.5 643.53H870.5M153.5 628.91H870.5" stroke="#000" stroke-opacity="0.75" stroke-width="0.9" stroke-dasharray="3.5 6.0" fill="none"/>
<polyline points="165.30,708.10 177.25,697.40 189.19,672.70 201.14,652.20 213.08,653.20 225.03,682.70 236.97,688.60 248.92,694.40 260.86,697.60 272.81,693.90 284.75,688.60 296.70,683.40 308.64,686.40 320.59,693.40 332.53,698.10 344.48,707.10 356.42,707.10 368.37,706.40 380.31,681.20 392.25,653.70 404.20,647.30 416.14,670.30 428.09,684.90 440.04,690.80 451.98,691.30 463.93,675.10 475.87,652.00 487.81,640.50 499.76,646.60 511.71,674.70 523.65,680.50 535.60,686.60 547.54,692.50 559.49,671.00 571.43,632.40 583.38,619.70 595.32,624.60 607.27,644.60 619.21,651.50 631.15,663.90 643.10,659.30 655.05,663.40 666.99,649.00 678.93,643.90 690.88,636.60 702.83,658.30 714.77,672.50 726.71,680.00 738.66,683.20 750.61,662.20 762.55,641.70 774.50,643.40 786.44,643.40 798.38,661.00 810.33,669.80 822.28,674.40 834.22,672.20" fill="none" stroke="#ff1a1a" stroke-width="1.2" stroke-linejoin="round"/>
<path d="M153.5 716.60h-13.9M870.5 716.60h13.9M153.5 711.73h-6.8M870.5 711.73h6.8M153.5 706.86h-6.8M870.5 706.86h6.8M153.5 701.99h-13.9M870.5 701.99h13.9M153.5 697.11h-6.8M870.5 697.11h6.8M153.5 692.24h-6.8M870.5 692.24h6.8M153.5 687.37h-13.9M870.5 687.37h13.9M153.5 682.50h-6.8M870.5 682.50h6.8M153.5 677.63h-6.8M870.5 677.63h6.8M153.5 672.76h-13.9M870.5 672.76h13.9M153.5 667.89h-6.8M870.5 667.89h6.8M153.5 663.01h-6.8M870.5 663.01h6.8M153.5 658.14h-13.9M870.5 658.14h13.9M153.5 653.27h-6.8M870.5 653.27h6.8M153.5 648.40h-6.8M870.5 648.40h6.8M153.5 643.53h-13.9M870.5 643.53h13.9M153.5 638.66h-6.8M870.5 638.66h6.8M153.5 633.79h-6.8M870.5 633.79h6.8M153.5 628.91h-13.9M870.5 628.91h13.9M153.5 624.04h-6.8M870.5 624.04h6.8M153.5 619.17h-6.8M870.5 619.17h6.8M153.5 614.30h-13.9M870.5 614.30h13.9M165.30 716.6V730.6M177.25 716.6V730.6M189.19 716.6V730.6M201.14 716.6V730.6M213.08 716.6V730.6M225.03 716.6V730.6M236.97 716.6V730.6M248.92 716.6V730.6M260.86 716.6V730.6M272.81 716.6V730.6M284.75 716.6V730.6M296.70 716.6V730.6M308.64 716.6V730.6M320.59 716.6V730.6M332.53 716.6V730.6M344.48 716.6V730.6M356.42 716.6V730.6M368.37 716.6V730.6M380.31 716.6V730.6M392.25 716.6V730.6M404.20 716.6V730.6M416.14 716.6V730.6M428.09 716.6V730.6M440.04 716.6V730.6M451.98 716.6V730.6M463.93 716.6V730.6M475.87 716.6V730.6M487.81 716.6V730.6M499.76 716.6V730.6M511.71 716.6V730.6M523.65 716.6V730.6M535.60 716.6V730.6M547.54 716.6V730.6M559.49 716.6V730.6M571.43 716.6V730.6M583.38 716.6V730.6M595.32 716.6V730.6M607.27 716.6V730.6M619.21 716.6V730.6M631.15 716.6V730.6M643.10 716.6V730.6M655.05 716.6V730.6M666.99 716.6V730.6M678.93 716.6V730.6M690.88 716.6V730.6M702.83 716.6V730.6M714.77 716.6V730.6M726.71 716.6V730.6M738.66 716.6V730.6M750.61 716.6V730.6M762.55 716.6V730.6M774.50 716.6V730.6M786.44 716.6V730.6M798.38 716.6V730.6M810.33 716.6V730.6M822.28 716.6V730.6M834.22 716.6V730.6" stroke="#000" stroke-width="1" fill="none"/>
<rect x="153.5" y="614.3" width="717.0" height="102.3" fill="none" stroke="#000" stroke-width="1.3"/>
<text x="133.6" y="720.1" font-family="Liberation Sans, sans-serif" font-size="8.5" text-anchor="end">-3</text>
<text x="133.6" y="705.5" font-family="Liberation Sans, sans-serif" font-size="8.5" text-anchor="end">0</text>
<text x="133.6" y="690.9" font-family="Liberation Sans, sans-serif" font-size="8.5" text-anchor="end">3</text>
<text x="133.6" y="676.3" font-family="Liberation Sans, sans-serif" font-size="8.5" text-anchor="end">6</text>
<text x="133.6" y="661.6" font-family="Liberation Sans, sans-serif" font-size="8.5" text-anchor="end">9</text>
<text x="133.6" y="647.0" font-family="Liberation Sans, sans-serif" font-size="8.5" text-anchor="end">12</text>
<text x="133.6" y="632.4" font-family="Liberation Sans, sans-serif" font-size="8.5" text-anchor="end">15</text>
<text x="133.6" y="617.8" font-family="Liberation Sans, sans-serif" font-size="8.5" text-anchor="end">18</text>
<text x="168.9" y="747.2" font-family="Liberation Sans, sans-serif" font-size="12.1" text-anchor="middle" transform="rotate(-45 168.9 743.0)">31.00</text>
<text x="216.7" y="747.2" font-family="Liberation Sans, sans-serif" font-size="12.1" text-anchor="middle" transform="rotate(-45 216.7 743.0)">31.12</text>
<text x="264.5" y="747.2" font-family="Liberation Sans, sans-serif" font-size="12.1" text-anchor="middle" transform="rotate(-45 264.5 743.0)">01.00</text>
<text x="312.2" y="747.2" font-family="Liberation Sans, sans-serif" font-size="12.1" text-anchor="middle" transform="rotate(-45 312.2 743.0)">01.12</text>
<text x="360.0" y="747.2" font-family="Liberation Sans, sans-serif" font-size="12.1" text-anchor="middle" transform="rotate(-45 360.0 743.0)">02.00</text>
<text x="407.8" y="747.2" font-family="Liberation Sans, sans-serif" font-size="12.1" text-anchor="middle" transform="rotate(-45 407.8 743.0)">02.12</text>
<text x="455.6" y="747.2" font-family="Liberation Sans, sans-serif" font-size="12.1" text-anchor="middle" transform="rotate(-45 455.6 743.0)">03.00</text>
<text x="503.4" y="747.2" font-family="Liberation Sans, sans-serif" font-size="12.1" text-anchor="middle" transform="rotate(-45 503.4 743.0)">03.12</text>
<text x="551.1" y="747.2" font-family="Liberation Sans, sans-serif" font-size="12.1" text-anchor="middle" transform="rotate(-45 551.1 743.0)">04.00</text>
<text x="598.9" y="747.2" font-family="Liberation Sans, sans-serif" font-size="12.1" text-anchor="middle" transform="rotate(-45 598.9 743.0)">04.12</text>
<text x="646.7" y="747.2" font-family="Liberation Sans, sans-serif" font-size="12.1" text-anchor="middle" transform="rotate(-45 646.7 743.0)">05.00</text>
<text x="694.5" y="747.2" font-family="Liberation Sans, sans-serif" font-size="12.1" text-anchor="middle" transform="rotate(-45 694.5 743.0)">05.12</text>
<text x="742.3" y="747.2" font-family="Liberation Sans, sans-serif" font-size="12.1" text-anchor="middle" transform="rotate(-45 742.3 743.0)">06.00</text>
<text x="790.0" y="747.2" font-family="Liberation Sans, sans-serif" font-size="12.1" text-anchor="middle" transform="rotate(-45 790.0 743.0)">06.12</text>
<text x="837.8" y="747.2" font-family="Liberation Sans, sans-serif" font-size="12.1" text-anchor="middle" transform="rotate(-45 837.8 743.0)">07.00</text>
<text x="100" y="665.1" font-family="Liberation Sans, sans-serif" font-size="25" text-anchor="middle" transform="rotate(-90 100 665.1)" dy="9" textLength="138.1" lengthAdjust="spacingAndGlyphs">TEMP at 2 M</text>
<path d="M266.24 952.10H278.83V947.66H266.24zM278.83 952.10H291.43V949.88H278.83zM291.43 952.10H304.02V949.88H291.43zM631.44 952.10H644.03V945.45H631.44zM644.03 952.10H656.62V927.70H644.03zM656.62 952.10H669.22V941.01H656.62zM669.22 952.10H681.81V825.65H669.22zM807.74 952.10H820.33V938.79H807.74z" fill="#00ff00"/>
<path d="M159.20 819.0V952.1M171.79 819.0V952.1M184.39 819.0V952.1M196.98 819.0V952.1M209.57 819.0V952.1M222.16 819.0V952.1M234.76 819.0V952.1M247.35 819.0V952.1M259.94 819.0V952.1M272.54 819.0V952.1M285.13 819.0V952.1M297.72 819.0V952.1M310.32 819.0V952.1M322.91 819.0V952.1M335.50 819.0V952.1M348.10 819.0V952.1M360.69 819.0V952.1M373.28 819.0V952.1M385.87 819.0V952.1M398.47 819.0V952.1M411.06 819.0V952.1M423.65 819.0V952.1M436.25 819.0V952.1M448.84 819.0V952.1M461.43 819.0V952.1M474.02 819.0V952.1M486.62 819.0V952.1M499.21 819.0V952.1M511.80 819.0V952.1M524.40 819.0V952.1M536.99 819.0V952.1M549.58 819.0V952.1M562.18 819.0V952.1M574.77 819.0V952.1M587.36 819.0V952.1M599.95 819.0V952.1M612.55 819.0V952.1M625.14 819.0V952.1M637.73 819.0V952.1M650.33 819.0V952.1M662.92 819.0V952.1M675.51 819.0V952.1M688.11 819.0V952.1M700.70 819.0V952.1M713.29 819.0V952.1M725.88 819.0V952.1M738.48 819.0V952.1M751.07 819.0V952.1M763.66 819.0V952.1M776.26 819.0V952.1M788.85 819.0V952.1M801.44 819.0V952.1M814.04 819.0V952.1M826.63 819.0V952.1M839.22 819.0V952.1M851.82 819.0V952.1M864.41 819.0V952.1" stroke="#000" stroke-opacity="0.75" stroke-width="0.9" stroke-dasharray="3.4 6.15" stroke-dashoffset="3.40" fill="none"/>
<path d="M153.5 929.92H870.5M153.5 907.73H870.5M153.5 885.55H870.5M153.5 863.37H870.5M153.5 841.18H870.5" stroke="#000" stroke-opacity="0.75" stroke-width="0.9" stroke-dasharray="3.5 6.0" fill="none"/>
<path d="M153.5 952.10h-13.9M870.5 952.10h13.9M153.5 947.66h-6.8M870.5 947.66h6.8M153.5 943.23h-6.8M870.5 943.23h6.8M153.5 938.79h-6.8M870.5 938.79h6.8M153.5 934.35h-6.8M870.5 934.35h6.8M153.5 929.92h-13.9M870.5 929.92h13.9M153.5 925.48h-6.8M870.5 925.48h6.8M153.5 921.04h-6.8M870.5 921.04h6.8M153.5 916.61h-6.8M870.5 916.61h6.8M153.5 912.17h-6.8M870.5 912.17h6.8M153.5 907.73h-13.9M870.5 907.73h13.9M153.5 903.30h-6.8M870.5 903.30h6.8M153.5 898.86h-6.8M870.5 898.86h6.8M153.5 894.42h-6.8M870.5 894.42h6.8M153.5 889.99h-6.8M870.5 889.99h6.8M153.5 885.55h-13.9M870.5 885.55h13.9M153.5 881.11h-6.8M870.5 881.11h6.8M153.5 876.68h-6.8M870.5 876.68h6.8M153.5 872.24h-6.8M870.5 872.24h6.8M153.5 867.80h-6.8M870.5 867.80h6.8M153.5 863.37h-13.9M870.5 863.37h13.9M153.5 858.93h-6.8M870.5 858.93h6.8M153.5 854.49h-6.8M870.5 854.49h6.8M153.5 850.06h-6.8M870.5 850.06h6.8M153.5 845.62h-6.8M870.5 845.62h6.8M153.5 841.18h-13.9M870.5 841.18h13.9M153.5 836.75h-6.8M870.5 836.75h6.8M153.5 832.31h-6.8M870.5 832.31h6.8M153.5 827.87h-6.8M870.5 827.87h6.8M153.5 823.44h-6.8M870.5 823.44h6.8M153.5 819.00h-13.9M870.5 819.00h13.9M159.20 952.1V966.4M171.79 952.1V966.4M184.39 952.1V966.4M196.98 952.1V966.4M209.57 952.1V966.4M222.16 952.1V966.4M234.76 952.1V966.4M247.35 952.1V966.4M259.94 952.1V966.4M272.54 952.1V966.4M285.13 952.1V966.4M297.72 952.1V966.4M310.32 952.1V966.4M322.91 952.1V966.4M335.50 952.1V966.4M348.10 952.1V966.4M360.69 952.1V966.4M373.28 952.1V966.4M385.87 952.1V966.4M398.47 952.1V966.4M411.06 952.1V966.4M423.65 952.1V966.4M436.25 952.1V966.4M448.84 952.1V966.4M461.43 952.1V966.4M474.02 952.1V966.4M486.62 952.1V966.4M499.21 952.1V966.4M511.80 952.1V966.4M524.40 952.1V966.4M536.99 952.1V966.4M549.58 952.1V966.4M562.18 952.1V966.4M574.77 952.1V966.4M587.36 952.1V966.4M599.95 952.1V966.4M612.55 952.1V966.4M625.14 952.1V966.4M637.73 952.1V966.4M650.33 952.1V966.4M662.92 952.1V966.4M675.51 952.1V966.4M688.11 952.1V966.4M700.70 952.1V966.4M713.29 952.1V966.4M725.88 952.1V966.4M738.48 952.1V966.4M751.07 952.1V966.4M763.66 952.1V966.4M776.26 952.1V966.4M788.85 952.1V966.4M801.44 952.1V966.4M814.04 952.1V966.4M826.63 952.1V966.4M839.22 952.1V966.4M851.82 952.1V966.4M864.41 952.1V966.4" stroke="#000" stroke-width="1" fill="none"/>
<rect x="153.5" y="819.0" width="717.0" height="133.1" fill="none" stroke="#000" stroke-width="1.3"/>
<text x="133.6" y="956.0" font-family="Liberation Sans, sans-serif" font-size="9.6" text-anchor="end">0.00</text>
<text x="133.6" y="933.8" font-family="Liberation Sans, sans-serif" font-size="9.6" text-anchor="end">0.10</text>
<text x="133.6" y="911.6" font-family="Liberation Sans, sans-serif" font-size="9.6" text-anchor="end">0.20</text>
<text x="133.6" y="889.4" font-family="Liberation Sans, sans-serif" font-size="9.6" text-anchor="end">0.30</text>
<text x="133.6" y="867.3" font-family="Liberation Sans, sans-serif" font-size="9.6" text-anchor="end">0.40</text>
<text x="133.6" y="845.1" font-family="Liberation Sans, sans-serif" font-size="9.6" text-anchor="end">0.50</text>
<text x="133.6" y="822.9" font-family="Liberation Sans, sans-serif" font-size="9.6" text-anchor="end">0.60</text>
<text x="162.8" y="983.8" font-family="Liberation Sans, sans-serif" font-size="12.1" text-anchor="middle" transform="rotate(-45 162.8 979.6)">31.00</text>
<text x="213.2" y="983.8" font-family="Liberation Sans, sans-serif" font-size="12.1" text-anchor="middle" transform="rotate(-45 213.2 979.6)">31.12</text>
<text x="263.5" y="983.8" font-family="Liberation Sans, sans-serif" font-size="12.1" text-anchor="middle" transform="rotate(-45 263.5 979.6)">01.00</text>
<text x="313.9" y="983.8" font-family="Liberation Sans, sans-serif" font-size="12.1" text-anchor="middle" transform="rotate(-45 313.9 979.6)">01.12</text>
<text x="364.3" y="983.8" font-family="Liberation Sans, sans-serif" font-size="12.1" text-anchor="middle" transform="rotate(-45 364.3 979.6)">02.00</text>
<text x="414.7" y="983.8" font-family="Liberation Sans, sans-serif" font-size="12.1" text-anchor="middle" transform="rotate(-45 414.7 979.6)">02.12</text>
<text x="465.0" y="983.8" font-family="Liberation Sans, sans-serif" font-size="12.1" text-anchor="middle" transform="rotate(-45 465.0 979.6)">03.00</text>
<text x="515.4" y="983.8" font-family="Liberation Sans, sans-serif" font-size="12.1" text-anchor="middle" transform="rotate(-45 515.4 979.6)">03.12</text>
<text x="565.8" y="983.8" font-family="Liberation Sans, sans-serif" font-size="12.1" text-anchor="middle" transform="rotate(-45 565.8 979.6)">04.00</text>
<text x="616.1" y="983.8" font-family="Liberation Sans, sans-serif" font-size="12.1" text-anchor="middle" transform="rotate(-45 616.1 979.6)">04.12</text>
<text x="666.5" y="983.8" font-family="Liberation Sans, sans-serif" font-size="12.1" text-anchor="middle" transform="rotate(-45 666.5 979.6)">05.00</text>
<text x="716.9" y="983.8" font-family="Liberation Sans, sans-serif" font-size="12.1" text-anchor="middle" transform="rotate(-45 716.9 979.6)">05.12</text>
<text x="767.3" y="983.8" font-family="Liberation Sans, sans-serif" font-size="12.1" text-anchor="middle" transform="rotate(-45 767.3 979.6)">06.00</text>
<text x="817.6" y="983.8" font-family="Liberation Sans, sans-serif" font-size="12.1" text-anchor="middle" transform="rotate(-45 817.6 979.6)">06.12</text>
<text x="868.0" y="983.8" font-family="Liberation Sans, sans-serif" font-size="12.1" text-anchor="middle" transform="rotate(-45 868.0 979.6)">07.00</text>
<text x="87.3" y="885.5" font-family="Liberation Sans, sans-serif" font-size="25" text-anchor="middle" transform="rotate(-90 87.3 885.5)" dy="9" textLength="147.5" lengthAdjust="spacingAndGlyphs">PRECIP, mm</text>
</svg></body></html>
